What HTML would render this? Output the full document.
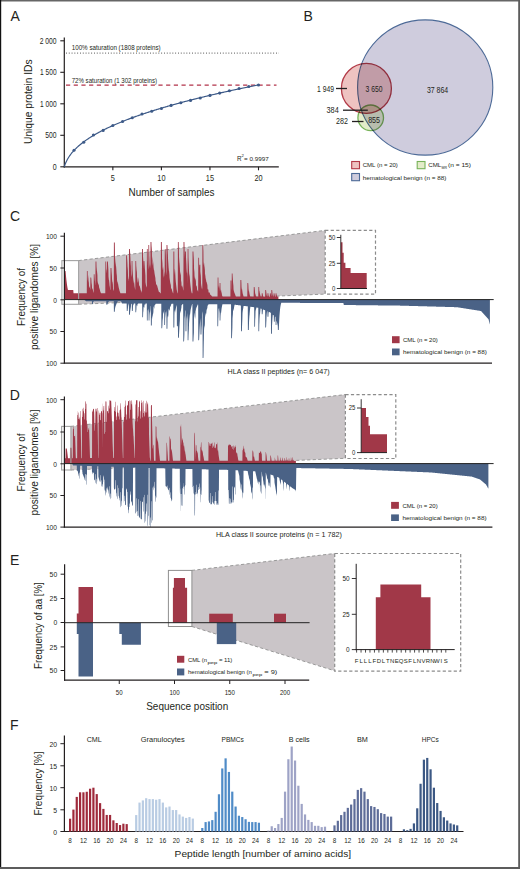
<!DOCTYPE html>
<html><head><meta charset="utf-8"><style>
html,body{margin:0;padding:0;background:#fff;width:520px;height:869px;overflow:hidden}
svg{display:block;font-family:"Liberation Sans", sans-serif}
</style></head><body>
<svg width="520" height="869" viewBox="0 0 520 869">
<rect x="0" y="0" width="520" height="869" fill="#fff"/>
<text x="10.40" y="20.90" font-size="14" text-anchor="start" fill="#231f20" >A</text>
<text x="303.40" y="20.90" font-size="14" text-anchor="start" fill="#231f20" >B</text>
<text x="10.00" y="220.90" font-size="14" text-anchor="start" fill="#231f20" >C</text>
<text x="9.80" y="399.90" font-size="14" text-anchor="start" fill="#231f20" >D</text>
<text x="10.00" y="564.50" font-size="14" text-anchor="start" fill="#231f20" >E</text>
<text x="9.90" y="730.00" font-size="14" text-anchor="start" fill="#231f20" >F</text>
<line x1="64.30" y1="37.50" x2="64.30" y2="167.40" stroke="#231f20" stroke-width="1.2" />
<line x1="63.70" y1="166.80" x2="278.80" y2="166.80" stroke="#231f20" stroke-width="1.2" />
<line x1="60.30" y1="40.80" x2="64.30" y2="40.80" stroke="#231f20" stroke-width="1.1" />
<text x="56.60" y="43.90" font-size="8.6" text-anchor="end" fill="#231f20" textLength="16.90" lengthAdjust="spacingAndGlyphs" >2 000</text>
<line x1="60.30" y1="72.30" x2="64.30" y2="72.30" stroke="#231f20" stroke-width="1.1" />
<text x="56.60" y="75.40" font-size="8.6" text-anchor="end" fill="#231f20" textLength="16.50" lengthAdjust="spacingAndGlyphs" >1 500</text>
<line x1="60.30" y1="103.80" x2="64.30" y2="103.80" stroke="#231f20" stroke-width="1.1" />
<text x="56.60" y="106.90" font-size="8.6" text-anchor="end" fill="#231f20" textLength="16.50" lengthAdjust="spacingAndGlyphs" >1 000</text>
<line x1="60.30" y1="135.30" x2="64.30" y2="135.30" stroke="#231f20" stroke-width="1.1" />
<text x="56.60" y="138.40" font-size="8.6" text-anchor="end" fill="#231f20" textLength="11.30" lengthAdjust="spacingAndGlyphs" >500</text>
<line x1="60.30" y1="166.80" x2="64.30" y2="166.80" stroke="#231f20" stroke-width="1.1" />
<text x="56.60" y="169.90" font-size="8.6" text-anchor="end" fill="#231f20" textLength="3.90" lengthAdjust="spacingAndGlyphs" >0</text>
<line x1="112.85" y1="166.80" x2="112.85" y2="170.30" stroke="#231f20" stroke-width="1.1" />
<text x="112.85" y="181.20" font-size="8.8" text-anchor="middle" fill="#231f20" textLength="4.10" lengthAdjust="spacingAndGlyphs" >5</text>
<line x1="161.40" y1="166.80" x2="161.40" y2="170.30" stroke="#231f20" stroke-width="1.1" />
<text x="161.40" y="181.20" font-size="8.8" text-anchor="middle" fill="#231f20" textLength="8.20" lengthAdjust="spacingAndGlyphs" >10</text>
<line x1="209.95" y1="166.80" x2="209.95" y2="170.30" stroke="#231f20" stroke-width="1.1" />
<text x="209.95" y="181.20" font-size="8.8" text-anchor="middle" fill="#231f20" textLength="8.20" lengthAdjust="spacingAndGlyphs" >15</text>
<line x1="258.50" y1="166.80" x2="258.50" y2="170.30" stroke="#231f20" stroke-width="1.1" />
<text x="258.50" y="181.20" font-size="8.8" text-anchor="middle" fill="#231f20" textLength="8.20" lengthAdjust="spacingAndGlyphs" >20</text>
<text x="171.50" y="195.50" font-size="10.6" text-anchor="middle" fill="#231f20" textLength="86.00" lengthAdjust="spacingAndGlyphs" >Number of samples</text>
<text x="32.20" y="101.70" font-size="11" text-anchor="middle" fill="#231f20" textLength="84.60" lengthAdjust="spacingAndGlyphs" transform="rotate(-90 32.20 101.70)" >Unique protein IDs</text>
<line x1="66.00" y1="53.10" x2="279.00" y2="53.10" stroke="#444" stroke-width="1.0" stroke-dasharray="0.9 1.9"/>
<line x1="66.00" y1="85.20" x2="276.50" y2="85.20" stroke="#b2334a" stroke-width="1.2" stroke-dasharray="4.2 3.5"/>
<text x="71.70" y="50.00" font-size="7.0" text-anchor="start" fill="#231f20" textLength="89.00" lengthAdjust="spacingAndGlyphs" >100% saturation (1808 proteins)</text>
<text x="71.70" y="82.60" font-size="7.0" text-anchor="start" fill="#231f20" textLength="85.30" lengthAdjust="spacingAndGlyphs" >72% saturation (1 302 proteins)</text>
<text x="237.00" y="160.60" font-size="6.3" text-anchor="start" fill="#231f20" >R</text>
<text x="241.40" y="157.30" font-size="4.2" text-anchor="start" fill="#231f20" >2</text>
<text x="244.00" y="160.60" font-size="6.0" text-anchor="start" fill="#231f20" textLength="24.80" lengthAdjust="spacingAndGlyphs" >= 0.9997</text>
<polyline points="64.30,166.80 64.91,164.91 65.51,163.32 66.12,161.91 66.73,160.65 67.33,159.50 67.94,158.44 68.55,157.45 69.16,156.51 69.76,155.63 70.37,154.79 70.98,153.99 71.58,153.22 72.19,152.48 72.80,151.78 73.40,151.09 74.01,150.43 74.62,149.79 75.22,149.17 75.83,148.56 76.44,147.98 77.04,147.40 77.65,146.84 78.26,146.30 78.86,145.77 79.47,145.25 80.08,144.74 80.69,144.24 81.29,143.75 81.90,143.27 82.51,142.79 83.11,142.33 83.72,141.88 84.33,141.43 84.93,140.99 85.54,140.56 86.15,140.13 86.75,139.71 87.36,139.30 87.97,138.89 88.58,138.49 89.18,138.09 89.79,137.70 90.40,137.31 91.00,136.93 91.61,136.56 92.22,136.19 92.82,135.82 93.43,135.46 94.04,135.10 94.64,134.74 95.25,134.39 95.86,134.05 96.46,133.70 97.07,133.37 97.68,133.03 98.28,132.70 98.89,132.37 99.50,132.04 100.11,131.72 100.71,131.40 101.32,131.09 101.93,130.77 102.53,130.46 103.14,130.15 103.75,129.85 104.35,129.55 104.96,129.25 105.57,128.95 106.17,128.65 106.78,128.36 107.39,128.07 108.00,127.78 108.60,127.50 109.21,127.21 109.82,126.93 110.42,126.65 111.03,126.38 111.64,126.10 112.24,125.83 112.85,125.56 113.46,125.29 114.06,125.02 114.67,124.76 115.28,124.49 115.88,124.23 116.49,123.97 117.10,123.72 117.70,123.46 118.31,123.20 118.92,122.95 119.53,122.70 120.13,122.45 120.74,122.20 121.35,121.95 121.95,121.71 122.56,121.47 123.17,121.22 123.77,120.98 124.38,120.74 124.99,120.50 125.59,120.27 126.20,120.03 126.81,119.80 127.42,119.56 128.02,119.33 128.63,119.10 129.24,118.87 129.84,118.65 130.45,118.42 131.06,118.19 131.66,117.97 132.27,117.75 132.88,117.53 133.48,117.30 134.09,117.08 134.70,116.87 135.30,116.65 135.91,116.43 136.52,116.22 137.12,116.00 137.73,115.79 138.34,115.58 138.95,115.37 139.55,115.16 140.16,114.95 140.77,114.74 141.37,114.53 141.98,114.32 142.59,114.12 143.19,113.91 143.80,113.71 144.41,113.51 145.01,113.31 145.62,113.10 146.23,112.90 146.84,112.71 147.44,112.51 148.05,112.31 148.66,112.11 149.26,111.92 149.87,111.72 150.48,111.53 151.08,111.33 151.69,111.14 152.30,110.95 152.90,110.76 153.51,110.57 154.12,110.38 154.72,110.19 155.33,110.00 155.94,109.81 156.55,109.63 157.15,109.44 157.76,109.25 158.37,109.07 158.97,108.89 159.58,108.70 160.19,108.52 160.79,108.34 161.40,108.16 162.01,107.98 162.61,107.80 163.22,107.62 163.83,107.44 164.43,107.26 165.04,107.08 165.65,106.91 166.25,106.73 166.86,106.55 167.47,106.38 168.08,106.20 168.68,106.03 169.29,105.86 169.90,105.68 170.50,105.51 171.11,105.34 171.72,105.17 172.32,105.00 172.93,104.83 173.54,104.66 174.14,104.49 174.75,104.32 175.36,104.16 175.97,103.99 176.57,103.82 177.18,103.66 177.79,103.49 178.39,103.33 179.00,103.16 179.61,103.00 180.21,102.83 180.82,102.67 181.43,102.51 182.03,102.35 182.64,102.18 183.25,102.02 183.85,101.86 184.46,101.70 185.07,101.54 185.68,101.38 186.28,101.22 186.89,101.07 187.50,100.91 188.10,100.75 188.71,100.59 189.32,100.44 189.92,100.28 190.53,100.13 191.14,99.97 191.74,99.82 192.35,99.66 192.96,99.51 193.56,99.36 194.17,99.20 194.78,99.05 195.38,98.90 195.99,98.75 196.60,98.59 197.21,98.44 197.81,98.29 198.42,98.14 199.03,97.99 199.63,97.84 200.24,97.69 200.85,97.55 201.45,97.40 202.06,97.25 202.67,97.10 203.27,96.96 203.88,96.81 204.49,96.66 205.10,96.52 205.70,96.37 206.31,96.23 206.92,96.08 207.52,95.94 208.13,95.79 208.74,95.65 209.34,95.50 209.95,95.36 210.56,95.22 211.16,95.08 211.77,94.93 212.38,94.79 212.98,94.65 213.59,94.51 214.20,94.37 214.81,94.23 215.41,94.09 216.02,93.95 216.63,93.81 217.23,93.67 217.84,93.53 218.45,93.39 219.05,93.26 219.66,93.12 220.27,92.98 220.87,92.84 221.48,92.71 222.09,92.57 222.69,92.43 223.30,92.30 223.91,92.16 224.51,92.03 225.12,91.89 225.73,91.76 226.34,91.62 226.94,91.49 227.55,91.35 228.16,91.22 228.76,91.09 229.37,90.95 229.98,90.82 230.58,90.69 231.19,90.56 231.80,90.43 232.40,90.29 233.01,90.16 233.62,90.03 234.23,89.90 234.83,89.77 235.44,89.64 236.05,89.51 236.65,89.38 237.26,89.25 237.87,89.12 238.47,88.99 239.08,88.86 239.69,88.74 240.29,88.61 240.90,88.48 241.51,88.35 242.11,88.23 242.72,88.10 243.33,87.97 243.94,87.85 244.54,87.72 245.15,87.59 245.76,87.47 246.36,87.34 246.97,87.22 247.58,87.09 248.18,86.97 248.79,86.84 249.40,86.72 250.00,86.59 250.61,86.47 251.22,86.35 251.82,86.22 252.43,86.10 253.04,85.98 253.65,85.85 254.25,85.73 254.86,85.61 255.47,85.49 256.07,85.36 256.68,85.24 257.29,85.12 257.89,85.00 258.50,84.88" fill="none" stroke="#3d5a88" stroke-width="1.2"/>
<circle cx="74.01" cy="150.30" r="1.55" fill="#3d5a88"/>
<circle cx="83.72" cy="142.30" r="1.55" fill="#3d5a88"/>
<circle cx="93.43" cy="135.00" r="1.55" fill="#3d5a88"/>
<circle cx="103.14" cy="130.40" r="1.55" fill="#3d5a88"/>
<circle cx="112.85" cy="125.50" r="1.55" fill="#3d5a88"/>
<circle cx="122.56" cy="121.50" r="1.55" fill="#3d5a88"/>
<circle cx="132.27" cy="117.80" r="1.55" fill="#3d5a88"/>
<circle cx="141.98" cy="114.00" r="1.55" fill="#3d5a88"/>
<circle cx="151.69" cy="111.20" r="1.55" fill="#3d5a88"/>
<circle cx="161.40" cy="108.50" r="1.55" fill="#3d5a88"/>
<circle cx="171.11" cy="105.40" r="1.55" fill="#3d5a88"/>
<circle cx="180.82" cy="102.70" r="1.55" fill="#3d5a88"/>
<circle cx="190.53" cy="100.40" r="1.55" fill="#3d5a88"/>
<circle cx="200.24" cy="98.00" r="1.55" fill="#3d5a88"/>
<circle cx="209.95" cy="95.40" r="1.55" fill="#3d5a88"/>
<circle cx="219.66" cy="93.10" r="1.55" fill="#3d5a88"/>
<circle cx="229.37" cy="90.80" r="1.55" fill="#3d5a88"/>
<circle cx="239.08" cy="88.50" r="1.55" fill="#3d5a88"/>
<circle cx="248.79" cy="86.50" r="1.55" fill="#3d5a88"/>
<circle cx="258.50" cy="85.00" r="1.55" fill="#3d5a88"/>
<g style="isolation:isolate">
<circle cx="425.2" cy="87.5" r="67.6" fill="#cfccdd" stroke="#4d6a97" stroke-width="1.1"/>
<circle cx="366.4" cy="88.4" r="25" fill="#eec3c1" stroke="#b23a47" stroke-width="1.3" style="mix-blend-mode:multiply"/>
<circle cx="370.7" cy="117.8" r="12.8" fill="#e3ecc9" stroke="#78b35a" stroke-width="1.3" style="mix-blend-mode:multiply"/>
</g>
<text x="374.00" y="92.20" font-size="8.6" text-anchor="middle" fill="#231f20" textLength="16.90" lengthAdjust="spacingAndGlyphs" >3 650</text>
<text x="437.60" y="92.60" font-size="8.6" text-anchor="middle" fill="#231f20" textLength="21.30" lengthAdjust="spacingAndGlyphs" >37 864</text>
<text x="374.10" y="122.50" font-size="8.6" text-anchor="middle" fill="#231f20" textLength="11.90" lengthAdjust="spacingAndGlyphs" >855</text>
<text x="334.00" y="92.10" font-size="8.6" text-anchor="end" fill="#231f20" textLength="17.00" lengthAdjust="spacingAndGlyphs" >1 949</text>
<text x="338.70" y="113.10" font-size="8.6" text-anchor="end" fill="#231f20" textLength="12.20" lengthAdjust="spacingAndGlyphs" >384</text>
<text x="347.90" y="124.40" font-size="8.6" text-anchor="end" fill="#231f20" textLength="11.90" lengthAdjust="spacingAndGlyphs" >282</text>
<line x1="336.00" y1="88.50" x2="347.00" y2="88.50" stroke="#231f20" stroke-width="1.3" />
<line x1="343.00" y1="110.20" x2="367.80" y2="110.20" stroke="#231f20" stroke-width="1.3" />
<line x1="352.00" y1="121.50" x2="363.50" y2="121.50" stroke="#231f20" stroke-width="1.3" />
<rect x="351.70" y="161.50" width="7.80" height="7.20" fill="#eec3c1" stroke="#b23a47" stroke-width="1.1" />
<rect x="351.70" y="173.50" width="7.80" height="7.20" fill="#cfccdd" stroke="#4d6a97" stroke-width="1.1" />
<rect x="417.20" y="161.50" width="7.80" height="7.20" fill="#e3ecc9" stroke="#78b35a" stroke-width="1.1" />
<text x="362.70" y="167.30" font-size="6.2" text-anchor="start" fill="#231f20" textLength="35.20" lengthAdjust="spacingAndGlyphs" >CML (n = 20)</text>
<text x="362.70" y="179.50" font-size="6.2" text-anchor="start" fill="#231f20" textLength="83.70" lengthAdjust="spacingAndGlyphs" >hematological benign (n = 88)</text>
<text x="428.30" y="167.30" font-size="6.2" text-anchor="start" fill="#231f20" textLength="13.00" lengthAdjust="spacingAndGlyphs" >CML</text>
<text x="441.50" y="169.30" font-size="3.6" text-anchor="start" fill="#231f20" textLength="5.50" lengthAdjust="spacingAndGlyphs" >MR</text>
<text x="448.00" y="167.30" font-size="6.2" text-anchor="start" fill="#231f20" textLength="23.00" lengthAdjust="spacingAndGlyphs" >(n = 15)</text>
<polygon points="78.6,260.6 325.2,230.4 325.2,294.1 78.6,304.3" fill="#cac5c8"/>
<line x1="78.60" y1="260.60" x2="325.20" y2="230.40" stroke="#999" stroke-width="1.0" stroke-dasharray="3.2 2.3"/>
<line x1="78.60" y1="304.30" x2="325.20" y2="294.10" stroke="#999" stroke-width="1.0" stroke-dasharray="3.2 2.3"/>
<path d="M64.40,299.60L64.40,293.26L64.53,293.11L64.65,292.96L64.78,271.07L64.90,271.07L65.03,271.07L65.15,271.07L65.28,271.07L65.40,271.07L65.53,271.07L65.65,271.72L65.78,273.29L65.90,274.77L66.03,276.17L66.15,277.48L66.28,278.73L66.40,279.90L66.53,281.01L66.65,282.05L66.78,283.04L66.90,283.97L67.03,284.85L67.15,285.68L67.28,286.46L67.40,287.20L67.53,287.90L67.65,288.56L67.78,289.18L67.90,289.76L68.03,290.09L68.15,290.09L68.28,290.09L68.40,290.09L68.53,290.09L68.65,290.09L68.78,290.09L68.90,290.09L69.03,290.09L69.15,290.09L69.28,290.09L69.40,290.09L69.53,290.09L69.65,290.09L69.78,290.09L69.90,290.09L70.03,290.09L70.15,290.09L70.28,290.09L70.40,290.09L70.53,290.09L70.65,290.09L70.78,290.09L70.90,290.09L71.03,290.09L71.15,290.09L71.28,290.09L71.40,290.09L71.53,290.09L71.65,290.09L71.78,290.09L71.90,290.09L72.03,290.09L72.15,290.09L72.28,290.09L72.40,290.09L72.53,290.09L72.65,290.09L72.78,290.09L72.90,290.09L73.03,290.09L73.15,290.09L73.28,290.09L73.40,291.68L73.53,293.26L73.65,293.26L73.78,293.26L73.90,293.26L74.03,293.26L74.15,293.26L74.28,293.26L74.40,293.26L74.53,293.26L74.65,293.26L74.78,293.26L74.90,293.26L75.03,293.26L75.15,293.26L75.28,293.26L75.40,293.26L75.53,293.26L75.65,293.26L75.78,293.26L75.90,293.26L76.03,293.26L76.15,293.26L76.28,293.26L76.40,293.26L76.53,293.26L76.65,293.26L76.78,293.26L76.90,293.26L77.03,293.26L77.15,293.26L77.28,293.26L77.40,293.26L77.53,293.26L77.65,293.26L77.78,293.26L77.90,293.26L78.03,293.26L78.15,293.26L78.28,293.26L78.40,293.26L78.53,293.26L78.65,293.26L78.78,293.26L78.90,293.26L79.03,293.26L79.15,293.26L79.28,293.26L79.40,293.26L79.53,293.26L79.65,293.26L79.78,293.26L79.90,293.26L80.03,293.26L80.15,293.26L80.28,293.26L80.40,293.26L80.53,293.26L80.65,293.26L80.78,293.26L80.90,293.26L81.03,293.26L81.15,293.26L81.28,293.26L81.40,293.26L81.53,293.26L81.65,293.26L81.78,293.26L81.90,293.26L82.03,293.26L82.15,293.26L82.28,293.26L82.40,293.26L82.53,293.26L82.65,293.26L82.78,293.26L82.90,293.26L83.03,293.26L83.15,293.26L83.28,293.26L83.40,293.26L83.53,293.26L83.65,293.26L83.78,293.26L83.90,293.26L84.03,293.26L84.15,293.26L84.28,293.26L84.40,293.26L84.53,293.26L84.65,293.26L84.78,293.26L84.90,293.26L85.03,293.26L85.15,293.26L85.28,293.26L85.40,293.26L85.53,293.26L85.65,293.26L85.78,293.26L85.90,293.26L86.03,293.26L86.15,293.26L86.28,293.26L86.40,293.26L86.53,293.26L86.65,293.26L86.78,293.26L86.90,271.07L87.03,271.07L87.15,271.07L87.28,271.07L87.40,271.07L87.53,271.07L87.65,271.07L87.78,279.85L87.90,280.67L88.03,274.85L88.15,276.02L88.28,277.14L88.40,278.20L88.53,280.24L88.65,281.13L88.78,281.98L88.90,282.79L89.03,286.75L89.15,287.24L89.28,287.71L89.40,288.16L89.53,285.60L89.65,286.26L89.78,286.90L89.90,287.50L90.03,288.92L90.15,289.38L90.28,289.81L90.40,277.41L90.53,277.41L90.65,277.41L90.78,277.41L90.90,277.41L91.03,277.41L91.15,277.41L91.28,278.58L91.40,279.83L91.53,282.40L91.65,283.38L91.78,284.30L91.90,285.16L92.03,287.97L92.15,288.52L92.28,289.05L92.40,289.54L92.53,288.11L92.65,288.79L92.78,289.44L92.90,290.04L93.03,290.92L93.15,291.39L93.28,291.84L93.40,292.25L93.53,292.74L93.65,293.05L93.78,274.24L93.90,274.24L94.03,274.24L94.15,274.24L94.28,274.24L94.40,274.24L94.53,274.24L94.65,276.94L94.78,278.89L94.90,280.67L95.03,281.32L95.15,282.93L95.28,284.39L95.40,285.72L95.53,261.56L95.65,261.56L95.78,261.56L95.90,261.56L96.03,261.56L96.15,261.56L96.28,261.56L96.40,261.56L96.53,266.43L96.65,267.98L96.78,269.45L96.90,270.86L97.03,271.20L97.15,272.53L97.28,273.80L97.40,275.01L97.53,280.81L97.65,281.61L97.78,282.37L97.90,283.10L98.03,283.09L98.15,283.80L98.28,284.47L98.40,285.11L98.53,283.44L98.65,284.20L98.78,284.92L98.90,285.60L99.03,287.01L99.15,287.57L99.28,288.09L99.40,288.60L99.53,288.52L99.65,289.04L99.78,289.53L99.90,290.00L100.03,290.61L100.15,291.01L100.28,291.39L100.40,291.76L100.53,292.05L100.65,292.40L100.78,292.72L100.90,293.03L101.03,293.26L101.15,293.26L101.28,293.26L101.40,293.26L101.53,293.26L101.65,293.26L101.78,293.26L101.90,293.26L102.03,293.26L102.15,293.26L102.28,293.26L102.40,293.26L102.53,293.26L102.65,293.26L102.78,293.26L102.90,293.26L103.03,293.26L103.15,293.26L103.28,293.26L103.40,293.26L103.53,293.26L103.65,293.26L103.78,293.26L103.90,293.26L104.03,293.26L104.15,293.26L104.28,293.26L104.40,293.26L104.53,293.26L104.65,293.26L104.78,293.26L104.90,293.26L105.03,293.26L105.15,293.26L105.28,293.26L105.40,261.56L105.53,261.56L105.65,261.56L105.78,261.56L105.90,261.56L106.03,261.56L106.15,261.56L106.28,268.20L106.40,269.64L106.53,269.43L106.65,270.83L106.78,272.16L106.90,273.43L107.03,261.56L107.15,261.56L107.28,261.56L107.40,261.56L107.53,261.56L107.65,261.56L107.78,261.56L107.90,261.56L108.03,263.95L108.15,266.08L108.28,268.09L108.40,269.97L108.53,276.55L108.65,277.85L108.78,279.06L108.90,280.21L109.03,279.69L109.15,280.84L109.28,281.91L109.40,282.92L109.53,284.89L109.65,285.68L109.78,286.43L109.90,287.14L110.03,289.15L110.15,289.62L110.28,290.06L110.40,290.47L110.53,267.90L110.65,267.90L110.78,267.90L110.90,267.90L111.03,267.90L111.15,267.90L111.28,267.90L111.40,267.90L111.53,270.80L111.65,272.51L111.78,274.12L111.90,275.63L112.03,279.00L112.15,280.17L112.28,281.27L112.40,282.31L112.53,281.71L112.65,282.77L112.78,283.77L112.90,284.70L113.03,288.69L113.15,289.18L113.28,289.65L113.40,290.08L113.53,290.41L113.65,290.81L113.78,291.18L113.90,242.54L114.03,242.54L114.15,242.54L114.28,242.54L114.40,242.54L114.53,242.54L114.65,242.54L114.78,242.54L114.90,249.59L115.03,261.97L115.15,263.66L115.28,265.27L115.40,266.81L115.53,256.87L115.65,258.90L115.78,260.84L115.90,262.68L116.03,265.45L116.15,267.06L116.28,268.60L116.40,270.06L116.53,272.67L116.65,273.92L116.78,275.12L116.90,276.25L117.03,280.00L117.15,280.86L117.28,281.67L117.40,282.45L117.53,281.30L117.65,282.14L117.78,282.94L117.90,283.70L118.03,283.45L118.15,284.22L118.28,284.95L118.40,285.64L118.53,286.62L118.65,287.22L118.78,287.79L118.90,288.34L119.03,288.83L119.15,289.33L119.28,289.80L119.40,290.25L119.53,290.67L119.65,291.08L119.78,291.47L119.90,291.85L120.03,292.17L120.15,292.52L120.28,292.85L120.40,293.17L120.53,293.26L120.65,293.26L120.78,293.26L120.90,293.26L121.03,293.26L121.15,293.26L121.28,293.26L121.40,293.26L121.53,293.26L121.65,293.26L121.78,293.26L121.90,293.26L122.03,293.26L122.15,293.26L122.28,293.26L122.40,293.26L122.53,293.26L122.65,293.26L122.78,293.26L122.90,293.26L123.03,293.26L123.15,293.26L123.28,293.26L123.40,293.26L123.53,293.26L123.65,293.26L123.78,293.26L123.90,293.26L124.03,293.26L124.15,293.26L124.28,293.26L124.40,293.26L124.53,293.26L124.65,293.26L124.78,293.26L124.90,293.26L125.03,293.26L125.15,293.26L125.28,293.26L125.40,293.26L125.53,293.26L125.65,293.26L125.78,293.26L125.90,293.26L126.03,293.26L126.15,255.22L126.28,255.22L126.40,255.22L126.53,255.22L126.65,255.22L126.78,255.22L126.90,255.22L127.03,256.92L127.15,258.85L127.28,260.68L127.40,262.43L127.53,266.14L127.65,267.62L127.78,269.04L127.90,270.39L128.03,276.10L128.15,277.08L128.28,278.02L128.40,278.91L128.53,278.74L128.65,279.62L128.78,280.46L128.90,281.26L129.03,248.88L129.15,248.88L129.28,248.88L129.40,248.88L129.53,248.88L129.65,248.88L129.78,248.88L129.90,248.88L130.03,251.27L130.15,253.45L130.28,255.54L130.40,257.53L130.53,261.31L130.65,263.02L130.78,264.66L130.90,266.22L131.03,274.22L131.15,275.28L131.28,276.30L131.40,277.27L131.53,273.58L131.65,260.93L131.78,260.93L131.90,260.93L132.03,260.93L132.15,260.93L132.28,260.93L132.40,260.93L132.53,269.00L132.65,270.74L132.78,272.38L132.90,273.92L133.03,276.89L133.15,278.13L133.28,279.30L133.40,280.40L133.53,280.70L133.65,281.74L133.78,282.71L133.90,283.62L134.03,281.39L134.15,282.48L134.28,283.50L134.40,284.47L134.53,286.00L134.65,286.78L134.78,287.52L134.90,288.21L135.03,288.95L135.15,289.55L135.28,290.11L135.40,260.93L135.53,260.93L135.65,260.93L135.78,260.93L135.90,260.93L136.03,260.93L136.15,260.93L136.28,265.93L136.40,267.12L136.53,269.26L136.65,270.33L136.78,271.35L136.90,272.34L137.03,276.71L137.15,277.47L137.28,278.20L137.40,278.91L137.53,281.38L137.65,281.95L137.78,282.50L137.90,283.03L138.03,277.20L138.15,278.01L138.28,278.80L138.40,279.55L138.53,280.49L138.65,281.18L138.78,281.85L138.90,282.49L139.03,284.89L139.15,285.38L139.28,285.85L139.40,286.31L139.53,285.22L139.65,285.75L139.78,286.25L139.90,286.73L140.03,287.29L140.15,287.73L140.28,288.16L140.40,288.57L140.53,289.52L140.65,289.85L140.78,290.17L140.90,290.48L141.03,290.38L141.15,290.71L141.28,291.03L141.40,291.34L141.53,292.07L141.65,292.28L141.78,292.48L141.90,292.68L142.03,248.88L142.15,248.88L142.28,248.88L142.40,248.88L142.53,248.88L142.65,248.88L142.78,248.88L142.90,248.88L143.03,256.55L143.15,258.46L143.28,260.28L143.40,262.03L143.53,269.05L143.65,260.93L143.78,260.93L143.90,260.93L144.03,260.93L144.15,260.93L144.28,260.93L144.40,260.93L144.53,262.48L144.65,264.69L144.78,266.77L144.90,268.72L145.03,270.06L145.15,271.82L145.28,273.48L145.40,275.04L145.53,282.16L145.65,283.07L145.78,283.93L145.90,284.74L146.03,285.80L146.15,286.49L146.28,287.13L146.40,287.74L146.53,285.51L146.65,286.35L146.78,287.13L146.90,248.88L147.03,248.88L147.15,248.88L147.28,248.88L147.40,248.88L147.53,248.88L147.65,248.88L147.78,260.28L147.90,261.99L148.03,267.05L148.15,268.43L148.28,269.75L148.40,245.08L148.53,245.08L148.65,245.08L148.78,245.08L148.90,245.08L149.03,245.08L149.15,245.08L149.28,255.86L149.40,257.78L149.53,263.59L149.65,265.14L149.78,266.61L149.90,268.02L150.03,264.03L150.15,265.60L150.28,267.10L150.40,268.53L150.53,241.91L150.65,241.91L150.78,241.91L150.90,241.91L151.03,241.91L151.15,241.91L151.28,241.91L151.40,241.91L151.53,245.43L151.65,247.07L151.78,248.66L151.90,250.20L152.03,262.82L152.15,263.88L152.28,264.91L152.40,265.90L152.53,255.93L152.65,257.26L152.78,258.55L152.90,259.79L153.03,260.98L153.15,262.15L153.28,263.29L153.40,264.39L153.53,267.10L153.65,268.07L153.78,269.02L153.90,269.94L154.03,269.47L154.15,270.38L154.28,271.27L154.40,272.13L154.53,273.13L154.65,273.94L154.78,274.71L154.90,275.47L155.03,276.03L155.15,276.75L155.28,277.44L155.40,278.12L155.53,280.56L155.65,281.12L155.78,281.65L155.90,282.18L156.03,283.82L156.15,284.26L156.28,284.68L156.40,285.10L156.53,284.14L156.65,284.59L156.78,285.03L156.90,285.46L157.03,285.28L157.15,285.71L157.28,286.13L157.40,286.54L157.53,287.20L157.65,287.57L157.78,287.92L157.90,288.27L158.03,289.13L158.15,289.42L158.28,289.70L158.40,289.97L158.53,291.10L158.65,291.28L158.78,291.46L158.90,291.63L159.03,291.90L159.15,292.05L159.28,292.19L159.40,292.33L159.53,291.88L159.65,292.11L159.78,292.33L159.90,292.55L160.03,292.74L160.15,292.95L160.28,293.15L160.40,293.26L160.53,293.26L160.65,293.26L160.78,293.26L160.90,241.91L161.03,241.91L161.15,241.91L161.28,241.91L161.40,241.91L161.53,241.91L161.65,241.91L161.78,241.91L161.90,248.40L162.03,258.57L162.15,260.10L162.28,261.57L162.40,262.99L162.53,267.10L162.65,268.28L162.78,269.42L162.90,270.51L163.03,265.97L163.15,267.24L163.28,268.46L163.40,269.63L163.53,275.49L163.65,276.35L163.78,277.17L163.90,277.96L164.03,271.14L164.15,272.24L164.28,273.31L164.40,274.33L164.53,275.91L164.65,276.82L164.78,248.88L164.90,248.88L165.03,248.88L165.15,248.88L165.28,248.88L165.40,248.88L165.53,248.88L165.65,250.36L165.78,253.20L165.90,255.88L166.03,271.27L166.15,272.77L166.28,274.18L166.40,275.51L166.53,245.08L166.65,245.08L166.78,245.08L166.90,245.08L167.03,245.08L167.15,245.08L167.28,245.08L167.40,245.08L167.53,247.72L167.65,250.13L167.78,252.43L167.90,254.62L168.03,258.77L168.15,260.66L168.28,262.45L168.40,264.16L168.53,266.38L168.65,267.90L168.78,269.35L168.90,270.73L169.03,270.58L169.15,271.93L169.28,273.21L169.40,274.43L169.53,277.52L169.65,278.51L169.78,279.46L169.90,280.36L170.03,281.31L170.15,282.12L170.28,282.90L170.40,283.63L170.53,283.48L170.65,284.22L170.78,284.92L170.90,285.59L171.03,287.70L171.15,288.18L171.28,288.64L171.40,289.07L171.53,288.33L171.65,288.85L171.78,289.35L171.90,289.82L172.03,290.29L172.15,290.72L172.28,291.12L172.40,291.51L172.53,291.94L172.65,292.28L172.78,292.60L172.90,292.91L173.03,293.21L173.15,293.26L173.28,293.26L173.40,251.42L173.53,251.42L173.65,251.42L173.78,251.42L173.90,251.42L174.03,251.42L174.15,251.42L174.28,251.42L174.40,269.15L174.53,268.76L174.65,270.97L174.78,273.00L174.90,274.88L175.03,269.32L175.15,271.62L175.28,273.76L175.40,275.73L175.53,278.43L175.65,280.02L175.78,281.48L175.90,282.84L176.03,283.72L176.15,284.92L176.28,286.03L176.40,287.05L176.53,288.36L176.65,289.17L176.78,289.93L176.90,290.62L177.03,291.13L177.15,291.76L177.28,292.35L177.40,292.88L177.53,293.26L177.65,293.26L177.78,293.26L177.90,241.91L178.03,241.91L178.15,241.91L178.28,241.91L178.40,241.91L178.53,241.91L178.65,241.91L178.78,246.81L178.90,249.24L179.03,257.11L179.15,259.03L179.28,260.86L179.40,262.61L179.53,263.18L179.65,264.83L179.78,266.40L179.90,267.89L180.03,272.02L180.15,273.23L180.28,274.38L180.40,275.48L180.53,270.85L180.65,272.19L180.78,273.46L180.90,274.68L181.03,280.16L181.15,280.99L181.28,281.79L181.40,282.54L181.53,285.30L181.65,285.85L181.78,286.37L181.90,286.87L182.03,284.97L182.15,285.60L182.28,286.20L182.40,286.78L182.53,286.43L182.65,287.03L182.78,287.60L182.90,288.15L183.03,289.46L183.15,289.87L183.28,290.27L183.40,290.64L183.53,241.91L183.65,241.91L183.78,241.91L183.90,241.91L184.03,241.91L184.15,241.91L184.28,241.91L184.40,241.91L184.53,246.76L184.65,250.79L184.78,254.51L184.90,257.95L185.03,251.42L185.15,251.42L185.28,251.42L185.40,251.42L185.53,251.42L185.65,251.42L185.78,251.42L185.90,251.42L186.03,257.37L186.15,259.78L186.28,262.05L186.40,264.19L186.53,268.49L186.65,270.23L186.78,271.87L186.90,273.41L187.03,271.42L187.15,273.04L187.28,274.58L187.40,276.02L187.53,284.36L187.65,248.88L187.78,248.88L187.90,248.88L188.03,248.88L188.15,248.88L188.28,248.88L188.40,248.88L188.53,257.62L188.65,260.74L188.78,263.62L188.90,266.27L189.03,271.08L189.15,273.13L189.28,275.02L189.40,276.77L189.53,273.46L189.65,275.45L189.78,277.28L189.90,278.98L190.03,280.89L190.15,282.30L190.28,283.60L190.40,284.80L190.53,285.79L190.65,286.83L190.78,287.79L190.90,288.68L191.03,290.01L191.15,290.66L191.28,291.27L191.40,291.83L191.53,292.17L191.65,292.74L191.78,293.26L191.90,293.26L192.03,293.26L192.15,293.26L192.28,293.26L192.40,293.26L192.53,251.42L192.65,251.42L192.78,251.42L192.90,251.42L193.03,251.42L193.15,251.42L193.28,251.42L193.40,251.42L193.53,253.85L193.65,255.98L193.78,258.01L193.90,259.94L194.03,268.30L194.15,269.70L194.28,271.02L194.40,272.29L194.53,275.73L194.65,276.75L194.78,277.73L194.90,278.66L195.03,277.15L195.15,278.14L195.28,279.09L195.40,279.99L195.53,278.55L195.65,279.52L195.78,280.45L195.90,281.33L196.03,285.03L196.15,285.63L196.28,286.20L196.40,286.74L196.53,285.03L196.65,285.70L196.78,286.35L196.90,286.96L197.03,289.27L197.15,289.66L197.28,290.03L197.40,290.38L197.53,290.15L197.65,290.54L197.78,290.92L197.90,291.28L198.03,291.40L198.15,291.77L198.28,257.76L198.40,257.76L198.53,257.76L198.65,257.76L198.78,257.76L198.90,257.76L199.03,257.76L199.15,265.15L199.28,267.69L199.40,264.73L199.53,264.73L199.65,264.73L199.78,264.73L199.90,264.73L200.03,264.73L200.15,264.73L200.28,264.73L200.40,275.39L200.53,271.28L200.65,273.40L200.78,275.36L200.90,277.17L201.03,283.21L201.15,284.28L201.28,285.28L201.40,286.20L201.53,286.62L201.65,287.46L201.78,288.23L201.90,288.95L202.03,287.96L202.15,288.85L202.28,289.67L202.40,245.08L202.53,245.08L202.65,245.08L202.78,245.08L202.90,245.08L203.03,245.08L203.15,245.08L203.28,248.39L203.40,250.38L203.53,261.38L203.65,262.81L203.78,264.17L203.90,265.49L204.03,262.36L204.15,263.78L204.28,265.14L204.40,266.44L204.53,266.57L204.65,267.84L204.78,269.05L204.90,270.21L205.03,277.79L205.15,278.55L205.28,279.28L205.40,279.98L205.53,273.57L205.65,274.58L205.78,275.55L205.90,276.49L206.03,279.62L206.15,280.55L206.28,281.45L206.40,282.17L206.53,281.39L206.65,282.09L206.78,282.77L206.90,283.42L207.03,283.42L207.15,284.05L207.28,284.65L207.40,285.23L207.53,288.51L207.65,288.91L207.78,289.29L207.90,289.66L208.03,289.04L208.15,289.43L208.28,289.81L208.40,290.17L208.53,292.02L208.65,292.27L208.78,292.51L208.90,292.74L209.03,291.89L209.15,292.17L209.28,292.44L209.40,292.70L209.53,292.49L209.65,292.76L209.78,293.02L209.90,293.27L210.03,294.70L210.15,294.83L210.28,294.97L210.40,295.09L210.53,294.28L210.65,294.49L210.78,294.69L210.90,294.88L211.03,295.05L211.15,295.23L211.28,295.40L211.40,295.56L211.53,295.89L211.65,296.01L211.78,296.12L211.90,296.22L212.03,296.30L212.15,296.42L212.28,296.43L212.40,296.43L212.53,296.43L212.65,296.43L212.78,296.43L212.90,296.43L213.03,296.43L213.15,296.43L213.28,296.43L213.40,296.43L213.53,296.43L213.65,296.43L213.78,296.43L213.90,296.43L214.03,296.43L214.15,296.43L214.28,296.43L214.40,296.43L214.53,296.43L214.65,296.43L214.78,296.43L214.90,296.43L215.03,296.43L215.15,296.43L215.28,296.43L215.40,296.43L215.53,296.43L215.65,296.43L215.78,296.43L215.90,296.43L216.03,296.43L216.15,296.43L216.28,296.43L216.40,296.43L216.53,296.43L216.65,296.43L216.78,296.43L216.90,296.43L217.03,296.43L217.15,296.43L217.28,296.43L217.40,296.43L217.53,296.43L217.65,277.41L217.78,277.41L217.90,277.41L218.03,277.41L218.15,277.41L218.28,277.41L218.40,277.41L218.53,284.61L218.65,285.92L218.78,287.10L218.90,288.17L219.03,285.11L219.15,286.48L219.28,287.71L219.40,288.83L219.53,291.58L219.65,283.12L219.78,283.12L219.90,283.12L220.03,283.12L220.15,283.12L220.28,283.12L220.40,283.12L220.53,288.84L220.65,289.73L220.78,290.54L220.90,291.27L221.03,289.71L221.15,290.60L221.28,291.42L221.40,292.15L221.53,292.30L221.65,292.99L221.78,293.61L221.90,294.18L222.03,295.37L222.15,295.65L222.28,295.91L222.40,296.14L222.53,296.30L222.65,296.43L222.78,296.43L222.90,296.43L223.03,296.43L223.15,296.43L223.28,296.43L223.40,296.43L223.53,296.43L223.65,296.43L223.78,296.43L223.90,296.43L224.03,296.43L224.15,296.43L224.28,296.43L224.40,296.43L224.53,296.43L224.65,296.43L224.78,296.43L224.90,296.43L225.03,296.43L225.15,296.43L225.28,296.43L225.40,296.43L225.53,296.43L225.65,296.43L225.78,296.43L225.90,296.43L226.03,296.43L226.15,296.43L226.28,296.43L226.40,296.43L226.53,296.43L226.65,296.43L226.78,296.43L226.90,296.43L227.03,296.43L227.15,296.43L227.28,296.43L227.40,296.43L227.53,296.43L227.65,296.43L227.78,296.43L227.90,296.43L228.03,296.43L228.15,296.43L228.28,296.43L228.40,296.43L228.53,296.43L228.65,296.43L228.78,296.43L228.90,296.43L229.03,296.43L229.15,296.43L229.28,296.43L229.40,296.43L229.53,296.43L229.65,296.43L229.78,296.43L229.90,296.43L230.03,296.43L230.15,296.43L230.28,296.43L230.40,296.43L230.53,280.58L230.65,280.58L230.78,280.58L230.90,280.58L231.03,280.58L231.15,280.58L231.28,280.58L231.40,280.58L231.53,288.88L231.65,289.92L231.78,273.61L231.90,273.61L232.03,273.61L232.15,273.61L232.28,273.61L232.40,273.61L232.53,273.61L232.65,275.92L232.78,277.71L232.90,279.36L233.03,281.93L233.15,283.25L233.28,284.47L233.40,285.59L233.53,289.19L233.65,289.90L233.78,290.55L233.90,291.15L234.03,291.32L234.15,291.88L234.28,292.40L234.40,292.87L234.53,292.69L234.65,293.18L234.78,293.63L234.90,294.04L235.03,294.20L235.15,294.59L235.28,294.96L235.40,295.29L235.53,295.82L235.65,296.03L235.78,296.23L235.90,296.41L236.03,296.43L236.15,296.43L236.28,296.43L236.40,296.43L236.53,296.43L236.65,296.43L236.78,296.43L236.90,296.43L237.03,296.43L237.15,296.43L237.28,296.43L237.40,296.43L237.53,296.43L237.65,296.43L237.78,296.43L237.90,296.43L238.03,296.43L238.15,296.43L238.28,296.43L238.40,296.43L238.53,296.43L238.65,296.43L238.78,296.43L238.90,296.43L239.03,296.43L239.15,296.43L239.28,296.43L239.40,296.43L239.53,296.43L239.65,296.43L239.78,296.43L239.90,296.43L240.03,296.43L240.15,296.43L240.28,296.43L240.40,279.95L240.53,279.95L240.65,279.95L240.78,279.95L240.90,279.95L241.03,279.95L241.15,279.95L241.28,279.95L241.40,282.39L241.53,286.75L241.65,287.88L241.78,288.91L241.90,289.84L242.03,288.68L242.15,289.71L242.28,290.64L242.40,291.48L242.53,292.60L242.65,293.23L242.78,293.80L242.90,294.32L243.03,294.61L243.15,295.08L243.28,295.51L243.40,295.89L243.53,296.24L243.65,296.43L243.78,296.43L243.90,296.43L244.03,296.43L244.15,296.43L244.28,296.43L244.40,296.43L244.53,296.43L244.65,296.43L244.78,296.43L244.90,296.43L245.03,296.43L245.15,296.43L245.28,296.43L245.40,296.43L245.53,296.43L245.65,296.43L245.78,296.43L245.90,296.43L246.03,296.43L246.15,296.43L246.28,296.43L246.40,296.43L246.53,296.43L246.65,296.43L246.78,296.43L246.90,296.43L247.03,296.43L247.15,296.43L247.28,296.43L247.40,283.12L247.53,283.12L247.65,283.12L247.78,283.12L247.90,283.12L248.03,283.12L248.15,283.12L248.28,284.07L248.40,285.54L248.53,288.82L248.65,289.78L248.78,290.64L248.90,291.43L249.03,291.10L249.15,291.90L249.28,292.62L249.40,293.28L249.53,293.98L249.65,294.49L249.78,294.96L249.90,295.38L250.03,296.01L250.15,296.23L250.28,296.43L250.40,296.43L250.53,296.43L250.65,296.43L250.78,296.43L250.90,296.43L251.03,296.43L251.15,296.43L251.28,296.43L251.40,296.43L251.53,296.43L251.65,296.43L251.78,296.43L251.90,296.43L252.03,296.43L252.15,296.43L252.28,296.43L252.40,296.43L252.53,296.43L252.65,296.43L252.78,296.43L252.90,296.43L253.03,296.43L253.15,296.43L253.28,296.43L253.40,296.43L253.53,296.43L253.65,296.43L253.78,286.92L253.90,286.92L254.03,286.92L254.15,286.92L254.28,286.92L254.40,286.92L254.53,286.92L254.65,287.83L254.78,289.14L254.90,290.30L255.03,292.45L255.15,293.16L255.28,293.80L255.40,294.36L255.53,294.35L255.65,294.94L255.78,295.46L255.90,295.92L256.02,296.35L256.15,296.43L256.27,296.43L256.40,296.43L256.52,296.43L256.65,296.43L256.77,296.43L256.90,296.43L257.02,296.43L257.15,296.43L257.27,296.43L257.40,296.43L257.52,296.43L257.65,296.43L257.77,296.43L257.90,296.43L258.02,296.43L258.15,296.43L258.27,296.43L258.40,286.92L258.52,286.92L258.65,286.92L258.77,286.92L258.90,286.92L259.02,286.92L259.15,286.92L259.27,290.33L259.40,291.27L259.52,290.98L259.65,291.91L259.77,292.73L259.90,293.46L260.02,293.85L260.15,294.49L260.27,295.06L260.40,295.57L260.52,296.11L260.65,296.42L260.77,296.43L260.90,296.43L261.02,296.43L261.15,296.43L261.27,296.43L261.40,296.43L261.52,296.43L261.65,296.43L261.77,293.26L261.90,293.26L262.02,293.26L262.15,293.26L262.27,293.26L262.40,293.26L262.52,293.26L262.65,293.71L262.77,294.51L262.90,295.20L263.02,295.79L263.15,296.31L263.27,296.43L263.40,296.43L263.52,296.43L263.65,296.43L263.77,296.43L263.90,296.43L264.02,296.43L264.15,296.43L264.27,296.43L264.40,296.43L264.52,296.43L264.65,296.43L264.77,296.43L264.90,296.43L265.02,296.43L265.15,296.43L265.27,290.09L265.40,290.09L265.52,290.09L265.65,290.09L265.77,290.09L265.90,290.09L266.02,290.09L266.15,290.84L266.27,292.03L266.40,293.06L266.52,293.87L266.65,294.66L266.77,295.34L266.90,295.93L267.02,296.43L267.15,296.43L267.27,296.43L267.40,296.43L267.52,293.26L267.65,293.26L267.77,293.26L267.90,293.26L268.02,293.26L268.15,293.26L268.27,293.26L268.40,293.26L268.52,295.03L268.65,295.49L268.77,295.89L268.90,296.23L269.02,296.43L269.15,296.43L269.27,296.43L269.40,296.43L269.52,296.43L269.65,296.43L269.77,296.43L269.90,293.26L270.02,293.26L270.15,293.26L270.27,293.26L270.40,293.26L270.52,293.26L270.65,293.26L270.77,293.90L270.90,294.67L271.02,295.41L271.15,295.94L271.27,296.41L271.40,290.09L271.52,290.09L271.65,290.09L271.77,290.09L271.90,290.09L272.02,290.09L272.15,290.09L272.27,291.19L272.40,292.33L272.52,293.89L272.65,294.58L272.77,295.18L272.90,295.69L273.02,296.16L273.15,296.43L273.27,296.43L273.40,296.43L273.52,296.43L273.65,293.26L273.77,293.26L273.90,293.26L274.02,293.26L274.15,293.26L274.27,293.26L274.40,293.26L274.52,293.97L274.65,294.67L274.77,295.28L274.90,295.80L275.02,296.23L275.15,296.43L275.27,296.43L275.40,296.43L275.52,296.43L275.65,293.26L275.77,293.26L275.90,293.26L276.02,293.26L276.15,293.26L276.27,293.26L276.40,293.26L276.52,294.13L276.65,294.78L276.77,295.35L276.90,295.84L277.02,296.21L277.15,296.43L277.27,296.43L277.40,296.43L277.52,296.43L277.65,296.43L277.77,296.43L277.90,296.43L278.02,296.43L278.15,296.43L278.27,296.43L278.40,296.43L278.40,299.60Z" fill="#a13848"/>
<path d="M64.40,299.60L64.40,299.60L64.53,299.60L64.65,299.60L64.78,299.60L64.90,299.60L65.03,299.60L65.15,299.60L65.28,299.60L65.40,299.60L65.53,299.60L65.65,299.60L65.78,299.60L65.90,299.60L66.03,299.60L66.15,299.60L66.28,299.60L66.40,299.60L66.53,299.60L66.65,299.60L66.78,299.60L66.90,299.60L67.03,299.60L67.15,299.60L67.28,299.60L67.40,299.60L67.53,299.60L67.65,299.60L67.78,299.60L67.90,299.60L68.03,299.60L68.15,299.60L68.28,299.60L68.40,299.60L68.53,299.60L68.65,299.60L68.78,299.60L68.90,299.60L69.03,299.60L69.15,299.60L69.28,299.60L69.40,299.60L69.53,299.60L69.65,299.60L69.78,299.60L69.90,299.60L70.03,299.60L70.15,299.60L70.28,299.60L70.40,299.60L70.53,299.60L70.65,299.60L70.78,299.60L70.90,299.60L71.03,299.60L71.15,299.60L71.28,299.60L71.40,299.60L71.53,299.60L71.65,299.60L71.78,299.60L71.90,299.60L72.03,299.60L72.15,299.60L72.28,299.60L72.40,299.60L72.53,299.60L72.65,299.60L72.78,299.60L72.90,299.60L73.03,299.60L73.15,299.60L73.28,299.60L73.40,299.60L73.53,299.60L73.65,299.60L73.78,299.60L73.90,299.60L74.03,299.60L74.15,299.60L74.28,299.60L74.40,299.60L74.53,299.60L74.65,299.60L74.78,299.60L74.90,299.60L75.03,299.60L75.15,299.60L75.28,299.60L75.40,299.60L75.53,299.60L75.65,299.60L75.78,299.60L75.90,299.60L76.03,299.60L76.15,299.60L76.28,299.60L76.40,299.60L76.53,299.60L76.65,299.60L76.78,299.60L76.90,299.60L77.03,299.60L77.15,299.60L77.28,299.60L77.40,299.60L77.53,299.60L77.65,299.60L77.78,299.60L77.90,299.60L78.03,299.60L78.15,299.60L78.28,299.60L78.40,299.60L78.53,299.60L78.65,299.60L78.78,299.60L78.90,299.60L79.03,299.60L79.15,299.60L79.28,299.60L79.40,299.60L79.53,299.60L79.65,299.60L79.78,299.60L79.90,299.60L80.03,299.60L80.15,299.60L80.28,299.60L80.40,299.60L80.53,299.60L80.65,299.60L80.78,299.60L80.90,299.60L81.03,299.60L81.15,299.60L81.28,299.60L81.40,299.60L81.53,299.60L81.65,299.60L81.78,299.60L81.90,299.60L82.03,299.60L82.15,299.60L82.28,299.60L82.40,299.60L82.53,299.60L82.65,299.60L82.78,299.60L82.90,299.60L83.03,299.60L83.15,299.60L83.28,299.60L83.40,299.60L83.53,299.60L83.65,299.60L83.78,299.60L83.90,299.60L84.03,299.62L84.15,299.72L84.28,299.82L84.40,299.92L84.53,300.02L84.65,300.12L84.78,300.21L84.90,300.31L85.03,300.41L85.15,300.51L85.28,300.61L85.40,300.71L85.53,300.81L85.65,300.91L85.78,301.01L85.90,301.11L86.03,301.19L86.15,301.19L86.28,301.19L86.40,301.19L86.53,301.19L86.65,301.19L86.78,301.19L86.90,301.19L87.03,301.19L87.15,301.19L87.28,301.19L87.40,301.19L87.53,301.19L87.65,301.19L87.78,301.19L87.90,301.19L88.03,301.19L88.15,301.19L88.28,301.19L88.40,301.19L88.53,301.19L88.65,301.19L88.78,301.19L88.90,301.19L89.03,301.19L89.15,301.19L89.28,301.19L89.40,301.19L89.53,301.19L89.65,301.19L89.78,301.19L89.90,301.19L90.03,301.19L90.15,301.19L90.28,301.19L90.40,301.19L90.53,301.19L90.65,301.19L90.78,301.19L90.90,301.19L91.03,301.19L91.15,301.19L91.28,301.19L91.40,301.19L91.53,301.19L91.65,301.19L91.78,301.19L91.90,301.19L92.03,304.04L92.15,304.04L92.28,304.04L92.40,304.04L92.53,304.04L92.65,304.04L92.78,304.04L92.90,304.04L93.03,301.95L93.15,301.82L93.28,301.69L93.40,301.58L93.53,302.10L93.65,301.83L93.78,301.59L93.90,301.38L94.03,301.19L94.15,301.19L94.28,301.19L94.40,301.19L94.53,301.19L94.65,301.19L94.78,301.19L94.90,301.19L95.03,301.19L95.15,301.19L95.28,301.19L95.40,301.19L95.53,301.19L95.65,301.19L95.78,301.19L95.90,301.19L96.03,301.19L96.15,301.19L96.28,301.19L96.40,301.19L96.53,301.19L96.65,301.19L96.78,301.19L96.90,301.19L97.03,301.19L97.15,301.19L97.28,301.19L97.40,301.19L97.53,301.19L97.65,301.19L97.78,301.19L97.90,301.19L98.03,301.19L98.15,301.19L98.28,301.19L98.40,301.19L98.53,301.19L98.65,301.19L98.78,301.19L98.90,301.19L99.03,301.19L99.15,301.19L99.28,301.19L99.40,301.19L99.53,301.19L99.65,301.19L99.78,301.19L99.90,301.19L100.03,301.19L100.15,301.19L100.28,301.19L100.40,301.19L100.53,301.19L100.65,301.19L100.78,301.19L100.90,301.19L101.03,301.19L101.15,301.19L101.28,301.19L101.40,301.19L101.53,301.19L101.65,301.19L101.78,301.19L101.90,301.19L102.03,301.19L102.15,301.19L102.28,301.19L102.40,301.19L102.53,301.19L102.65,301.19L102.78,301.19L102.90,301.19L103.03,301.19L103.15,301.19L103.28,301.19L103.40,301.19L103.53,301.19L103.65,301.19L103.78,301.19L103.90,301.19L104.03,301.19L104.15,301.19L104.28,301.19L104.40,301.19L104.53,301.19L104.65,301.19L104.78,301.19L104.90,301.19L105.03,301.19L105.15,301.19L105.28,301.19L105.40,301.19L105.53,301.19L105.65,301.19L105.78,301.19L105.90,301.19L106.03,301.19L106.15,301.19L106.28,301.19L106.40,304.67L106.53,304.67L106.65,304.67L106.78,304.67L106.90,304.67L107.03,304.67L107.15,304.67L107.28,304.67L107.40,304.37L107.53,303.97L107.65,303.65L107.78,303.36L107.90,303.09L108.03,302.12L108.15,301.99L108.28,301.87L108.40,301.75L108.53,302.00L108.65,301.83L108.78,301.67L108.90,301.52L109.03,301.38L109.15,301.25L109.28,301.19L109.40,301.19L109.53,301.19L109.65,301.19L109.78,301.19L109.90,301.19L110.03,301.19L110.15,301.19L110.28,301.19L110.40,301.19L110.53,301.19L110.65,301.19L110.78,301.19L110.90,301.19L111.03,301.19L111.15,301.19L111.28,301.19L111.40,301.19L111.53,301.19L111.65,301.19L111.78,301.19L111.90,301.19L112.03,301.19L112.15,301.19L112.28,301.19L112.40,301.19L112.53,301.19L112.65,301.19L112.78,301.19L112.90,301.19L113.03,301.19L113.15,301.19L113.28,301.19L113.40,301.19L113.53,301.19L113.65,301.19L113.78,301.19L113.90,311.65L114.03,311.65L114.15,311.65L114.28,311.65L114.40,311.65L114.53,311.65L114.65,311.65L114.78,311.65L114.90,309.59L115.03,308.56L115.15,307.93L115.28,307.34L115.40,306.79L115.53,306.62L115.65,306.12L115.78,305.66L115.90,305.23L116.03,305.20L116.15,304.80L116.28,304.42L116.40,304.07L116.53,303.75L116.65,303.45L116.78,303.17L116.90,302.91L117.03,302.67L117.15,302.45L117.28,302.25L117.40,302.06L117.53,301.64L117.65,301.53L117.78,301.44L117.90,301.35L118.03,301.29L118.15,301.19L118.28,301.19L118.40,301.19L118.53,301.19L118.65,301.19L118.78,301.19L118.90,301.19L119.03,301.19L119.15,301.19L119.28,301.19L119.40,301.19L119.53,301.19L119.65,301.19L119.78,301.19L119.90,301.19L120.03,301.19L120.15,301.19L120.28,301.19L120.40,301.19L120.53,301.19L120.65,301.19L120.78,301.19L120.90,301.19L121.03,301.24L121.15,301.52L121.28,301.80L121.40,302.07L121.53,302.35L121.65,302.63L121.78,302.90L121.90,303.18L122.03,303.40L122.15,303.41L122.28,303.41L122.40,303.41L122.53,303.41L122.65,303.41L122.78,303.41L122.90,303.41L123.03,303.41L123.15,303.41L123.28,303.42L123.40,303.42L123.53,303.42L123.65,303.42L123.78,303.42L123.90,303.42L124.03,303.42L124.15,303.42L124.28,303.42L124.40,303.42L124.53,303.43L124.65,303.43L124.78,303.43L124.90,303.43L125.03,303.43L125.15,303.43L125.28,303.43L125.40,303.43L125.53,303.43L125.65,303.44L125.78,303.44L125.90,303.44L126.03,303.44L126.15,303.44L126.28,303.44L126.40,303.44L126.53,303.44L126.65,303.44L126.78,311.01L126.90,311.01L127.03,311.01L127.15,311.01L127.28,311.01L127.40,311.01L127.53,311.01L127.65,310.50L127.78,309.33L127.90,308.28L128.03,306.67L128.15,305.99L128.28,305.37L128.40,304.82L128.53,304.52L128.65,303.99L128.78,303.52L128.90,303.46L129.03,314.82L129.15,314.82L129.28,314.82L129.40,314.82L129.53,314.82L129.65,314.82L129.78,314.82L129.90,314.82L130.03,312.96L130.15,311.77L130.28,310.69L130.40,309.70L130.53,309.04L130.65,308.19L130.78,307.41L130.90,306.71L131.03,304.55L131.15,304.31L131.28,304.09L131.40,303.90L131.53,303.94L131.65,303.61L131.78,303.49L131.90,311.01L132.03,311.01L132.15,311.01L132.28,311.01L132.40,311.01L132.53,311.01L132.65,311.01L132.78,310.20L132.90,309.06L133.03,305.82L133.15,305.36L133.28,304.95L133.40,304.58L133.53,304.68L133.65,304.22L133.78,303.81L133.90,303.51L134.03,303.51L134.15,303.51L134.28,303.51L134.40,303.51L134.53,303.51L134.65,303.51L134.78,303.51L134.90,303.52L135.03,303.52L135.15,303.52L135.28,303.52L135.40,312.28L135.53,312.28L135.65,312.28L135.78,312.28L135.90,312.28L136.03,312.28L136.15,312.28L136.28,310.32L136.40,309.59L136.53,305.79L136.65,305.52L136.78,305.28L136.90,305.05L137.03,306.58L137.15,306.12L137.28,305.70L137.40,305.31L137.53,304.29L137.65,304.11L137.78,303.94L137.90,303.79L138.03,303.78L138.15,303.54L138.28,303.54L138.40,303.55L138.53,303.55L138.65,303.55L138.78,303.55L138.90,303.55L139.03,303.55L139.15,303.55L139.28,303.55L139.40,303.55L139.53,303.56L139.65,303.56L139.78,303.56L139.90,303.56L140.03,303.56L140.15,303.56L140.28,303.56L140.40,303.56L140.53,303.56L140.65,303.57L140.78,303.57L140.90,303.57L141.03,303.57L141.15,303.57L141.28,303.57L141.40,303.57L141.53,303.57L141.65,303.57L141.78,303.57L141.90,303.58L142.03,303.58L142.15,303.58L142.28,317.35L142.40,317.35L142.53,317.35L142.65,317.35L142.78,317.35L142.90,317.35L143.03,317.35L143.15,312.55L143.28,311.70L143.40,310.91L143.53,307.57L143.65,307.16L143.78,306.78L143.90,306.43L144.03,308.39L144.15,307.81L144.28,307.27L144.40,306.78L144.53,304.80L144.65,304.61L144.78,304.44L144.90,304.28L145.03,305.03L145.15,304.65L145.28,304.30L145.40,303.98L145.53,303.68L145.65,303.61L145.78,303.61L145.90,303.61L146.03,303.61L146.15,303.61L146.28,303.61L146.40,303.61L146.53,303.62L146.65,303.62L146.78,303.62L146.90,320.52L147.03,320.52L147.15,320.52L147.28,320.52L147.40,320.52L147.53,320.52L147.65,320.52L147.78,310.56L147.90,309.78L148.03,311.52L148.15,310.58L148.28,309.72L148.40,308.93L148.53,308.46L148.65,320.52L148.78,320.52L148.90,320.52L149.03,320.52L149.15,320.52L149.28,320.52L149.40,320.52L149.53,315.33L149.65,314.01L149.78,312.82L149.90,311.73L150.03,313.01L150.15,311.83L150.28,310.74L150.40,309.76L150.53,306.54L150.65,306.09L150.78,305.68L150.90,325.59L151.03,325.59L151.15,325.59L151.28,325.59L151.40,325.59L151.53,325.59L151.65,325.59L151.78,325.59L151.90,317.24L152.03,319.17L152.15,318.13L152.28,317.15L152.40,316.23L152.53,316.81L152.65,315.88L152.78,315.01L152.90,314.18L153.03,314.25L153.15,313.45L153.28,312.69L153.40,311.97L153.53,307.19L153.65,306.89L153.78,306.61L153.90,306.35L154.03,309.03L154.15,308.51L154.28,308.02L154.40,307.56L154.53,305.57L154.65,305.35L154.78,305.13L154.90,304.93L155.03,304.98L155.15,304.75L155.28,304.54L155.40,304.34L155.53,304.28L155.65,304.05L155.78,303.84L155.90,303.70L156.03,303.70L156.15,303.70L156.28,303.70L156.40,303.70L156.53,303.70L156.65,303.70L156.78,303.70L156.90,303.71L157.03,303.71L157.15,303.71L157.28,303.71L157.40,303.71L157.53,303.71L157.65,303.71L157.78,303.71L157.90,303.71L158.03,303.72L158.15,303.72L158.28,303.72L158.40,303.72L158.53,303.72L158.65,303.72L158.78,303.72L158.90,303.72L159.03,303.72L159.15,303.73L159.28,303.73L159.40,303.73L159.53,303.73L159.65,303.73L159.78,303.73L159.90,303.73L160.03,303.73L160.15,303.73L160.28,303.73L160.40,303.74L160.53,303.74L160.65,303.74L160.78,303.74L160.90,303.74L161.03,303.74L161.15,303.74L161.28,303.74L161.40,328.13L161.53,328.13L161.65,328.13L161.78,328.13L161.90,328.13L162.03,328.13L162.15,328.13L162.28,326.77L162.40,325.28L162.53,320.95L162.65,319.81L162.78,318.73L162.90,317.71L163.03,313.37L163.15,312.70L163.28,312.06L163.40,311.46L163.53,314.20L163.65,313.42L163.78,312.67L163.90,311.97L164.03,310.20L164.15,309.67L164.28,324.96L164.40,324.96L164.53,324.96L164.65,324.96L164.78,324.96L164.90,324.96L165.03,324.96L165.15,318.34L165.28,317.06L165.40,315.87L165.53,314.19L165.65,313.23L165.78,312.33L165.90,311.50L166.03,312.95L166.15,312.01L166.28,311.14L166.40,310.33L166.53,328.76L166.65,328.76L166.78,328.76L166.90,328.76L167.03,328.76L167.15,328.76L167.28,328.76L167.40,328.76L167.53,318.24L167.65,317.30L167.78,316.41L167.90,315.57L168.03,317.31L168.15,316.39L168.28,315.52L168.40,314.69L168.53,309.83L168.65,309.39L168.78,308.98L168.90,308.59L169.03,311.25L169.15,310.66L169.28,310.11L169.40,309.58L169.53,310.55L169.65,309.95L169.78,309.38L169.90,308.85L170.03,307.31L170.15,306.94L170.28,306.59L170.40,306.26L170.53,306.64L170.65,306.25L170.78,305.89L170.90,305.54L171.03,304.68L171.15,304.49L171.28,304.31L171.40,304.14L171.53,304.07L171.65,303.83L171.78,303.83L171.90,303.84L172.03,303.84L172.15,303.84L172.28,303.84L172.40,303.84L172.53,303.84L172.65,303.84L172.78,303.84L172.90,303.84L173.03,303.85L173.15,303.85L173.28,303.85L173.40,327.50L173.53,327.50L173.65,327.50L173.78,327.50L173.90,327.50L174.03,327.50L174.15,327.50L174.28,327.50L174.40,315.81L174.53,312.12L174.65,311.39L174.78,310.71L174.90,310.09L175.03,312.95L175.15,312.08L175.28,311.27L175.40,310.53L175.53,310.07L175.65,309.40L175.78,308.78L175.90,308.21L176.03,307.47L176.15,307.01L176.28,306.58L176.40,306.18L176.53,305.69L176.65,305.37L176.78,305.07L176.90,326.23L177.03,326.23L177.15,326.23L177.28,326.23L177.40,326.23L177.53,326.23L177.65,326.23L177.78,326.23L177.90,323.99L178.03,337.64L178.15,337.64L178.28,337.64L178.40,337.64L178.53,337.64L178.65,337.64L178.78,337.64L178.90,337.64L179.03,334.84L179.15,332.27L179.28,329.89L179.40,327.68L179.53,325.13L179.65,323.27L179.78,321.55L179.90,319.96L180.03,312.76L180.15,311.93L180.28,311.16L180.40,310.44L180.53,313.80L180.65,312.76L180.78,311.80L180.90,310.91L181.03,309.76L181.15,309.03L181.28,308.36L181.40,307.74L181.53,305.58L181.65,305.31L181.78,305.05L181.90,304.82L182.03,305.19L182.15,304.81L182.28,304.46L182.40,304.14L182.53,303.93L182.65,303.93L182.78,303.93L182.90,303.93L183.03,303.93L183.15,303.93L183.28,341.44L183.40,341.44L183.53,341.44L183.65,341.44L183.78,341.44L183.90,341.44L184.03,341.44L184.15,339.89L184.28,336.95L184.40,334.23L184.53,318.94L184.65,317.67L184.78,316.50L184.90,315.42L185.03,311.57L185.15,310.89L185.28,310.26L185.40,309.68L185.53,331.30L185.65,331.30L185.78,331.30L185.90,331.30L186.03,331.30L186.15,331.30L186.28,331.30L186.40,331.30L186.53,320.64L186.65,318.86L186.78,317.25L186.90,315.78L187.03,319.28L187.15,317.50L187.28,315.88L187.40,314.42L187.53,313.11L187.65,340.18L187.78,340.18L187.90,340.18L188.03,340.18L188.15,340.18L188.28,340.18L188.40,340.18L188.53,335.84L188.65,333.23L188.78,330.81L188.90,328.57L189.03,323.82L189.15,322.12L189.28,320.54L189.40,319.08L189.53,317.67L189.65,316.42L189.78,315.27L189.90,314.19L190.03,314.81L190.15,313.72L190.28,312.72L190.40,311.79L190.53,310.54L190.65,309.78L190.78,309.08L190.90,308.43L191.03,308.19L191.15,307.58L191.28,307.01L191.40,306.48L191.53,306.03L191.65,305.57L191.78,305.14L191.90,304.75L192.03,304.23L192.15,304.03L192.28,304.01L192.40,304.01L192.53,341.44L192.65,341.44L192.78,341.44L192.90,341.44L193.03,341.44L193.15,341.44L193.28,341.44L193.40,341.44L193.53,338.76L193.65,336.60L193.78,334.56L193.90,332.63L194.03,318.47L194.15,317.54L194.28,316.67L194.40,315.84L194.53,314.40L194.65,313.71L194.78,313.05L194.90,312.43L195.03,319.45L195.15,318.35L195.28,317.32L195.40,316.34L195.53,311.35L195.65,310.79L195.78,310.26L195.90,309.76L196.03,307.37L196.15,307.09L196.28,306.82L196.40,306.57L196.53,309.12L196.65,308.62L196.78,308.15L196.90,307.70L197.03,306.13L197.15,305.88L197.28,305.63L197.40,305.40L197.53,304.85L197.65,304.70L197.78,304.57L197.90,304.44L198.03,304.71L198.15,304.43L198.28,340.18L198.40,340.18L198.53,340.18L198.65,340.18L198.78,340.18L198.90,340.18L199.03,340.18L199.15,338.93L199.28,336.06L199.40,333.40L199.53,330.22L199.65,327.99L199.78,325.93L199.90,324.02L200.03,322.76L200.15,321.07L200.28,319.51L200.40,318.05L200.53,334.47L200.65,334.47L200.78,334.47L200.90,334.47L201.03,334.47L201.15,334.47L201.28,334.47L201.40,334.47L201.53,330.30L201.65,328.08L201.78,326.02L201.90,324.11L202.03,313.80L202.15,312.93L202.28,312.12L202.40,311.37L202.53,316.21L202.65,357.93L202.78,357.93L202.90,357.93L203.03,357.93L203.15,357.93L203.28,357.93L203.40,357.93L203.53,355.66L203.65,348.25L203.78,341.81L203.90,338.82L204.03,330.10L204.15,328.47L204.28,326.93L204.40,325.47L204.53,327.90L204.65,326.36L204.78,324.89L204.90,323.51L205.03,314.62L205.15,313.90L205.28,313.22L205.40,312.59L205.53,317.39L205.65,316.43L205.78,315.52L205.90,314.66L206.03,314.58L206.15,313.76L206.28,312.98L206.40,312.24L206.53,310.53L206.65,309.97L206.78,309.43L206.90,308.92L207.03,308.96L207.15,308.45L207.28,307.97L207.40,307.52L207.53,306.03L207.65,305.77L207.78,305.53L207.90,305.30L208.03,305.10L208.15,304.89L208.28,304.69L208.40,304.51L208.53,304.44L208.65,304.18L208.78,304.15L208.90,304.16L209.03,304.16L209.15,304.16L209.28,304.16L209.40,304.16L209.53,304.16L209.65,304.16L209.78,304.16L209.90,304.16L210.03,304.17L210.15,304.17L210.28,304.17L210.40,304.17L210.53,304.17L210.65,304.17L210.78,304.17L210.90,304.17L211.03,304.17L211.15,304.17L211.28,304.18L211.40,304.18L211.53,304.18L211.65,304.18L211.78,304.18L211.90,304.18L212.03,304.18L212.15,304.18L212.28,304.18L212.40,304.19L212.53,304.19L212.65,304.19L212.78,304.19L212.90,304.19L213.03,304.19L213.15,304.19L213.28,304.19L213.40,304.19L213.53,304.20L213.65,304.20L213.78,304.20L213.90,304.20L214.03,304.20L214.15,304.20L214.28,304.20L214.40,304.20L214.53,304.20L214.65,304.21L214.78,304.21L214.90,304.21L215.03,304.21L215.15,304.21L215.28,304.21L215.40,304.21L215.53,304.21L215.65,304.21L215.78,304.21L215.90,304.22L216.03,304.22L216.15,304.22L216.28,304.22L216.40,304.22L216.53,304.22L216.65,304.22L216.78,304.22L216.90,304.22L217.03,304.23L217.15,304.23L217.28,304.23L217.40,326.23L217.53,326.23L217.65,326.23L217.78,326.23L217.90,326.23L218.03,326.23L218.15,326.23L218.28,318.53L218.40,316.94L218.53,309.57L218.65,308.95L218.78,308.39L218.90,307.88L219.03,312.94L219.15,311.77L219.28,310.71L219.40,309.75L219.53,307.28L219.65,320.52L219.78,320.52L219.90,320.52L220.03,320.52L220.15,320.52L220.28,320.52L220.40,320.52L220.53,316.10L220.65,314.72L220.78,313.46L220.90,312.31L221.03,313.57L221.15,312.31L221.28,311.17L221.40,310.13L221.53,309.05L221.65,308.21L221.78,307.45L221.90,306.76L222.03,306.18L222.15,305.59L222.28,305.05L222.40,304.56L222.53,304.27L222.65,304.27L222.78,304.28L222.90,304.28L223.03,304.28L223.15,304.28L223.28,304.28L223.40,304.28L223.53,304.28L223.65,304.28L223.78,304.28L223.90,304.28L224.03,304.29L224.15,304.29L224.28,304.29L224.40,304.29L224.53,304.29L224.65,304.29L224.78,304.29L224.90,304.29L225.03,304.29L225.15,304.30L225.28,304.30L225.40,304.30L225.53,304.30L225.65,304.30L225.78,304.30L225.90,304.30L226.03,304.30L226.15,304.30L226.28,304.31L226.40,304.31L226.53,304.31L226.65,304.31L226.78,304.31L226.90,304.31L227.03,304.31L227.15,304.31L227.28,304.31L227.40,304.32L227.53,304.32L227.65,304.32L227.78,304.32L227.90,304.32L228.03,304.32L228.15,304.32L228.28,304.32L228.40,304.32L228.53,304.32L228.65,304.33L228.78,304.33L228.90,304.33L229.03,304.33L229.15,304.33L229.28,304.33L229.40,304.33L229.53,304.33L229.65,304.33L229.78,304.34L229.90,304.34L230.03,304.34L230.15,304.34L230.28,304.34L230.40,304.34L230.53,304.34L230.65,304.34L230.78,304.34L230.90,304.35L231.03,304.35L231.15,338.27L231.28,338.27L231.40,338.27L231.53,338.27L231.65,338.27L231.78,338.27L231.90,338.27L232.03,336.62L232.15,333.29L232.28,330.26L232.40,327.50L232.53,318.62L232.65,317.05L232.78,315.62L232.90,314.32L233.03,311.24L233.15,310.41L233.28,309.65L233.40,308.96L233.53,311.28L233.65,310.26L233.78,309.33L233.90,308.48L234.03,307.57L234.15,306.90L234.28,306.29L234.40,305.74L234.53,304.88L234.65,304.73L234.78,304.71L234.90,304.73L235.03,304.75L235.15,304.76L235.28,304.78L235.40,304.79L235.53,304.81L235.65,304.83L235.78,304.84L235.90,304.86L236.03,304.87L236.15,304.89L236.28,304.91L236.40,304.92L236.53,304.94L236.65,304.96L236.78,304.97L236.90,304.99L237.03,305.00L237.15,305.02L237.28,305.04L237.40,305.05L237.53,305.07L237.65,305.08L237.78,305.10L237.90,305.12L238.03,305.13L238.15,305.15L238.28,305.17L238.40,305.18L238.53,305.20L238.65,305.21L238.78,305.23L238.90,305.25L239.03,305.26L239.15,305.28L239.28,305.29L239.40,305.31L239.53,305.33L239.65,305.34L239.78,305.36L239.90,305.38L240.03,305.39L240.15,305.41L240.28,305.42L240.40,305.44L240.53,305.46L240.65,305.47L240.78,305.49L240.90,305.50L241.03,331.30L241.15,331.30L241.28,331.30L241.40,331.30L241.53,331.30L241.65,331.30L241.78,331.30L241.90,331.30L242.03,326.51L242.15,323.66L242.28,321.12L242.40,318.85L242.53,313.29L242.65,312.06L242.78,310.97L242.90,309.99L243.03,309.62L243.15,308.72L243.28,307.92L243.40,307.21L243.53,306.34L243.65,305.96L243.78,305.88L243.90,305.89L244.03,305.91L244.15,305.92L244.28,305.94L244.40,305.96L244.53,305.97L244.65,305.99L244.78,306.00L244.90,306.02L245.03,306.04L245.15,306.05L245.28,306.07L245.40,306.09L245.53,306.10L245.65,306.12L245.78,306.13L245.90,306.15L246.03,306.17L246.15,306.18L246.28,306.20L246.40,306.21L246.53,306.23L246.65,306.25L246.78,306.26L246.90,306.28L247.03,306.30L247.15,306.31L247.28,306.33L247.40,306.34L247.53,306.36L247.65,306.38L247.78,306.39L247.90,330.03L248.03,330.03L248.15,330.03L248.28,330.03L248.40,330.03L248.53,330.03L248.65,330.03L248.78,330.03L248.90,326.88L249.03,322.05L249.15,319.74L249.28,317.68L249.40,315.84L249.53,315.13L249.65,313.48L249.78,312.01L249.90,310.70L250.03,309.56L250.15,308.50L250.28,307.55L250.40,306.73L250.53,306.75L250.65,306.76L250.78,306.78L250.90,306.80L251.03,306.81L251.15,306.83L251.28,306.84L251.40,306.86L251.53,306.88L251.65,306.89L251.78,306.91L251.90,306.93L252.03,306.94L252.15,306.96L252.28,306.97L252.40,306.99L252.53,307.01L252.65,307.02L252.78,307.04L252.90,307.05L253.03,307.07L253.15,307.09L253.28,307.10L253.40,307.12L253.53,307.13L253.65,307.15L253.78,307.17L253.90,307.18L254.03,307.20L254.15,307.22L254.28,326.86L254.40,326.86L254.53,326.86L254.65,326.86L254.78,326.86L254.90,326.86L255.03,326.86L255.15,320.24L255.28,318.27L255.40,316.52L255.53,311.41L255.65,310.67L255.78,310.02L255.90,309.44L256.02,309.35L256.15,308.75L256.27,308.21L256.40,307.73L256.52,307.52L256.65,307.54L256.77,307.55L256.90,307.57L257.02,307.59L257.15,307.60L257.27,307.62L257.40,307.64L257.52,307.65L257.65,307.67L257.77,307.68L257.90,307.70L258.02,307.72L258.15,307.73L258.27,307.75L258.40,331.30L258.52,331.30L258.65,331.30L258.77,331.30L258.90,331.30L259.02,331.30L259.15,331.30L259.27,324.64L259.40,322.15L259.52,318.74L259.65,316.97L259.77,315.39L259.90,313.98L260.02,314.14L260.15,312.64L260.27,311.31L260.40,310.12L260.52,308.76L260.65,308.51L260.77,308.56L260.90,308.61L261.02,308.66L261.15,308.71L261.27,308.76L261.40,308.81L261.52,308.86L261.65,308.91L261.77,314.18L261.90,314.18L262.02,314.18L262.15,314.18L262.27,314.18L262.40,314.18L262.52,314.18L262.65,313.29L262.77,311.88L262.90,310.63L263.02,309.49L263.15,309.52L263.27,309.57L263.40,309.62L263.52,309.67L263.65,309.72L263.77,309.77L263.90,309.82L264.02,309.87L264.15,309.92L264.27,309.97L264.40,310.02L264.52,310.07L264.65,310.12L264.77,310.17L264.90,310.22L265.02,310.27L265.15,310.32L265.27,327.50L265.40,327.50L265.52,327.50L265.65,327.50L265.77,327.50L265.90,327.50L266.02,327.50L266.15,325.88L266.27,323.09L266.40,320.59L266.52,316.71L266.65,315.18L266.77,313.81L266.90,312.59L267.02,311.48L267.15,311.13L267.27,311.18L267.40,311.23L267.52,316.72L267.65,316.72L267.77,316.72L267.90,316.72L268.02,316.72L268.15,316.72L268.27,316.72L268.40,316.72L268.52,313.76L268.65,312.71L268.77,311.79L268.90,311.84L269.02,311.89L269.15,311.94L269.27,311.99L269.40,312.04L269.52,312.09L269.65,312.14L269.77,312.19L269.90,312.24L270.02,312.30L270.15,312.41L270.27,312.51L270.40,312.62L270.52,312.72L270.65,312.83L270.77,312.94L270.90,313.04L271.02,333.84L271.15,333.84L271.27,333.84L271.40,333.84L271.52,333.84L271.65,333.84L271.77,333.84L271.90,333.84L272.02,325.95L272.15,323.55L272.27,321.41L272.40,319.50L272.52,317.57L272.65,316.17L272.77,314.92L272.90,314.73L273.02,314.84L273.15,314.94L273.27,315.05L273.40,315.15L273.52,315.26L273.65,315.37L273.77,315.47L273.90,321.79L274.02,321.79L274.15,321.79L274.27,321.79L274.40,321.79L274.52,321.79L274.65,321.79L274.77,320.12L274.90,318.01L275.02,316.53L275.15,316.63L275.27,316.74L275.40,316.84L275.52,316.95L275.65,324.96L275.77,324.96L275.90,324.96L276.02,324.96L276.15,324.96L276.27,324.96L276.40,324.96L276.52,321.99L276.65,321.07L276.77,321.09L276.90,321.69L277.02,322.29L277.15,322.89L277.27,323.50L277.40,324.10L277.52,324.70L277.65,325.30L277.77,325.90L277.90,330.03L278.02,330.03L278.15,330.03L278.27,330.03L278.40,330.03L278.52,330.03L278.65,330.03L278.77,330.03L278.90,327.39L279.02,324.40L279.15,321.74L279.27,319.36L279.40,317.24L279.52,315.34L279.65,313.65L279.77,312.14L279.90,310.80L280.02,309.59L280.15,308.52L280.27,307.56L280.40,306.71L280.52,305.94L280.65,305.26L280.77,304.65L280.90,304.11L281.02,303.63L281.15,303.19L281.27,302.81L281.40,302.78L281.52,302.78L281.65,302.78L281.77,302.79L281.90,302.79L282.02,302.79L282.15,302.79L282.27,302.79L282.40,302.79L282.52,302.79L282.65,302.79L282.77,302.79L282.90,302.79L283.02,302.79L283.15,302.79L283.27,302.79L283.40,302.79L283.52,302.79L283.65,302.79L283.77,302.79L283.90,302.80L284.02,302.80L284.15,302.80L284.27,302.80L284.40,302.80L284.52,302.80L284.65,302.80L284.77,302.80L284.90,302.80L285.02,302.80L285.15,302.80L285.27,302.80L285.40,302.80L285.52,302.80L285.65,302.80L285.77,302.80L285.90,302.81L286.02,302.81L286.15,302.81L286.27,302.81L286.40,302.81L286.52,302.81L286.65,302.81L286.77,302.81L286.90,302.81L287.02,302.81L287.15,302.81L287.27,302.81L287.40,302.81L287.52,302.81L287.65,302.81L287.77,302.81L287.90,302.82L288.02,302.82L288.15,302.82L288.27,302.82L288.40,302.82L288.52,302.82L288.65,302.82L288.77,302.82L288.90,302.82L289.02,302.82L289.15,302.82L289.27,302.82L289.40,302.82L289.52,302.82L289.65,302.82L289.77,302.82L289.90,302.82L290.02,302.83L290.15,302.83L290.27,302.83L290.40,302.83L290.52,302.83L290.65,302.83L290.77,302.83L290.90,302.83L291.02,302.83L291.15,302.83L291.27,302.83L291.40,302.83L291.52,302.83L291.65,302.83L291.77,302.83L291.90,302.83L292.02,302.84L292.15,302.84L292.27,302.84L292.40,302.84L292.52,302.84L292.65,302.84L292.77,302.84L292.90,302.84L293.02,302.84L293.15,302.84L293.27,302.84L293.40,302.84L293.52,302.84L293.65,302.84L293.77,302.84L293.90,302.84L294.02,302.85L294.15,302.85L294.27,302.85L294.40,302.85L294.52,302.85L294.65,302.85L294.77,302.85L294.90,302.85L295.02,302.85L295.15,302.85L295.27,302.85L295.40,302.85L295.52,302.85L295.65,302.85L295.77,302.85L295.90,302.85L296.02,302.85L296.15,302.86L296.27,302.86L296.40,302.86L296.52,302.86L296.65,302.86L296.77,302.86L296.90,302.86L297.02,302.86L297.15,302.86L297.27,302.86L297.40,302.86L297.52,302.86L297.65,302.86L297.77,302.86L297.90,302.86L298.02,302.86L298.15,302.87L298.27,302.87L298.40,302.87L298.52,302.87L298.65,302.87L298.77,302.87L298.90,302.87L299.02,302.87L299.15,302.87L299.27,302.87L299.40,302.87L299.52,302.87L299.65,302.87L299.77,302.87L299.90,302.87L300.02,302.87L300.15,302.88L300.27,302.88L300.40,302.88L300.52,302.88L300.65,302.88L300.77,302.88L300.90,302.88L301.02,302.88L301.15,302.88L301.27,302.88L301.40,302.88L301.52,302.88L301.65,302.88L301.77,302.88L301.90,302.88L302.02,302.88L302.15,302.88L302.27,302.89L302.40,302.89L302.52,302.89L302.65,302.89L302.77,302.89L302.90,302.89L303.02,302.89L303.15,302.89L303.27,302.89L303.40,302.89L303.52,302.89L303.65,302.89L303.77,302.89L303.90,302.89L304.02,302.89L304.15,302.89L304.27,302.90L304.40,302.90L304.52,302.90L304.65,302.90L304.77,302.90L304.90,302.90L305.02,302.90L305.15,302.90L305.27,302.90L305.40,302.90L305.52,302.90L305.65,302.90L305.77,302.90L305.90,302.90L306.02,302.90L306.15,302.90L306.27,302.91L306.40,302.91L306.52,302.91L306.65,302.91L306.77,302.91L306.90,302.91L307.02,302.91L307.15,302.91L307.27,302.91L307.40,302.91L307.52,302.91L307.65,302.91L307.77,302.91L307.90,302.91L308.02,302.91L308.15,302.91L308.27,302.91L308.40,302.92L308.52,302.92L308.65,302.92L308.77,302.92L308.90,302.92L309.02,302.92L309.15,302.92L309.27,302.92L309.40,302.92L309.52,302.92L309.65,302.92L309.77,302.92L309.90,302.92L310.02,302.92L310.15,302.92L310.27,302.92L310.40,302.93L310.52,302.93L310.65,302.93L310.77,302.93L310.90,302.93L311.02,302.93L311.15,302.93L311.27,302.93L311.40,302.93L311.52,302.93L311.65,302.93L311.77,302.93L311.90,302.93L312.02,302.93L312.15,302.93L312.27,302.93L312.40,302.94L312.52,302.94L312.65,302.94L312.77,302.94L312.90,302.94L313.02,302.94L313.15,302.94L313.27,302.94L313.40,302.94L313.52,302.94L313.65,302.94L313.77,302.94L313.90,302.94L314.02,302.94L314.15,302.94L314.27,302.94L314.40,302.94L314.52,302.95L314.65,302.95L314.77,302.95L314.90,302.95L315.02,302.95L315.15,302.95L315.27,302.95L315.40,302.95L315.52,302.95L315.65,302.95L315.77,302.95L315.90,302.95L316.02,302.95L316.15,302.95L316.27,302.95L316.40,302.95L316.52,302.96L316.65,302.96L316.77,302.96L316.90,302.96L317.02,302.96L317.15,302.96L317.27,302.96L317.40,302.96L317.52,302.96L317.65,302.96L317.77,302.96L317.90,302.96L318.02,302.96L318.15,302.96L318.27,302.96L318.40,302.96L318.52,302.97L318.65,302.97L318.77,302.97L318.90,302.97L319.02,302.97L319.15,302.97L319.27,302.97L319.40,302.97L319.52,302.97L319.65,302.97L319.77,302.97L319.90,302.97L320.02,302.97L320.15,302.97L320.27,302.97L320.40,302.97L320.52,302.97L320.65,302.98L320.77,302.98L320.90,302.98L321.02,302.98L321.15,302.98L321.27,302.98L321.40,302.98L321.52,302.98L321.65,302.98L321.77,302.98L321.90,302.98L322.02,302.98L322.15,302.98L322.27,302.98L322.40,302.98L322.52,302.98L322.65,302.99L322.77,302.99L322.90,302.99L323.02,302.99L323.15,302.99L323.27,302.99L323.40,302.99L323.52,302.99L323.65,302.99L323.77,302.99L323.90,302.99L324.02,302.99L324.15,302.99L324.27,302.99L324.40,302.99L324.52,302.99L324.65,303.00L324.77,303.00L324.90,303.00L325.02,303.00L325.15,303.00L325.27,303.00L325.40,303.00L325.52,303.00L325.65,303.00L325.77,303.00L325.90,303.00L326.02,303.00L326.15,303.00L326.27,303.00L326.40,303.00L326.52,303.00L326.65,303.00L326.77,303.01L326.90,303.01L327.02,303.01L327.15,303.01L327.27,303.01L327.40,303.01L327.52,303.01L327.65,303.01L327.77,303.01L327.90,303.01L328.02,303.01L328.15,303.01L328.27,303.01L328.40,303.01L328.52,303.01L328.65,303.01L328.77,303.02L328.90,303.02L329.02,303.02L329.15,303.02L329.27,303.02L329.40,303.02L329.52,303.02L329.65,303.02L329.77,303.02L329.90,303.02L330.02,303.02L330.15,303.02L330.27,303.02L330.40,303.02L330.52,303.02L330.65,303.02L330.77,303.03L330.90,303.03L331.02,303.03L331.15,303.03L331.27,303.03L331.40,303.03L331.52,303.03L331.65,303.03L331.77,303.03L331.90,303.03L332.02,303.03L332.15,303.03L332.27,303.03L332.40,303.03L332.52,303.03L332.65,303.03L332.77,303.03L332.90,303.04L333.02,303.04L333.15,303.04L333.27,303.04L333.40,303.04L333.52,303.04L333.65,303.04L333.77,303.04L333.90,303.04L334.02,303.04L334.15,303.04L334.27,303.04L334.40,303.04L334.52,303.04L334.65,303.04L334.77,303.04L334.90,303.05L335.02,303.05L335.15,303.05L335.27,303.05L335.40,303.05L335.52,303.05L335.65,303.05L335.77,303.05L335.90,303.05L336.02,303.05L336.15,303.05L336.27,303.05L336.40,303.05L336.52,303.05L336.65,303.05L336.77,303.05L336.90,303.06L337.02,303.06L337.15,303.06L337.27,303.06L337.40,303.06L337.52,303.06L337.65,303.06L337.77,303.06L337.90,303.06L338.02,303.06L338.15,303.06L338.27,303.06L338.40,303.06L338.52,303.06L338.65,303.06L338.77,303.06L338.90,303.06L339.02,303.07L339.15,303.07L339.27,303.07L339.40,303.07L339.52,303.07L339.65,303.07L339.77,303.07L339.90,303.07L340.02,303.07L340.15,303.07L340.27,303.07L340.40,303.07L340.52,303.07L340.65,303.07L340.77,303.07L340.90,303.07L341.02,303.08L341.15,303.08L341.27,303.08L341.40,303.08L341.52,303.08L341.65,303.08L341.77,303.08L341.90,303.08L342.02,303.08L342.15,303.08L342.27,303.08L342.40,303.08L342.52,303.08L342.65,303.08L342.77,303.08L342.90,303.08L343.02,303.09L343.15,303.09L343.27,303.09L343.40,303.09L343.52,303.68L343.65,304.28L343.77,304.87L343.90,304.99L344.02,304.99L344.15,304.99L344.27,304.99L344.40,305.00L344.52,305.00L344.65,305.00L344.77,305.00L344.90,305.00L345.02,305.00L345.15,305.00L345.27,305.01L345.40,305.01L345.52,305.01L345.65,305.01L345.77,305.01L345.90,305.01L346.02,305.01L346.15,305.02L346.27,305.02L346.40,305.02L346.52,305.02L346.65,305.02L346.77,305.02L346.90,305.02L347.02,305.03L347.15,305.03L347.27,305.03L347.40,305.03L347.52,305.03L347.65,305.03L347.77,305.03L347.90,305.04L348.02,305.04L348.15,305.04L348.27,305.04L348.40,305.04L348.52,305.04L348.65,305.04L348.77,305.05L348.90,305.05L349.02,305.05L349.15,305.05L349.27,305.05L349.40,305.05L349.52,305.05L349.65,305.05L349.77,305.06L349.90,305.06L350.02,305.06L350.15,305.06L350.27,305.06L350.40,305.06L350.52,305.06L350.65,305.07L350.77,305.07L350.90,305.07L351.02,305.07L351.15,305.07L351.27,305.07L351.40,305.07L351.52,305.08L351.65,305.08L351.77,305.08L351.90,305.08L352.02,305.08L352.15,305.08L352.27,305.08L352.40,305.09L352.52,305.09L352.65,305.09L352.77,305.09L352.90,305.09L353.02,305.09L353.15,305.09L353.27,305.10L353.40,305.10L353.52,305.10L353.65,305.10L353.77,305.10L353.90,305.10L354.02,305.10L354.15,305.11L354.27,305.11L354.40,305.11L354.52,305.11L354.65,305.11L354.77,305.11L354.90,305.11L355.02,305.12L355.15,305.12L355.27,305.12L355.40,305.12L355.52,305.12L355.65,305.12L355.77,305.12L355.90,305.13L356.02,305.13L356.15,305.13L356.27,305.13L356.40,305.13L356.52,305.13L356.65,305.13L356.77,305.14L356.90,305.14L357.02,305.14L357.15,305.14L357.27,305.14L357.40,305.14L357.52,305.14L357.65,305.15L357.77,305.15L357.90,305.15L358.02,305.15L358.15,305.15L358.27,305.15L358.40,305.15L358.52,305.16L358.65,305.16L358.77,305.16L358.90,305.16L359.02,305.16L359.15,305.16L359.27,305.16L359.40,305.16L359.52,305.17L359.65,305.17L359.77,305.17L359.90,305.17L360.02,305.17L360.15,305.17L360.27,305.17L360.40,305.18L360.52,305.18L360.65,305.18L360.77,305.18L360.90,305.18L361.02,305.18L361.15,305.18L361.27,305.19L361.40,305.19L361.52,305.19L361.65,305.19L361.77,305.19L361.90,305.19L362.02,305.19L362.15,305.20L362.27,305.20L362.40,305.20L362.52,305.20L362.65,305.20L362.77,305.20L362.90,305.20L363.02,305.21L363.15,305.21L363.27,305.21L363.40,305.21L363.52,305.21L363.65,305.21L363.77,305.21L363.90,305.22L364.02,305.22L364.15,305.22L364.27,305.22L364.40,305.22L364.52,305.22L364.65,305.22L364.77,305.23L364.90,305.23L365.02,305.23L365.15,305.23L365.27,305.23L365.40,305.23L365.52,305.23L365.65,305.24L365.77,305.24L365.90,305.24L366.02,305.24L366.15,305.24L366.27,305.24L366.40,305.24L366.52,305.25L366.65,305.25L366.77,305.25L366.90,305.25L367.02,305.25L367.15,305.25L367.27,305.25L367.40,305.26L367.52,305.26L367.65,305.26L367.77,305.26L367.90,305.26L368.02,305.26L368.15,305.26L368.27,305.27L368.40,305.27L368.52,305.27L368.65,305.27L368.77,305.27L368.90,305.27L369.02,305.27L369.15,305.27L369.27,305.28L369.40,305.28L369.52,305.28L369.65,305.28L369.77,305.28L369.90,305.28L370.02,305.28L370.15,305.29L370.27,305.29L370.40,305.29L370.52,305.29L370.65,305.29L370.77,305.29L370.90,305.29L371.02,305.30L371.15,305.30L371.27,305.30L371.40,305.30L371.52,305.30L371.65,305.30L371.77,305.30L371.90,305.31L372.02,305.31L372.15,305.31L372.27,305.31L372.40,305.31L372.52,305.31L372.65,305.31L372.77,305.32L372.90,305.32L373.02,305.32L373.15,305.32L373.27,305.32L373.40,305.32L373.52,305.32L373.65,305.33L373.77,305.33L373.90,305.33L374.02,305.33L374.15,305.33L374.27,305.33L374.40,305.33L374.52,305.34L374.65,305.34L374.77,305.34L374.90,305.34L375.02,305.34L375.15,305.34L375.27,305.34L375.40,305.35L375.52,305.35L375.65,305.35L375.77,305.35L375.90,305.35L376.02,305.35L376.15,305.35L376.27,305.36L376.40,305.36L376.52,305.36L376.65,305.36L376.77,305.36L376.90,305.36L377.02,305.36L377.15,305.37L377.27,305.37L377.40,305.37L377.52,305.37L377.65,305.37L377.77,305.37L377.90,305.37L378.02,305.38L378.15,305.38L378.27,305.38L378.40,305.38L378.52,305.38L378.65,305.38L378.77,305.38L378.90,305.38L379.02,305.39L379.15,305.39L379.27,305.39L379.40,305.39L379.52,305.39L379.65,305.39L379.77,305.39L379.90,305.40L380.02,305.40L380.15,305.40L380.27,305.40L380.40,305.40L380.52,305.40L380.65,305.40L380.77,305.41L380.90,305.41L381.02,305.41L381.15,305.41L381.27,305.41L381.40,305.41L381.52,305.41L381.65,305.42L381.77,305.42L381.90,305.42L382.02,305.42L382.15,305.42L382.27,305.42L382.40,305.42L382.52,305.43L382.65,305.43L382.77,305.43L382.90,305.43L383.02,305.43L383.15,305.43L383.27,305.43L383.40,305.44L383.52,305.44L383.65,305.44L383.77,305.44L383.90,305.44L384.02,305.44L384.15,305.44L384.27,305.45L384.40,305.45L384.52,305.45L384.65,305.45L384.77,305.45L384.90,305.45L385.02,305.45L385.15,305.46L385.27,305.46L385.40,305.46L385.52,305.46L385.65,305.46L385.77,305.46L385.90,305.46L386.02,305.47L386.15,305.47L386.27,305.47L386.40,305.47L386.52,305.47L386.65,305.47L386.77,305.47L386.90,305.48L387.02,305.48L387.15,305.48L387.27,305.48L387.40,305.48L387.52,305.48L387.65,305.48L387.77,305.49L387.90,305.49L388.02,305.49L388.15,305.49L388.27,305.49L388.40,305.49L388.52,305.49L388.65,305.49L388.77,305.50L388.90,305.50L389.02,305.50L389.15,305.50L389.27,305.50L389.40,305.50L389.52,305.50L389.65,305.51L389.77,305.51L389.90,305.51L390.02,305.51L390.15,305.51L390.27,305.51L390.40,305.51L390.52,305.52L390.65,305.52L390.77,305.52L390.90,305.52L391.02,305.52L391.15,305.52L391.27,305.52L391.40,305.53L391.52,305.53L391.65,305.53L391.77,305.53L391.90,305.53L392.02,305.53L392.15,305.53L392.27,305.54L392.40,305.54L392.52,305.54L392.65,305.54L392.77,305.54L392.90,305.54L393.02,305.54L393.15,305.55L393.27,305.55L393.40,305.55L393.52,305.55L393.65,305.55L393.77,305.55L393.90,305.55L394.02,305.56L394.15,305.56L394.27,305.56L394.40,305.56L394.52,305.56L394.65,305.56L394.77,305.56L394.90,305.57L395.02,305.57L395.15,305.57L395.27,305.57L395.40,305.57L395.52,305.57L395.65,305.57L395.77,305.58L395.90,305.58L396.02,305.58L396.15,305.58L396.27,305.58L396.40,305.58L396.52,305.58L396.65,305.59L396.77,305.59L396.90,305.59L397.02,305.59L397.15,305.59L397.27,305.59L397.40,305.59L397.52,305.60L397.65,305.60L397.77,305.60L397.90,305.60L398.02,305.60L398.15,305.60L398.27,305.60L398.40,305.60L398.52,305.61L398.65,305.61L398.77,305.61L398.90,305.61L399.02,305.61L399.15,305.61L399.27,305.61L399.40,305.62L399.52,305.62L399.65,305.62L399.77,305.62L399.90,305.62L400.02,305.62L400.15,305.63L400.27,305.63L400.40,305.63L400.52,305.64L400.65,305.64L400.77,305.64L400.90,305.65L401.02,305.65L401.15,305.65L401.27,305.66L401.40,305.66L401.52,305.67L401.65,305.67L401.77,305.67L401.90,305.68L402.02,305.68L402.15,305.68L402.27,305.69L402.40,305.69L402.52,305.69L402.65,305.70L402.77,305.70L402.90,305.70L403.02,305.71L403.15,305.71L403.27,305.71L403.40,305.72L403.52,305.72L403.65,305.72L403.77,305.73L403.90,305.73L404.02,305.73L404.15,305.74L404.27,305.74L404.40,305.75L404.52,305.75L404.65,305.75L404.77,305.76L404.90,305.76L405.02,305.76L405.15,305.77L405.27,305.77L405.40,305.77L405.52,305.78L405.65,305.78L405.77,305.78L405.90,305.79L406.02,305.79L406.15,305.79L406.27,305.80L406.40,305.80L406.52,305.80L406.65,305.81L406.77,305.81L406.90,305.81L407.02,305.82L407.15,305.82L407.27,305.83L407.40,305.83L407.52,305.83L407.65,305.84L407.77,305.84L407.90,305.84L408.02,305.85L408.15,305.85L408.27,305.85L408.40,305.86L408.52,305.86L408.65,305.86L408.77,305.87L408.90,305.87L409.02,305.87L409.15,305.88L409.27,305.88L409.40,305.88L409.52,305.89L409.65,305.89L409.77,305.89L409.90,305.90L410.02,305.90L410.15,305.91L410.27,305.91L410.40,305.91L410.52,305.92L410.65,305.92L410.77,305.92L410.90,305.93L411.02,305.93L411.15,305.93L411.27,305.94L411.40,305.94L411.52,305.94L411.65,305.95L411.77,305.95L411.90,305.95L412.02,305.96L412.15,305.96L412.27,305.96L412.40,305.97L412.52,305.97L412.65,305.97L412.77,305.98L412.90,305.98L413.02,305.99L413.15,305.99L413.27,305.99L413.40,306.00L413.52,306.00L413.65,306.00L413.77,306.01L413.90,306.01L414.02,306.01L414.15,306.02L414.27,306.02L414.40,306.02L414.52,306.03L414.65,306.03L414.77,306.03L414.90,306.04L415.02,306.04L415.15,306.04L415.27,306.05L415.40,306.05L415.52,306.05L415.65,306.06L415.77,306.06L415.90,306.07L416.02,306.07L416.15,306.07L416.27,306.08L416.40,306.08L416.52,306.08L416.65,306.09L416.77,306.09L416.90,306.09L417.02,306.10L417.15,306.10L417.27,306.10L417.40,306.11L417.52,306.11L417.65,306.11L417.77,306.12L417.90,306.12L418.02,306.12L418.15,306.13L418.27,306.13L418.40,306.13L418.52,306.14L418.65,306.14L418.77,306.15L418.90,306.15L419.02,306.15L419.15,306.16L419.27,306.16L419.40,306.16L419.52,306.17L419.65,306.17L419.77,306.17L419.90,306.18L420.02,306.18L420.15,306.18L420.27,306.19L420.40,306.19L420.52,306.19L420.65,306.20L420.77,306.20L420.90,306.20L421.02,306.21L421.15,306.21L421.27,306.21L421.40,306.22L421.52,306.22L421.65,306.23L421.77,306.23L421.90,306.23L422.02,306.24L422.15,306.24L422.27,306.24L422.40,306.25L422.52,306.25L422.65,306.25L422.77,306.26L422.90,306.26L423.02,306.26L423.15,306.27L423.27,306.27L423.40,306.27L423.52,306.28L423.65,306.28L423.77,306.28L423.90,306.29L424.02,306.29L424.15,306.29L424.27,306.30L424.40,306.30L424.52,306.30L424.65,306.31L424.77,306.31L424.90,306.32L425.02,306.32L425.15,306.32L425.27,306.33L425.40,306.33L425.52,306.33L425.65,306.34L425.77,306.34L425.90,306.34L426.02,306.35L426.15,306.35L426.27,306.35L426.40,306.36L426.52,306.36L426.65,306.36L426.77,306.37L426.90,306.37L427.02,306.37L427.15,306.38L427.27,306.38L427.40,306.38L427.52,306.39L427.65,306.39L427.77,306.40L427.90,306.40L428.02,306.40L428.15,306.41L428.27,306.41L428.40,306.41L428.52,306.42L428.65,306.42L428.77,306.42L428.90,306.43L429.02,306.43L429.15,306.43L429.27,306.44L429.40,306.44L429.52,306.44L429.65,306.45L429.77,306.45L429.90,306.45L430.02,306.46L430.15,306.46L430.27,306.46L430.40,306.47L430.52,306.47L430.65,306.48L430.77,306.48L430.90,306.48L431.02,306.49L431.15,306.49L431.27,306.49L431.40,306.50L431.52,306.50L431.65,306.50L431.77,306.51L431.90,306.51L432.02,306.51L432.15,306.52L432.27,306.52L432.40,306.52L432.52,306.53L432.65,306.53L432.77,306.53L432.90,306.54L433.02,306.54L433.15,306.54L433.27,306.55L433.40,306.55L433.52,306.56L433.65,306.56L433.77,306.56L433.90,306.57L434.02,306.57L434.15,306.57L434.27,306.58L434.40,306.58L434.52,306.58L434.65,306.59L434.77,306.59L434.90,306.59L435.02,306.60L435.15,306.60L435.27,306.60L435.40,306.61L435.52,306.61L435.65,306.61L435.77,306.62L435.90,306.62L436.02,306.62L436.15,306.63L436.27,306.63L436.40,306.64L436.52,306.64L436.65,306.64L436.77,306.65L436.90,306.65L437.02,306.65L437.15,306.66L437.27,306.66L437.40,306.66L437.52,306.67L437.65,306.67L437.77,306.67L437.90,306.68L438.02,306.68L438.15,306.68L438.27,306.69L438.40,306.69L438.52,306.69L438.65,306.70L438.77,306.70L438.90,306.70L439.02,306.71L439.15,306.71L439.27,306.72L439.40,306.72L439.52,306.72L439.65,306.73L439.77,306.73L439.90,306.73L440.02,306.74L440.15,306.74L440.27,306.74L440.40,306.75L440.52,306.75L440.65,306.75L440.77,306.76L440.90,306.76L441.02,306.76L441.15,306.77L441.27,306.77L441.40,306.77L441.52,306.78L441.65,306.78L441.77,306.78L441.90,306.79L442.02,306.79L442.15,306.80L442.27,306.80L442.40,306.80L442.52,306.81L442.65,306.81L442.77,306.81L442.90,306.82L443.02,306.82L443.15,306.82L443.27,306.83L443.40,306.83L443.52,306.83L443.65,306.84L443.77,306.84L443.90,306.84L444.02,306.85L444.15,306.85L444.27,306.85L444.40,306.86L444.52,306.86L444.65,306.86L444.77,306.87L444.90,306.87L445.02,306.88L445.15,306.88L445.27,306.88L445.40,306.89L445.52,306.89L445.65,306.89L445.77,306.90L445.90,306.90L446.02,306.90L446.15,306.91L446.27,306.91L446.40,306.91L446.52,306.92L446.65,306.92L446.77,306.92L446.90,306.93L447.02,306.93L447.15,306.93L447.27,306.94L447.40,306.94L447.52,306.94L447.65,306.95L447.77,306.95L447.90,306.95L448.02,306.96L448.15,306.96L448.27,306.97L448.40,306.97L448.52,306.97L448.65,306.98L448.77,306.98L448.90,306.98L449.02,306.99L449.15,306.99L449.27,306.99L449.40,307.00L449.52,307.00L449.65,307.00L449.77,307.01L449.90,307.01L450.02,307.01L450.15,307.02L450.27,307.02L450.40,307.02L450.52,307.03L450.65,307.03L450.77,307.03L450.90,307.04L451.02,307.04L451.15,307.05L451.27,307.05L451.40,307.05L451.52,307.06L451.65,307.06L451.77,307.06L451.90,307.07L452.02,307.07L452.15,307.07L452.27,307.08L452.40,307.08L452.52,307.08L452.65,307.09L452.77,307.09L452.90,307.09L453.02,307.10L453.15,307.10L453.27,307.10L453.40,307.11L453.52,307.11L453.65,307.11L453.77,307.12L453.90,307.12L454.02,307.13L454.15,307.13L454.27,307.13L454.40,307.14L454.52,307.14L454.65,307.14L454.77,307.15L454.90,307.15L455.02,307.15L455.15,307.16L455.27,307.16L455.40,307.16L455.52,307.17L455.65,307.17L455.77,307.17L455.90,307.18L456.02,307.18L456.15,307.18L456.27,307.19L456.40,307.19L456.52,307.19L456.65,307.20L456.77,307.20L456.90,307.21L457.02,307.21L457.15,307.23L457.27,307.25L457.40,307.27L457.52,307.29L457.65,307.31L457.77,307.33L457.90,307.35L458.02,307.37L458.15,307.39L458.27,307.41L458.40,307.43L458.52,307.45L458.65,307.47L458.77,307.49L458.90,307.51L459.02,307.53L459.15,307.55L459.27,307.57L459.40,307.59L459.52,307.61L459.65,307.63L459.77,307.65L459.90,307.67L460.02,307.69L460.15,307.71L460.27,307.73L460.40,307.75L460.52,307.77L460.65,307.79L460.77,307.81L460.90,307.83L461.02,307.85L461.15,307.87L461.27,307.89L461.40,307.91L461.52,307.93L461.65,307.95L461.77,307.96L461.90,307.98L462.02,308.00L462.15,308.02L462.27,308.04L462.40,308.06L462.52,308.08L462.65,308.10L462.77,308.12L462.90,308.14L463.02,308.16L463.15,308.18L463.27,308.20L463.40,308.22L463.52,308.24L463.65,308.26L463.77,308.28L463.90,308.30L464.02,308.32L464.15,308.34L464.27,308.36L464.40,308.38L464.52,308.40L464.65,308.42L464.77,308.44L464.90,308.46L465.02,308.48L465.15,308.50L465.27,308.52L465.40,308.54L465.52,308.56L465.65,308.58L465.77,308.60L465.90,308.62L466.02,308.64L466.15,308.66L466.27,308.68L466.40,308.70L466.52,308.72L466.65,308.74L466.77,308.76L466.90,308.78L467.02,308.80L467.15,308.82L467.27,308.84L467.40,308.86L467.52,308.88L467.65,308.90L467.77,308.92L467.90,308.94L468.02,308.96L468.15,308.98L468.27,309.00L468.40,309.01L468.52,309.03L468.65,309.05L468.77,309.07L468.90,309.09L469.02,309.11L469.15,309.13L469.27,309.15L469.40,309.17L469.52,309.19L469.65,309.21L469.77,309.23L469.90,309.25L470.02,309.27L470.15,309.29L470.27,309.31L470.40,309.33L470.52,309.35L470.65,309.37L470.77,309.39L470.90,309.41L471.02,309.43L471.15,309.45L471.27,309.47L471.40,309.49L471.52,309.51L471.65,309.53L471.77,309.55L471.90,309.57L472.02,309.59L472.15,309.61L472.27,309.63L472.40,309.65L472.52,309.67L472.65,309.69L472.77,309.71L472.90,309.73L473.02,309.75L473.15,309.77L473.27,309.79L473.40,309.81L473.52,309.83L473.65,309.85L473.77,309.87L473.90,309.89L474.02,309.91L474.15,309.93L474.27,309.95L474.40,309.97L474.52,309.99L474.65,310.01L474.77,310.03L474.90,310.05L475.02,310.06L475.15,310.08L475.27,310.10L475.40,310.12L475.52,310.14L475.65,310.16L475.77,310.18L475.90,310.20L476.02,310.22L476.15,310.24L476.27,310.26L476.40,310.28L476.52,310.30L476.65,310.32L476.77,310.34L476.90,310.36L477.02,310.38L477.15,310.40L477.27,310.42L477.40,310.44L477.52,310.46L477.65,310.48L477.77,310.50L477.90,310.52L478.02,310.54L478.15,310.56L478.27,310.58L478.40,310.60L478.52,310.62L478.65,310.64L478.77,310.66L478.90,310.68L479.02,310.70L479.15,310.72L479.27,310.74L479.40,310.76L479.52,310.78L479.65,310.80L479.77,310.82L479.90,310.84L480.02,310.86L480.15,310.88L480.27,310.90L480.40,310.92L480.52,310.94L480.65,310.96L480.77,310.98L480.90,311.00L481.02,311.04L481.15,311.18L481.27,311.31L481.40,311.45L481.52,311.59L481.65,311.73L481.77,311.86L481.90,312.00L482.02,312.14L482.15,312.28L482.27,312.41L482.40,312.55L482.52,312.69L482.65,312.83L482.77,312.96L482.90,313.10L483.02,313.24L483.15,313.37L483.27,313.51L483.40,313.65L483.52,313.79L483.65,313.92L483.77,314.06L483.90,314.20L484.02,314.34L484.15,314.47L484.27,314.61L484.40,314.75L484.52,314.89L484.65,315.02L484.77,315.16L484.90,315.30L485.02,315.44L485.15,315.57L485.27,315.71L485.40,315.85L485.52,315.98L485.65,316.12L485.77,316.26L485.90,316.40L486.02,316.53L486.15,316.67L486.27,316.81L486.40,316.95L486.52,317.08L486.65,317.22L486.77,317.36L486.90,317.50L487.02,317.63L487.15,317.77L487.27,317.91L487.40,318.05L487.52,318.18L487.65,318.32L487.77,318.46L487.90,318.59L488.02,318.73L488.15,318.87L488.27,319.01L488.40,319.14L488.52,319.35L488.65,319.82L488.77,320.30L488.90,320.78L489.02,321.25L489.15,321.73L489.27,322.20L489.40,322.68L489.52,323.15L489.65,323.63L489.77,324.10L489.90,324.58L489.90,299.60Z" fill="#4a6286"/>
<rect x="61.90" y="260.60" width="16.70" height="43.70" fill="none" stroke="#a3a3a3" stroke-width="1.1" />
<line x1="64.40" y1="232.70" x2="64.40" y2="363.50" stroke="#231f20" stroke-width="1.2" />
<line x1="63.80" y1="363.20" x2="492.00" y2="363.20" stroke="#231f20" stroke-width="1.2" />
<line x1="64.40" y1="299.60" x2="493.70" y2="299.60" stroke="#222" stroke-width="1.0" />
<line x1="60.40" y1="236.20" x2="64.40" y2="236.20" stroke="#231f20" stroke-width="1.0" />
<text x="57.00" y="239.00" font-size="7.6" text-anchor="end" fill="#231f20" textLength="11.10" lengthAdjust="spacingAndGlyphs" >100</text>
<line x1="60.40" y1="268.00" x2="64.40" y2="268.00" stroke="#231f20" stroke-width="1.0" />
<text x="57.00" y="270.80" font-size="7.6" text-anchor="end" fill="#231f20" textLength="7.40" lengthAdjust="spacingAndGlyphs" >50</text>
<line x1="60.40" y1="299.80" x2="64.40" y2="299.80" stroke="#231f20" stroke-width="1.0" />
<text x="57.00" y="302.60" font-size="7.6" text-anchor="end" fill="#231f20" textLength="3.70" lengthAdjust="spacingAndGlyphs" >0</text>
<line x1="60.40" y1="331.50" x2="64.40" y2="331.50" stroke="#231f20" stroke-width="1.0" />
<text x="57.00" y="334.30" font-size="7.6" text-anchor="end" fill="#231f20" textLength="7.40" lengthAdjust="spacingAndGlyphs" >50</text>
<line x1="60.40" y1="363.20" x2="64.40" y2="363.20" stroke="#231f20" stroke-width="1.0" />
<text x="57.00" y="366.00" font-size="7.6" text-anchor="end" fill="#231f20" textLength="11.10" lengthAdjust="spacingAndGlyphs" >100</text>
<text x="25.00" y="297.00" font-size="10.2" text-anchor="middle" fill="#231f20" textLength="58.00" lengthAdjust="spacingAndGlyphs" transform="rotate(-90 25.00 297.00)" >Frequency of</text>
<text x="37.70" y="297.00" font-size="10.2" text-anchor="middle" fill="#231f20" textLength="106.00" lengthAdjust="spacingAndGlyphs" transform="rotate(-90 37.70 297.00)" >positive ligandomes [%]</text>
<text x="227.60" y="374.10" font-size="7.6" text-anchor="start" fill="#231f20" textLength="102.00" lengthAdjust="spacingAndGlyphs" >HLA class II peptides (n= 6 047)</text>
<rect x="392.00" y="336.20" width="7.60" height="7.00" fill="#a13848" />
<rect x="392.00" y="348.50" width="7.60" height="6.80" fill="#4a6286" />
<text x="403.00" y="342.10" font-size="6.2" text-anchor="start" fill="#231f20" textLength="34.70" lengthAdjust="spacingAndGlyphs" >CML (n = 20)</text>
<text x="403.00" y="354.30" font-size="6.2" text-anchor="start" fill="#231f20" textLength="83.80" lengthAdjust="spacingAndGlyphs" >hematological benign (n = 88)</text>
<rect x="325.2" y="230.3" width="50.3" height="63.9" fill="#fff" stroke="#8c8c8c" stroke-width="1.2" stroke-dasharray="3.2 2.3"/>
<path d="M340.8,288.5 L340.8,242.3 L342.5,242.3 L342.5,252.7 L343.7,252.7 L343.7,262.8 L345.4,262.8 L345.4,267.9 L350.6,267.9 L350.6,272.9 L366.7,272.9 L366.7,288.5 Z" fill="#a13848"/>
<line x1="340.80" y1="234.80" x2="340.80" y2="289.00" stroke="#231f20" stroke-width="0.9" />
<line x1="340.30" y1="288.50" x2="367.00" y2="288.50" stroke="#231f20" stroke-width="1.0" />
<line x1="336.80" y1="237.50" x2="340.80" y2="237.50" stroke="#231f20" stroke-width="0.9" />
<text x="335.40" y="239.70" font-size="6.4" text-anchor="end" fill="#231f20" textLength="6.60" lengthAdjust="spacingAndGlyphs" >50</text>
<line x1="336.80" y1="263.30" x2="340.80" y2="263.30" stroke="#231f20" stroke-width="0.9" />
<text x="335.40" y="265.50" font-size="6.4" text-anchor="end" fill="#231f20" textLength="6.60" lengthAdjust="spacingAndGlyphs" >25</text>
<line x1="336.80" y1="288.50" x2="340.80" y2="288.50" stroke="#231f20" stroke-width="0.9" />
<text x="335.40" y="290.70" font-size="6.4" text-anchor="end" fill="#231f20" textLength="3.30" lengthAdjust="spacingAndGlyphs" >0</text>
<polygon points="70.9,426.4 345.3,394.6 345.3,458.3 70.9,470" fill="#cac5c8"/>
<line x1="70.90" y1="426.40" x2="345.30" y2="394.60" stroke="#999" stroke-width="1.0" stroke-dasharray="3.2 2.3"/>
<line x1="70.90" y1="470.00" x2="345.30" y2="458.30" stroke="#999" stroke-width="1.0" stroke-dasharray="3.2 2.3"/>
<path d="M64.40,463.60L64.40,458.21L64.53,458.21L64.65,458.21L64.78,458.21L64.90,458.21L65.03,458.21L65.15,458.21L65.28,458.21L65.40,458.21L65.53,458.21L65.65,448.38L65.78,448.38L65.90,448.38L66.03,448.38L66.15,448.38L66.28,448.38L66.40,448.38L66.53,448.38L66.65,448.38L66.78,448.38L66.90,449.20L67.03,450.22L67.15,451.25L67.28,452.27L67.40,453.29L67.53,454.31L67.65,455.34L67.78,456.36L67.90,457.38L68.03,458.20L68.15,458.20L68.28,458.20L68.40,458.20L68.53,458.20L68.65,458.20L68.78,458.19L68.90,458.19L69.03,458.19L69.15,458.19L69.28,458.19L69.40,458.19L69.53,458.19L69.65,458.19L69.78,458.19L69.90,458.19L70.03,447.75L70.15,447.75L70.28,447.75L70.40,447.75L70.53,447.75L70.65,447.75L70.78,447.75L70.90,447.75L71.03,447.75L71.15,447.75L71.28,447.75L71.40,447.75L71.53,447.75L71.65,448.79L71.78,451.40L71.90,454.01L72.03,456.81L72.15,458.18L72.28,458.18L72.40,458.18L72.53,458.18L72.65,458.18L72.78,458.18L72.90,432.10L73.03,426.66L73.15,426.66L73.28,426.66L73.40,426.66L73.53,428.96L73.65,428.96L73.78,428.96L73.90,428.96L74.03,435.96L74.15,435.96L74.28,435.96L74.40,435.96L74.53,436.04L74.65,436.04L74.78,436.04L74.90,438.25L75.03,433.06L75.15,437.11L75.28,441.16L75.40,445.21L75.53,449.36L75.65,453.36L75.78,457.37L75.90,458.17L76.03,458.17L76.15,458.17L76.28,458.17L76.40,458.17L76.53,458.17L76.65,458.17L76.78,458.17L76.90,458.16L77.03,458.16L77.15,458.16L77.28,410.99L77.40,410.99L77.53,414.92L77.65,414.92L77.78,414.92L77.90,414.92L78.03,418.93L78.15,418.93L78.28,418.93L78.40,418.93L78.53,412.44L78.65,412.44L78.78,412.44L78.90,412.44L79.03,419.61L79.15,419.61L79.28,419.61L79.40,419.61L79.53,417.57L79.65,417.57L79.78,417.57L79.90,417.57L80.03,410.99L80.15,410.99L80.28,410.99L80.40,410.99L80.53,418.16L80.65,424.61L80.78,431.06L80.90,437.51L81.03,442.37L81.15,449.54L81.28,456.71L81.40,458.15L81.53,458.15L81.65,458.15L81.78,458.15L81.90,458.15L82.03,408.81L82.15,408.81L82.28,408.81L82.40,408.81L82.53,416.97L82.65,416.97L82.78,416.97L82.90,416.97L83.03,411.13L83.15,411.13L83.28,411.13L83.40,411.13L83.53,407.68L83.65,407.68L83.78,407.68L83.90,407.68L84.03,413.22L84.15,413.22L84.28,413.22L84.40,413.22L84.53,419.59L84.65,419.59L84.78,419.59L84.90,419.59L85.03,409.09L85.15,409.09L85.28,409.09L85.40,402.38L85.53,401.34L85.65,401.34L85.78,401.34L85.90,401.34L86.03,403.69L86.15,403.69L86.28,403.69L86.40,403.69L86.53,420.52L86.65,420.52L86.78,420.52L86.90,420.52L87.03,432.08L87.15,432.08L87.28,432.08L87.40,432.08L87.53,423.66L87.65,423.66L87.78,423.66L87.90,423.66L88.03,429.77L88.15,429.77L88.28,429.77L88.40,429.77L88.53,428.09L88.65,428.09L88.78,428.09L88.90,430.59L89.03,425.89L89.15,430.02L89.28,434.15L89.40,438.29L89.53,441.52L89.65,445.89L89.78,450.26L89.90,454.62L90.03,458.12L90.15,458.12L90.28,458.12L90.40,458.11L90.53,458.11L90.65,458.11L90.78,458.11L90.90,458.11L91.03,458.11L91.15,458.11L91.28,458.11L91.40,458.11L91.53,458.11L91.65,458.11L91.78,458.11L91.90,458.11L92.03,458.11L92.15,410.54L92.28,410.54L92.40,410.54L92.53,411.65L92.65,411.65L92.78,411.65L92.90,411.65L93.03,408.65L93.15,408.65L93.28,408.65L93.40,408.65L93.53,408.91L93.65,408.91L93.78,408.91L93.90,408.91L94.03,411.44L94.15,411.44L94.28,415.82L94.40,422.48L94.53,430.74L94.65,430.74L94.78,430.74L94.90,430.74L95.03,424.56L95.15,424.56L95.28,424.56L95.40,414.17L95.53,408.81L95.65,408.81L95.78,408.81L95.90,408.81L96.03,408.75L96.15,408.75L96.28,408.75L96.40,408.75L96.53,411.38L96.65,411.38L96.78,411.38L96.90,411.38L97.03,408.03L97.15,408.03L97.28,408.03L97.40,408.03L97.53,415.83L97.65,423.65L97.78,431.48L97.90,439.30L98.03,448.13L98.15,455.24L98.28,458.09L98.40,458.09L98.53,458.08L98.65,410.49L98.78,410.49L98.90,410.49L99.03,414.81L99.15,414.81L99.28,414.81L99.40,414.81L99.53,412.85L99.65,412.85L99.78,412.85L99.90,412.85L100.03,419.91L100.15,419.91L100.28,419.91L100.40,419.91L100.53,420.99L100.65,413.11L100.78,413.11L100.90,413.11L101.03,411.26L101.15,411.26L101.28,411.26L101.40,411.26L101.53,411.20L101.65,411.20L101.78,411.20L101.90,411.20L102.03,403.43L102.15,403.43L102.28,413.68L102.40,430.75L102.53,449.16L102.65,413.14L102.78,413.14L102.90,413.14L103.03,405.90L103.15,405.90L103.28,405.90L103.40,405.90L103.53,410.55L103.65,410.55L103.78,410.55L103.90,410.55L104.03,405.69L104.15,405.69L104.28,418.79L104.40,433.01L104.53,433.97L104.65,433.97L104.78,433.97L104.90,433.97L105.03,431.94L105.15,431.94L105.28,431.94L105.40,400.29L105.53,401.56L105.65,401.56L105.78,401.56L105.90,401.56L106.03,422.05L106.15,422.05L106.28,422.05L106.40,422.05L106.53,401.43L106.65,401.43L106.78,401.43L106.90,401.43L107.03,411.26L107.15,411.26L107.28,411.26L107.40,411.26L107.53,411.04L107.65,411.04L107.78,411.04L107.90,411.04L108.03,413.33L108.15,413.33L108.28,413.33L108.40,413.33L108.53,406.58L108.65,405.42L108.78,405.42L108.90,405.42L109.03,408.44L109.15,408.44L109.28,408.44L109.40,408.44L109.53,400.30L109.65,400.30L109.78,400.30L109.90,400.30L110.03,400.32L110.15,400.32L110.28,400.32L110.40,400.32L110.53,401.12L110.65,401.12L110.78,401.12L110.90,401.12L111.03,400.73L111.15,400.73L111.28,402.88L111.40,406.46L111.53,409.79L111.65,413.39L111.78,416.99L111.90,420.59L112.03,424.28L112.15,427.87L112.28,431.46L112.40,435.05L112.53,440.90L112.65,444.08L112.78,447.25L112.90,450.42L113.03,453.04L113.15,456.61L113.28,458.03L113.40,458.03L113.53,458.03L113.65,458.03L113.78,458.03L113.90,458.03L114.03,410.95L114.15,410.95L114.28,410.95L114.40,410.95L114.53,406.97L114.65,406.97L114.78,406.97L114.90,406.97L115.03,411.77L115.15,411.77L115.28,411.77L115.40,411.77L115.53,401.81L115.65,401.81L115.78,401.81L115.90,401.81L116.03,420.06L116.15,420.06L116.28,420.06L116.40,420.06L116.53,416.49L116.65,416.49L116.78,416.49L116.90,416.49L117.03,412.40L117.15,412.40L117.28,412.40L117.40,412.40L117.53,405.53L117.65,405.53L117.78,405.53L117.90,405.53L118.03,416.60L118.15,416.60L118.28,416.60L118.40,416.60L118.53,413.03L118.65,413.03L118.78,413.03L118.90,413.03L119.03,410.28L119.15,410.28L119.28,410.28L119.40,410.28L119.53,419.52L119.65,419.52L119.78,419.52L119.90,419.52L120.03,409.48L120.15,409.48L120.28,409.48L120.40,409.48L120.53,403.30L120.65,403.30L120.78,403.30L120.90,403.30L121.03,407.93L121.15,411.27L121.28,414.61L121.40,417.95L121.53,416.82L121.65,420.56L121.78,424.30L121.90,428.05L122.03,431.77L122.15,435.52L122.28,439.27L122.40,443.01L122.53,448.99L122.65,451.99L122.78,454.99L122.90,457.99L123.03,457.99L123.15,457.99L123.28,457.99L123.40,414.44L123.53,422.04L123.65,422.04L123.78,422.04L123.90,422.04L124.03,416.94L124.15,416.94L124.28,416.94L124.40,416.94L124.53,407.03L124.65,407.03L124.78,407.03L124.90,407.03L125.03,400.39L125.15,400.39L125.28,400.39L125.40,400.39L125.53,405.72L125.65,405.72L125.78,405.72L125.90,405.72L126.03,420.10L126.15,420.10L126.28,420.10L126.40,420.10L126.53,414.54L126.65,414.54L126.78,414.54L126.90,414.54L127.03,405.64L127.15,405.64L127.28,405.64L127.40,405.64L127.53,404.99L127.65,404.99L127.78,404.99L127.90,404.99L128.03,401.30L128.15,401.30L128.28,401.30L128.40,401.30L128.53,400.93L128.65,400.93L128.78,400.93L128.90,400.93L129.03,400.33L129.15,400.33L129.28,400.33L129.40,400.33L129.53,418.60L129.65,418.60L129.78,418.60L129.90,418.60L130.03,409.67L130.15,409.67L130.28,409.67L130.40,409.67L130.53,400.67L130.65,400.67L130.78,400.67L130.90,400.67L131.03,404.16L131.15,404.16L131.28,404.16L131.40,404.16L131.53,400.26L131.65,400.26L131.78,400.26L131.90,400.26L132.03,401.76L132.15,404.49L132.28,407.21L132.40,409.94L132.53,421.71L132.65,423.89L132.78,426.07L132.90,428.26L133.03,428.90L133.15,431.21L133.28,433.51L133.40,435.82L133.53,436.27L133.65,438.79L133.78,441.31L133.90,443.83L134.03,445.57L134.15,448.26L134.28,450.95L134.40,453.64L134.53,456.57L134.65,457.95L134.78,457.95L134.90,457.95L135.03,421.33L135.15,421.33L135.28,421.33L135.40,421.33L135.53,404.58L135.65,404.58L135.78,404.58L135.90,404.58L136.03,400.31L136.15,400.31L136.28,400.31L136.40,400.31L136.53,400.28L136.65,400.28L136.78,400.28L136.90,400.28L137.03,400.36L137.15,400.36L137.28,400.36L137.40,400.36L137.53,421.47L137.65,421.47L137.78,421.47L137.90,421.47L138.03,406.95L138.15,406.95L138.28,406.95L138.40,406.95L138.53,416.40L138.65,416.40L138.78,416.40L138.90,416.40L139.03,400.87L139.15,400.87L139.28,400.87L139.40,400.87L139.53,401.77L139.65,401.77L139.78,401.77L139.90,401.77L140.03,411.26L140.15,411.26L140.28,411.26L140.40,411.26L140.53,418.72L140.65,418.72L140.78,418.72L140.90,418.72L141.03,402.88L141.15,402.88L141.28,402.88L141.40,402.88L141.53,400.30L141.65,400.30L141.78,400.30L141.90,400.30L142.03,417.44L142.15,417.44L142.28,417.44L142.40,417.44L142.53,402.15L142.65,402.15L142.78,402.15L142.90,402.15L143.03,412.88L143.15,412.88L143.28,412.88L143.40,412.88L143.53,400.78L143.65,400.78L143.78,400.78L143.90,400.78L144.03,411.35L144.15,411.35L144.28,411.35L144.40,411.35L144.53,416.54L144.65,416.54L144.78,416.54L144.90,416.54L145.03,412.41L145.15,412.41L145.28,412.41L145.40,412.41L145.53,403.18L145.65,403.18L145.78,403.18L145.90,403.18L146.03,412.39L146.15,412.39L146.28,412.39L146.40,412.39L146.53,400.65L146.65,400.65L146.78,400.65L146.90,400.65L147.03,402.47L147.15,402.47L147.28,402.47L147.40,402.47L147.53,404.26L147.65,404.26L147.78,404.26L147.90,404.26L148.03,417.96L148.15,417.96L148.28,417.96L148.40,417.96L148.53,401.84L148.65,407.34L148.78,412.84L148.90,418.33L149.03,434.16L149.15,437.99L149.28,441.82L149.40,445.64L149.53,448.81L149.65,452.94L149.78,457.07L149.90,457.89L150.03,458.13L150.15,459.29L150.28,460.45L150.40,460.68L150.53,460.68L150.65,460.68L150.78,460.68L150.90,407.07L151.03,404.96L151.15,404.96L151.28,404.96L151.40,404.96L151.53,405.32L151.65,405.32L151.78,405.32L151.90,405.32L152.03,420.57L152.15,425.71L152.28,430.86L152.40,436.00L152.53,443.79L152.65,448.24L152.78,448.59L152.90,448.59L153.03,445.17L153.15,445.17L153.28,445.17L153.40,445.17L153.53,444.08L153.65,448.45L153.78,452.82L153.90,457.19L154.03,460.68L154.15,460.68L154.28,460.68L154.40,460.68L154.53,460.68L154.65,460.68L154.78,460.68L154.90,460.68L155.03,460.68L155.15,460.68L155.28,460.68L155.40,460.68L155.53,460.68L155.65,426.31L155.78,426.31L155.90,426.31L156.03,426.84L156.15,426.84L156.28,426.84L156.40,426.84L156.53,435.92L156.65,436.81L156.78,437.70L156.90,438.59L157.03,439.81L157.15,440.68L157.28,441.56L157.40,442.44L157.53,437.26L157.65,438.44L157.78,439.63L157.90,440.81L158.03,441.83L158.15,443.02L158.28,444.22L158.40,445.41L158.53,447.23L158.65,448.37L158.78,449.51L158.90,450.65L159.03,452.19L159.15,453.28L159.28,454.37L159.40,455.46L159.53,456.02L159.65,457.25L159.78,458.47L159.90,459.70L160.03,460.68L160.15,460.68L160.28,460.68L160.40,460.68L160.53,460.68L160.65,460.68L160.78,460.68L160.90,460.68L161.03,460.68L161.15,460.68L161.28,460.68L161.40,460.68L161.53,460.68L161.65,460.68L161.78,460.68L161.90,460.68L162.03,460.68L162.15,460.68L162.28,460.68L162.40,460.68L162.53,460.68L162.65,460.68L162.78,460.68L162.90,460.68L163.03,460.68L163.15,460.68L163.28,460.68L163.40,460.68L163.53,460.68L163.65,460.68L163.78,460.68L163.90,460.68L164.03,460.68L164.15,460.68L164.28,460.68L164.40,460.68L164.53,460.68L164.65,460.68L164.78,460.68L164.90,460.68L165.03,460.68L165.15,460.68L165.28,460.68L165.40,460.68L165.53,460.68L165.65,460.68L165.78,460.68L165.90,460.68L166.03,460.68L166.15,460.68L166.28,460.68L166.40,460.68L166.53,442.74L166.65,442.74L166.78,442.74L166.90,442.74L167.03,444.45L167.15,446.53L167.28,448.61L167.40,450.69L167.53,451.92L167.65,454.22L167.78,456.53L167.90,458.84L168.03,460.68L168.15,460.68L168.28,460.68L168.40,460.68L168.53,460.68L168.65,460.68L168.78,460.68L168.90,460.68L169.03,460.68L169.15,460.68L169.28,460.68L169.40,460.68L169.53,436.39L169.65,436.39L169.78,436.39L169.90,436.39L170.03,438.57L170.15,438.57L170.28,438.57L170.40,439.39L170.53,438.40L170.65,439.53L170.78,440.65L170.90,441.78L171.03,448.44L171.15,449.22L171.28,449.99L171.40,450.77L171.53,448.44L171.65,449.48L171.78,450.52L171.90,451.55L172.03,451.91L172.15,453.03L172.28,454.16L172.40,455.28L172.53,456.41L172.65,457.54L172.78,458.66L172.90,459.78L173.03,460.68L173.15,460.68L173.28,460.68L173.40,460.68L173.53,460.68L173.65,460.68L173.78,460.68L173.90,460.68L174.03,460.68L174.15,460.68L174.28,460.68L174.40,460.68L174.53,460.68L174.65,460.68L174.78,460.68L174.90,460.68L175.03,460.68L175.15,460.68L175.28,460.68L175.40,460.68L175.53,460.68L175.65,460.68L175.78,460.68L175.90,460.68L176.03,460.68L176.15,460.68L176.28,460.68L176.40,460.68L176.53,460.68L176.65,460.68L176.78,460.68L176.90,460.68L177.03,460.68L177.15,460.68L177.28,460.68L177.40,460.68L177.53,460.68L177.65,460.68L177.78,460.68L177.90,460.68L178.03,460.68L178.15,460.68L178.28,460.68L178.40,460.68L178.53,460.68L178.65,460.68L178.78,460.68L178.90,460.68L179.03,460.68L179.15,460.68L179.28,460.68L179.40,460.68L179.53,460.68L179.65,460.68L179.78,460.68L179.90,460.68L180.03,460.68L180.15,460.68L180.28,460.68L180.40,423.91L180.53,426.49L180.65,426.49L180.78,426.49L180.90,426.49L181.03,423.65L181.15,426.79L181.28,429.93L181.40,433.07L181.53,436.21L181.65,439.35L181.78,442.49L181.90,445.63L182.03,440.15L182.15,440.15L182.28,440.15L182.40,440.15L182.53,438.48L182.65,438.48L182.78,438.48L182.90,438.48L183.03,442.39L183.15,442.39L183.28,442.39L183.40,442.39L183.53,444.62L183.65,445.31L183.78,446.01L183.90,446.71L184.03,445.29L184.15,446.10L184.28,446.91L184.40,447.72L184.53,449.36L184.65,450.12L184.78,450.87L184.90,451.63L185.03,451.03L185.15,451.90L185.28,452.78L185.40,453.66L185.53,454.14L185.65,455.08L185.78,456.01L185.90,456.95L186.03,458.09L186.15,458.96L186.28,459.82L186.40,460.68L186.53,460.68L186.65,460.68L186.78,460.68L186.90,460.68L187.03,460.68L187.15,460.68L187.28,460.68L187.40,460.68L187.53,460.68L187.65,460.68L187.78,460.68L187.90,460.68L188.03,460.68L188.15,460.68L188.28,460.68L188.40,460.68L188.53,460.68L188.65,460.68L188.78,460.68L188.90,460.68L189.03,460.68L189.15,460.68L189.28,460.68L189.40,460.68L189.53,460.68L189.65,460.68L189.78,460.68L189.90,460.68L190.03,460.68L190.15,460.68L190.28,460.68L190.40,460.68L190.53,460.68L190.65,460.68L190.78,460.68L190.90,460.68L191.03,460.68L191.15,460.68L191.28,460.68L191.40,460.68L191.53,460.68L191.65,460.68L191.78,460.68L191.90,460.68L192.03,460.68L192.15,460.68L192.28,460.68L192.40,460.68L192.53,460.68L192.65,460.68L192.78,460.68L192.90,460.68L193.03,460.68L193.15,460.68L193.28,460.68L193.40,460.68L193.53,460.68L193.65,460.68L193.78,460.68L193.90,460.68L194.03,460.68L194.15,460.68L194.28,432.53L194.40,432.53L194.53,433.22L194.65,433.22L194.78,433.22L194.90,435.96L195.03,443.22L195.15,446.03L195.28,448.85L195.40,451.67L195.53,452.95L195.65,456.47L195.78,459.98L195.90,444.60L196.03,445.14L196.15,445.14L196.28,445.14L196.40,445.14L196.53,450.87L196.65,450.87L196.78,450.87L196.90,450.87L197.03,450.82L197.15,451.66L197.28,452.49L197.40,453.33L197.53,451.19L197.65,452.41L197.78,453.62L197.90,454.84L198.03,456.69L198.15,457.74L198.28,458.79L198.40,459.84L198.53,460.68L198.65,460.68L198.78,460.68L198.90,460.68L199.03,460.68L199.15,460.68L199.28,460.68L199.40,460.68L199.53,460.68L199.65,460.68L199.78,460.68L199.90,460.68L200.03,460.68L200.15,460.68L200.28,460.68L200.40,442.27L200.53,447.16L200.65,447.16L200.78,447.16L200.90,447.16L201.03,442.06L201.15,442.06L201.28,442.52L201.40,443.30L201.53,449.06L201.65,449.60L201.78,450.15L201.90,450.69L202.03,449.64L202.15,450.27L202.28,450.91L202.40,451.54L202.53,451.10L202.65,451.82L202.78,452.53L202.90,453.25L203.03,454.70L203.15,455.34L203.28,455.97L203.40,456.61L203.53,456.85L203.65,457.56L203.78,458.27L203.90,458.98L204.03,459.86L204.15,460.45L204.28,460.68L204.40,460.68L204.53,460.68L204.65,460.68L204.78,460.68L204.90,460.68L205.03,460.68L205.15,460.68L205.28,460.68L205.40,460.68L205.53,460.68L205.65,460.68L205.78,460.68L205.90,460.68L206.03,460.68L206.15,460.68L206.28,460.68L206.40,460.68L206.53,460.68L206.65,460.68L206.78,460.68L206.90,460.68L207.03,460.68L207.15,460.68L207.28,460.68L207.40,460.68L207.53,460.68L207.65,460.68L207.78,460.68L207.90,460.68L208.03,460.68L208.15,460.68L208.28,460.68L208.40,460.68L208.53,442.07L208.65,442.07L208.78,442.07L208.90,442.07L209.03,445.85L209.15,445.85L209.28,445.85L209.40,445.85L209.53,443.32L209.65,443.32L209.78,443.32L209.90,443.32L210.03,446.08L210.15,446.08L210.28,446.08L210.40,446.08L210.53,443.74L210.65,443.74L210.78,443.74L210.90,443.74L211.03,443.91L211.15,443.91L211.28,443.91L211.40,443.91L211.53,443.34L211.65,443.34L211.78,443.34L211.90,443.34L212.03,442.67L212.15,442.67L212.28,442.67L212.40,442.67L212.53,448.09L212.65,448.09L212.78,448.09L212.90,448.09L213.03,445.38L213.15,445.38L213.28,445.38L213.40,445.38L213.53,446.68L213.65,446.68L213.78,446.68L213.90,446.68L214.03,448.03L214.15,448.03L214.28,448.03L214.40,448.03L214.53,442.51L214.65,442.51L214.78,442.51L214.90,442.51L215.03,448.35L215.15,448.35L215.28,448.35L215.40,448.35L215.53,447.59L215.65,447.59L215.78,447.59L215.90,447.59L216.03,443.95L216.15,443.95L216.28,443.95L216.40,443.95L216.53,444.45L216.65,444.45L216.78,444.45L216.90,444.45L217.03,442.14L217.15,442.55L217.28,443.55L217.40,444.56L217.53,449.02L217.65,449.80L217.78,450.57L217.90,451.35L218.03,449.67L218.15,450.67L218.28,451.68L218.40,452.68L218.53,454.40L218.65,455.30L218.78,456.20L218.90,457.09L219.03,457.66L219.15,458.67L219.28,459.68L219.40,460.68L219.53,460.68L219.65,460.68L219.78,460.68L219.90,460.68L220.03,460.68L220.15,460.68L220.28,460.68L220.40,460.68L220.53,460.68L220.65,460.68L220.78,460.68L220.90,460.68L221.03,460.68L221.15,460.68L221.28,460.68L221.40,460.68L221.53,460.68L221.65,460.68L221.78,460.68L221.90,460.68L222.03,460.68L222.15,460.68L222.28,460.68L222.40,460.68L222.53,460.68L222.65,460.68L222.78,460.68L222.90,460.68L223.03,460.68L223.15,460.68L223.28,460.68L223.40,460.68L223.53,460.68L223.65,460.68L223.78,460.68L223.90,460.68L224.03,460.68L224.15,460.68L224.28,460.68L224.40,460.68L224.53,460.68L224.65,460.68L224.78,460.68L224.90,460.68L225.03,460.68L225.15,460.68L225.28,460.68L225.40,460.68L225.53,460.68L225.65,460.68L225.78,460.68L225.90,460.68L226.03,460.68L226.15,460.68L226.28,460.68L226.40,460.68L226.53,460.68L226.65,460.68L226.78,460.68L226.90,460.68L227.03,460.68L227.15,460.68L227.28,460.68L227.40,460.68L227.53,460.68L227.65,460.68L227.78,460.68L227.90,460.68L228.03,445.78L228.15,445.78L228.28,445.78L228.40,445.78L228.53,444.65L228.65,444.65L228.78,444.65L228.90,444.65L229.03,444.70L229.15,444.70L229.28,444.70L229.40,444.70L229.53,444.58L229.65,444.58L229.78,444.58L229.90,444.58L230.03,444.86L230.15,444.86L230.28,444.86L230.40,444.86L230.53,444.88L230.65,444.88L230.78,444.88L230.90,444.88L231.03,446.30L231.15,446.30L231.28,446.30L231.40,446.30L231.53,446.67L231.65,446.67L231.78,446.67L231.90,446.67L232.03,448.95L232.15,448.95L232.28,448.95L232.40,448.95L232.53,446.11L232.65,446.11L232.78,446.11L232.90,446.11L233.03,449.70L233.15,449.70L233.28,449.70L233.40,449.70L233.53,445.59L233.65,445.59L233.78,445.59L233.90,445.59L234.03,448.15L234.15,448.15L234.28,448.15L234.40,448.15L234.53,446.55L234.65,446.55L234.78,446.55L234.90,446.55L235.03,447.09L235.15,447.09L235.28,447.09L235.40,447.09L235.53,445.05L235.65,445.32L235.78,445.99L235.90,446.67L236.03,451.77L236.15,452.22L236.28,452.67L236.40,453.12L236.53,452.32L236.65,452.84L236.78,453.37L236.90,453.90L237.03,452.56L237.15,453.25L237.28,453.94L237.40,454.63L237.53,455.89L237.65,456.51L237.78,457.12L237.90,457.74L238.03,459.09L238.15,459.51L238.28,459.93L238.40,460.35L238.53,460.68L238.65,460.68L238.78,460.68L238.90,460.68L239.03,460.68L239.15,460.68L239.28,460.68L239.40,460.68L239.53,460.68L239.65,460.68L239.78,460.68L239.90,460.68L240.03,460.68L240.15,460.68L240.28,460.68L240.40,460.68L240.53,460.68L240.65,460.68L240.78,460.68L240.90,460.68L241.03,460.68L241.15,460.68L241.28,460.68L241.40,460.68L241.53,460.68L241.65,460.68L241.78,460.68L241.90,460.68L242.03,460.68L242.15,460.68L242.28,460.68L242.40,460.68L242.53,450.26L242.65,450.26L242.78,450.26L242.90,450.26L243.03,445.43L243.15,445.84L243.28,446.25L243.40,446.66L243.53,448.27L243.65,448.64L243.78,449.01L243.90,449.38L244.03,448.10L244.15,448.53L244.28,448.96L244.40,449.39L244.53,451.14L244.65,451.51L244.78,451.89L244.90,452.27L245.03,452.16L245.15,452.56L245.28,452.96L245.40,453.36L245.53,456.11L245.65,456.38L245.78,456.64L245.90,456.90L246.03,457.00L246.15,457.27L246.28,457.55L246.40,457.82L246.53,456.69L246.65,457.11L246.78,457.54L246.90,457.96L247.03,458.37L247.15,458.80L247.28,459.23L247.40,459.66L247.53,460.09L247.65,460.51L247.78,460.68L247.90,460.68L248.03,460.68L248.15,460.68L248.28,460.68L248.40,460.68L248.53,460.68L248.65,460.68L248.78,460.68L248.90,460.68L249.03,460.68L249.15,460.68L249.28,460.68L249.40,460.68L249.53,460.68L249.65,460.68L249.78,460.68L249.90,460.68L250.03,460.68L250.15,460.68L250.28,460.68L250.40,460.68L250.53,460.68L250.65,460.68L250.78,460.68L250.90,460.68L251.03,460.68L251.15,460.68L251.28,460.68L251.40,460.68L251.53,460.68L251.65,460.68L251.78,460.68L251.90,460.68L252.03,460.68L252.15,460.68L252.28,460.68L252.40,451.69L252.53,450.00L252.65,450.23L252.78,450.81L252.90,451.39L253.03,450.81L253.15,451.47L253.28,452.13L253.40,452.79L253.53,455.82L253.65,456.26L253.78,456.71L253.90,457.15L254.03,456.34L254.15,456.96L254.28,457.58L254.40,458.20L254.53,458.99L254.65,459.55L254.78,460.12L254.90,460.68L255.03,460.68L255.15,460.68L255.28,460.68L255.40,460.68L255.53,460.68L255.65,460.68L255.78,460.68L255.90,460.68L256.02,460.68L256.15,460.68L256.27,460.68L256.40,460.68L256.52,460.68L256.65,460.68L256.77,460.68L256.90,460.68L257.02,460.68L257.15,460.68L257.27,460.68L257.40,460.68L257.52,460.68L257.65,460.68L257.77,460.68L257.90,460.68L258.02,460.68L258.15,460.68L258.27,460.68L258.40,460.68L258.52,460.68L258.65,460.68L258.77,460.68L258.90,452.61L259.02,452.69L259.15,452.69L259.27,452.69L259.40,452.69L259.52,453.08L259.65,453.08L259.77,453.08L259.90,453.08L260.02,451.56L260.15,451.56L260.27,451.56L260.40,451.56L260.52,451.56L260.65,451.56L260.77,451.56L260.90,451.56L261.02,453.39L261.15,453.39L261.27,453.39L261.40,453.39L261.52,451.81L261.65,451.81L261.77,454.03L261.90,457.72L262.02,460.68L262.15,460.68L262.27,460.68L262.40,460.68L262.52,460.68L262.65,460.68L262.77,460.68L262.90,460.68L263.02,460.68L263.15,460.68L263.27,460.68L263.40,460.68L263.52,460.68L263.65,460.68L263.77,460.68L263.90,460.68L264.02,460.68L264.15,460.68L264.27,460.68L264.40,460.68L264.52,460.68L264.65,460.68L264.77,460.68L264.90,460.68L265.02,460.68L265.15,460.68L265.27,460.68L265.40,460.68L265.52,460.68L265.65,451.96L265.77,451.96L265.90,451.96L266.02,453.17L266.15,453.17L266.27,453.88L266.40,455.05L266.52,455.46L266.65,456.83L266.77,458.21L266.90,459.58L267.02,460.68L267.15,460.68L267.27,460.68L267.40,460.68L267.52,460.68L267.65,460.68L267.77,460.68L267.90,460.68L268.02,460.68L268.15,460.68L268.27,460.68L268.40,460.68L268.52,460.68L268.65,460.68L268.77,460.68L268.90,460.68L269.02,460.68L269.15,460.68L269.27,460.68L269.40,460.68L269.52,460.68L269.65,460.68L269.77,460.68L269.90,460.68L270.02,460.68L270.15,460.68L270.27,460.68L270.40,454.92L270.52,455.41L270.65,455.41L270.77,455.41L270.90,456.07L271.02,456.48L271.15,457.39L271.27,458.31L271.40,459.22L271.52,460.18L271.65,460.68L271.77,460.68L271.90,460.68L272.02,460.68L272.15,460.68L272.27,460.68L272.40,460.68L272.52,460.68L272.65,460.68L272.77,460.68L272.90,460.68L273.02,460.68L273.15,460.68L273.27,460.68L273.40,460.68L273.52,460.68L273.65,460.68L273.77,460.68L273.90,460.68L274.02,460.68L274.15,460.68L274.27,460.68L274.40,460.68L274.52,460.68L274.65,460.68L274.77,457.54L274.90,457.54L275.02,458.42L275.15,459.02L275.27,459.61L275.40,460.21L275.52,460.68L275.65,460.68L275.77,460.68L275.90,460.68L276.02,460.68L276.15,460.68L276.27,460.68L276.40,460.68L276.52,460.68L276.65,460.68L276.77,460.68L276.90,460.68L277.02,460.68L277.15,460.68L277.27,460.68L277.40,460.68L277.52,460.68L277.65,455.44L277.77,455.44L277.90,455.44L278.02,455.23L278.15,456.67L278.27,458.10L278.40,459.54L278.52,460.68L278.65,460.68L278.77,460.68L278.90,460.68L279.02,460.68L279.15,460.68L279.27,460.68L279.40,460.68L279.52,460.68L279.65,460.68L279.77,460.68L279.90,460.68L280.02,457.42L280.15,457.42L280.27,457.42L280.40,458.07L280.52,458.96L280.65,459.74L280.77,460.53L280.90,460.68L281.02,460.68L281.15,460.68L281.27,460.68L281.40,460.68L281.52,460.68L281.65,460.68L281.77,460.68L281.90,460.68L282.02,460.68L282.15,460.68L282.27,460.68L282.40,457.29L282.52,457.87L282.65,457.87L282.77,458.29L282.90,458.99L283.02,459.93L283.15,460.47L283.27,460.68L283.40,460.68L283.52,460.68L283.65,460.68L283.77,460.68L283.90,460.68L284.02,460.68L284.15,460.68L284.27,460.68L284.40,460.68L284.52,458.01L284.65,458.01L284.77,458.01L284.90,458.55L285.02,458.90L285.15,459.71L285.27,460.52L285.40,460.68L285.52,460.68L285.65,460.68L285.77,460.68L285.90,460.68L286.02,460.68L286.15,460.68L286.27,460.68L286.40,460.68L286.52,460.68L286.65,457.30L286.77,457.30L286.90,457.30L287.02,458.61L287.15,459.30L287.27,459.99L287.40,460.68L287.52,460.68L287.65,460.68L287.77,460.68L287.90,460.68L288.02,460.68L288.15,460.68L288.27,460.68L288.40,460.68L288.52,460.68L288.65,460.68L288.77,458.53L288.90,458.53L289.02,457.60L289.15,458.41L289.27,459.22L289.40,460.03L289.52,460.68L289.65,460.68L289.77,460.68L289.90,460.68L290.02,460.68L290.15,460.68L290.27,460.68L290.40,460.68L290.52,460.68L290.65,460.68L290.77,460.68L290.90,457.61L291.02,457.47L291.15,457.79L291.27,458.59L291.40,459.40L291.52,460.37L291.65,460.68L291.77,460.68L291.90,460.68L292.02,460.68L292.15,460.68L292.27,460.68L292.40,460.68L292.52,457.29L292.65,457.29L292.77,457.29L292.90,457.97L293.02,459.17L293.15,459.86L293.27,460.55L293.40,460.68L293.52,460.68L293.65,460.68L293.77,460.68L293.90,460.68L294.02,460.68L294.15,460.68L294.27,460.68L294.40,460.68L294.52,460.68L294.65,460.68L294.77,460.68L294.90,460.68L295.02,460.68L295.15,460.68L295.27,460.68L295.40,460.68L295.52,460.68L295.65,460.68L295.77,460.68L295.90,460.68L295.90,463.60Z" fill="#a13848"/>
<path d="M64.40,463.60L64.40,463.60L64.53,463.60L64.65,463.60L64.78,463.60L64.90,463.60L65.03,463.60L65.15,463.60L65.28,463.60L65.40,463.60L65.53,463.60L65.65,463.60L65.78,463.60L65.90,463.60L66.03,463.60L66.15,463.60L66.28,463.60L66.40,463.60L66.53,463.60L66.65,463.60L66.78,463.60L66.90,463.60L67.03,463.60L67.15,463.60L67.28,463.60L67.40,463.60L67.53,463.60L67.65,463.60L67.78,463.60L67.90,463.60L68.03,463.60L68.15,463.60L68.28,463.60L68.40,463.60L68.53,463.60L68.65,463.60L68.78,463.60L68.90,463.60L69.03,463.60L69.15,463.60L69.28,463.60L69.40,463.60L69.53,463.60L69.65,463.60L69.78,463.60L69.90,463.60L70.03,463.60L70.15,463.60L70.28,463.60L70.40,463.60L70.53,463.60L70.65,463.60L70.78,463.60L70.90,463.60L71.03,463.60L71.15,463.60L71.28,463.60L71.40,463.60L71.53,463.60L71.65,463.60L71.78,463.60L71.90,463.60L72.03,463.65L72.15,463.89L72.28,464.12L72.40,464.36L72.53,464.60L72.65,464.84L72.78,465.07L72.90,465.31L73.03,465.50L73.15,465.51L73.28,465.51L73.40,465.52L73.53,465.52L73.65,465.52L73.78,465.53L73.90,465.53L74.03,465.54L74.15,465.54L74.28,465.54L74.40,465.55L74.53,465.55L74.65,465.56L74.78,465.56L74.90,465.56L75.03,465.57L75.15,465.57L75.28,465.58L75.40,465.58L75.53,465.59L75.65,465.59L75.78,465.59L75.90,465.60L76.03,465.60L76.15,465.61L76.28,465.61L76.40,465.61L76.53,465.62L76.65,465.62L76.78,465.63L76.90,470.17L77.03,470.64L77.15,471.03L77.28,471.42L77.40,471.82L77.53,470.26L77.65,470.54L77.78,470.82L77.90,471.10L78.03,472.95L78.15,473.30L78.28,473.66L78.40,474.01L78.53,475.27L78.65,475.67L78.78,476.06L78.90,476.45L79.03,472.18L79.15,472.41L79.28,472.64L79.40,472.87L79.53,478.05L79.65,478.43L79.78,478.81L79.90,479.19L80.03,465.73L80.15,465.74L80.28,465.74L80.40,465.75L80.53,465.75L80.65,465.75L80.78,465.76L80.90,465.76L81.03,465.77L81.15,465.77L81.28,465.77L81.40,465.78L81.53,465.78L81.65,465.79L81.78,465.79L81.90,465.80L82.03,465.80L82.15,465.80L82.28,471.82L82.40,472.09L82.53,473.65L82.65,473.97L82.78,474.29L82.90,474.60L83.03,474.87L83.15,475.18L83.28,475.50L83.40,475.81L83.53,476.23L83.65,476.55L83.78,476.87L83.90,477.19L84.03,477.22L84.15,477.53L84.28,477.84L84.40,478.15L84.53,479.10L84.65,479.43L84.78,479.75L84.90,480.08L85.03,480.35L85.15,480.68L85.28,481.00L85.40,481.33L85.53,473.73L85.65,473.89L85.78,474.05L85.90,474.22L86.03,474.45L86.15,474.61L86.28,474.78L86.40,474.94L86.53,484.17L86.65,484.50L86.78,484.82L86.90,485.14L87.03,465.96L87.15,465.97L87.28,465.97L87.40,465.98L87.53,465.98L87.65,465.98L87.78,465.99L87.90,465.99L88.03,466.00L88.15,466.00L88.28,466.01L88.40,466.01L88.53,466.01L88.65,466.02L88.78,466.02L88.90,466.03L89.03,466.03L89.15,466.03L89.28,466.04L89.40,466.04L89.53,466.05L89.65,466.05L89.78,466.05L89.90,466.06L90.03,466.06L90.15,466.07L90.28,466.07L90.40,466.08L90.53,466.08L90.65,466.08L90.78,466.09L90.90,466.09L91.03,466.10L91.15,466.10L91.28,466.10L91.40,466.11L91.53,466.11L91.65,466.12L91.78,466.12L91.90,469.51L92.03,473.49L92.15,473.84L92.28,474.20L92.40,474.55L92.53,472.02L92.65,472.26L92.78,472.49L92.90,472.73L93.03,472.31L93.15,472.53L93.28,472.74L93.40,472.96L93.53,472.56L93.65,472.75L93.78,472.95L93.90,473.15L94.03,479.64L94.15,480.01L94.28,480.37L94.40,480.74L94.53,479.30L94.65,479.63L94.78,479.95L94.90,480.27L95.03,473.91L95.15,474.09L95.28,474.26L95.40,474.44L95.53,482.49L95.65,482.82L95.78,483.16L95.90,483.49L96.03,478.50L96.15,478.74L96.28,478.97L96.40,479.20L96.53,483.58L96.65,483.89L96.78,484.19L96.90,484.50L97.03,481.21L97.15,481.45L97.28,466.30L97.40,466.31L97.53,466.31L97.65,466.31L97.78,466.32L97.90,466.32L98.03,466.33L98.15,466.33L98.28,466.33L98.40,476.69L98.53,477.17L98.65,477.68L98.78,478.20L98.90,478.71L99.03,479.19L99.15,479.71L99.28,480.22L99.40,480.74L99.53,480.83L99.65,481.33L99.78,481.83L99.90,482.33L100.03,474.70L100.15,474.96L100.28,475.21L100.40,475.47L100.53,481.30L100.65,481.71L100.78,482.11L100.90,482.52L101.03,479.81L101.15,480.14L101.28,480.47L101.40,480.80L101.53,485.55L101.65,485.97L101.78,486.40L101.90,486.83L102.03,486.10L102.15,486.50L102.28,486.91L102.40,487.31L102.53,483.88L102.65,484.21L102.78,484.54L102.90,484.87L103.03,481.98L103.15,482.26L103.28,475.20L103.40,475.53L103.53,476.11L103.65,476.45L103.78,476.79L103.90,477.13L104.03,479.16L104.15,479.55L104.28,479.94L104.40,480.33L104.53,489.09L104.65,489.71L104.78,490.33L104.90,490.95L105.03,489.89L105.15,490.46L105.28,491.04L105.40,491.62L105.53,494.15L105.65,494.77L105.78,495.40L105.90,496.02L106.03,491.72L106.15,492.24L106.28,492.76L106.40,493.28L106.53,487.80L106.65,488.21L106.78,488.61L106.90,489.02L107.03,486.35L107.15,486.94L107.28,487.53L107.40,488.12L107.53,488.31L107.65,488.88L107.78,489.46L107.90,490.04L108.03,489.30L108.15,489.85L108.28,490.40L108.40,490.94L108.53,492.58L108.65,493.15L108.78,493.72L108.90,494.29L109.03,485.69L109.15,486.07L109.28,486.46L109.40,486.85L109.53,496.03L109.65,496.58L109.78,497.13L109.90,497.68L110.03,492.94L110.15,493.40L110.28,493.86L110.40,494.32L110.53,498.05L110.65,498.56L110.78,499.07L110.90,499.59L111.03,498.04L111.15,498.52L111.28,466.76L111.40,466.77L111.53,466.77L111.65,466.77L111.78,466.78L111.90,466.78L112.03,466.79L112.15,466.79L112.28,466.80L112.40,466.80L112.53,466.80L112.65,466.81L112.78,466.81L112.90,466.82L113.03,466.82L113.15,466.82L113.28,466.83L113.40,466.83L113.53,466.84L113.65,466.84L113.78,466.84L113.90,487.50L114.03,489.17L114.15,489.50L114.28,489.83L114.40,490.16L114.53,488.70L114.65,489.01L114.78,489.31L114.90,489.62L115.03,488.36L115.15,488.65L115.28,488.93L115.40,489.22L115.53,479.88L115.65,480.05L115.78,480.21L115.90,480.38L116.03,492.51L116.15,492.82L116.28,493.13L116.40,493.44L116.53,495.94L116.65,496.28L116.78,496.61L116.90,496.94L117.03,484.95L117.15,485.15L117.28,485.35L117.40,485.55L117.53,498.39L117.65,498.72L117.78,499.05L117.90,499.38L118.03,495.79L118.15,496.08L118.28,496.37L118.40,496.66L118.53,487.65L118.65,487.85L118.78,488.06L118.90,488.26L119.03,497.41L119.15,497.70L119.28,497.98L119.40,498.27L119.53,499.88L119.65,500.18L119.78,500.48L119.90,500.77L120.03,491.79L120.15,492.01L120.28,492.23L120.40,492.44L120.53,506.58L120.65,506.91L120.78,507.25L120.90,507.58L121.03,500.56L121.15,500.83L121.28,501.10L121.40,501.38L121.53,505.33L121.65,505.63L121.78,505.93L121.90,506.23L122.03,487.71L122.15,488.02L122.28,488.33L122.40,488.64L122.53,497.40L122.65,467.14L122.78,467.14L122.90,467.15L123.03,467.15L123.15,467.15L123.28,467.16L123.40,467.16L123.53,467.17L123.65,467.17L123.78,467.17L123.90,504.23L124.03,500.92L124.15,501.11L124.28,501.30L124.40,501.49L124.53,495.50L124.65,495.66L124.78,495.81L124.90,495.97L125.03,504.51L125.15,504.72L125.28,504.92L125.40,505.12L125.53,504.89L125.65,505.09L125.78,505.29L125.90,505.49L126.03,489.31L126.15,489.43L126.28,489.54L126.40,489.66L126.53,488.38L126.65,488.49L126.78,488.60L126.90,488.71L127.03,506.43L127.15,506.62L127.28,506.82L127.40,507.02L127.53,491.72L127.65,491.84L127.78,491.96L127.90,492.08L128.03,509.40L128.15,509.61L128.28,509.81L128.40,510.01L128.53,512.78L128.65,512.99L128.78,513.21L128.90,513.42L129.03,506.72L129.15,506.90L129.28,507.09L129.40,507.27L129.53,503.31L129.65,503.47L129.78,503.64L129.90,503.80L130.03,494.41L130.15,494.54L130.28,494.66L130.40,494.78L130.53,491.29L130.65,491.40L130.78,491.51L130.90,491.61L131.03,501.01L131.15,501.15L131.28,501.30L131.40,501.45L131.53,502.05L131.65,502.20L131.78,502.35L131.90,502.50L132.03,504.69L132.15,504.85L132.28,505.00L132.40,505.16L132.53,505.66L132.65,505.82L132.78,505.98L132.90,506.14L133.03,467.48L133.15,467.48L133.28,467.49L133.40,467.49L133.53,467.50L133.65,467.50L133.78,467.50L133.90,467.51L134.03,467.51L134.15,467.52L134.28,467.52L134.40,467.52L134.53,467.53L134.65,467.53L134.78,467.54L134.90,467.54L135.03,467.54L135.15,467.55L135.28,467.55L135.40,512.94L135.53,513.27L135.65,513.38L135.78,513.50L135.90,513.62L136.03,511.56L136.15,511.67L136.28,511.78L136.40,511.89L136.53,498.19L136.65,498.27L136.78,498.35L136.90,498.42L137.03,515.87L137.15,515.99L137.28,516.11L137.40,516.23L137.53,511.01L137.65,511.12L137.78,511.22L137.90,511.33L138.03,499.00L138.15,499.07L138.28,499.15L138.40,499.23L138.53,515.48L138.65,515.60L138.78,515.71L138.90,515.83L139.03,517.76L139.15,517.88L139.28,518.00L139.40,518.12L139.53,516.71L139.65,516.83L139.78,516.95L139.90,517.06L140.03,518.62L140.15,518.74L140.28,518.86L140.40,518.98L140.53,500.79L140.65,500.87L140.78,500.95L140.90,501.03L141.03,518.95L141.15,519.07L141.28,519.18L141.40,519.30L141.53,519.15L141.65,519.27L141.78,519.39L141.90,519.50L142.03,501.40L142.15,501.48L142.28,501.56L142.40,501.63L142.53,501.92L142.65,502.00L142.78,502.07L142.90,502.15L143.03,511.39L143.15,511.49L143.28,511.59L143.40,511.68L143.53,497.16L143.65,497.22L143.78,497.29L143.90,497.35L144.03,522.53L144.15,522.65L144.28,522.77L144.40,522.89L144.53,494.81L144.65,494.87L144.78,494.93L144.90,494.99L145.03,513.60L145.15,513.70L145.28,513.80L145.40,513.90L145.53,521.24L145.65,521.35L145.78,521.47L145.90,521.58L146.03,503.31L146.15,503.38L146.28,503.46L146.40,503.53L146.53,511.37L146.65,511.46L146.78,511.55L146.90,511.64L147.03,494.69L147.15,494.75L147.28,494.81L147.40,494.86L147.53,525.61L147.65,525.72L147.78,525.84L147.90,525.96L148.03,515.60L148.15,515.70L148.28,515.79L148.40,515.89L148.53,519.68L148.65,467.99L148.78,468.00L148.90,468.00L149.03,468.01L149.15,468.01L149.28,468.01L149.40,468.02L149.53,468.02L149.65,525.10L149.78,525.10L149.90,525.10L150.03,526.97L150.15,526.97L150.28,526.97L150.40,526.97L150.53,517.40L150.65,517.40L150.78,517.40L150.90,517.40L151.03,522.69L151.15,522.69L151.28,522.69L151.40,522.69L151.53,501.19L151.65,501.20L151.78,501.20L151.90,501.20L152.03,520.16L152.15,520.16L152.28,520.16L152.40,520.16L152.53,521.32L152.65,487.15L152.78,487.64L152.90,488.14L153.03,485.82L153.15,486.25L153.28,486.68L153.40,487.11L153.53,489.21L153.65,489.68L153.78,490.14L153.90,490.61L154.03,481.45L154.15,481.72L154.28,482.00L154.40,482.27L154.53,487.39L154.65,487.75L154.78,488.11L154.90,488.47L155.03,495.34L155.15,495.81L155.28,496.29L155.40,496.76L155.53,500.97L155.65,501.51L155.78,502.04L155.90,502.58L156.03,496.81L156.15,497.25L156.28,497.69L156.40,498.13L156.53,468.19L156.65,468.20L156.78,468.20L156.90,468.20L157.03,468.21L157.15,468.21L157.28,468.21L157.40,468.21L157.53,468.22L157.65,468.22L157.78,468.22L157.90,468.23L158.03,468.23L158.15,468.23L158.28,468.23L158.40,468.24L158.53,468.24L158.65,468.24L158.78,468.25L158.90,468.25L159.03,468.25L159.15,468.26L159.28,468.26L159.40,468.26L159.53,468.26L159.65,468.27L159.78,468.27L159.90,468.27L160.03,468.28L160.15,468.28L160.28,468.28L160.40,468.29L160.53,468.29L160.65,468.29L160.78,468.29L160.90,468.30L161.03,468.30L161.15,468.30L161.28,468.31L161.40,468.31L161.53,468.31L161.65,468.31L161.78,468.32L161.90,468.32L162.03,468.32L162.15,468.33L162.28,468.33L162.40,468.33L162.53,468.34L162.65,468.34L162.78,468.34L162.90,468.34L163.03,468.35L163.15,468.35L163.28,468.35L163.40,468.36L163.53,468.36L163.65,468.36L163.78,468.37L163.90,468.37L164.03,468.37L164.15,468.37L164.28,468.38L164.40,468.38L164.53,468.38L164.65,468.39L164.78,468.39L164.90,468.39L165.03,468.40L165.15,468.40L165.28,468.40L165.40,477.80L165.53,485.76L165.65,485.96L165.78,486.16L165.90,486.36L166.03,486.73L166.15,486.93L166.28,487.13L166.40,487.33L166.53,486.13L166.65,486.32L166.78,486.50L166.90,486.69L167.03,485.36L167.15,485.53L167.28,485.70L167.40,485.88L167.53,488.08L167.65,488.27L167.78,488.46L167.90,488.66L168.03,489.31L168.15,489.51L168.28,489.70L168.40,489.90L168.53,489.81L168.65,490.00L168.78,490.19L168.90,490.39L169.03,494.23L169.15,494.46L169.28,494.68L169.40,494.91L169.53,487.60L169.65,487.77L169.78,487.93L169.90,488.09L170.03,492.13L170.15,492.33L170.28,492.52L170.40,492.71L170.53,497.44L170.65,497.67L170.78,497.89L170.90,498.12L171.03,498.96L171.15,499.20L171.28,499.43L171.40,499.66L171.53,500.88L171.65,501.12L171.78,501.36L171.90,501.60L172.03,499.72L172.15,499.94L172.28,468.57L172.40,468.57L172.53,468.57L172.65,468.58L172.78,468.58L172.90,468.58L173.03,468.59L173.15,468.59L173.28,468.59L173.40,468.59L173.53,468.60L173.65,468.60L173.78,468.60L173.90,468.61L174.03,468.61L174.15,468.61L174.28,468.62L174.40,468.62L174.53,468.62L174.65,468.62L174.78,468.63L174.90,468.63L175.03,468.63L175.15,468.64L175.28,468.64L175.40,468.64L175.53,468.64L175.65,468.65L175.78,468.65L175.90,468.65L176.03,468.66L176.15,468.66L176.28,468.66L176.40,468.67L176.53,468.67L176.65,468.67L176.78,468.67L176.90,468.68L177.03,468.68L177.15,468.68L177.28,468.69L177.40,468.69L177.53,468.69L177.65,468.70L177.78,468.70L177.90,468.70L178.03,468.70L178.15,468.71L178.28,468.71L178.40,468.71L178.53,468.72L178.65,468.72L178.78,468.72L178.90,468.73L179.03,468.73L179.15,468.73L179.28,468.73L179.40,468.74L179.53,468.74L179.65,468.74L179.78,468.75L179.90,494.26L180.03,488.80L180.15,488.80L180.28,510.88L180.40,510.88L180.53,493.96L180.65,493.96L180.78,493.97L180.90,480.76L181.03,493.90L181.15,493.90L181.28,493.91L181.40,493.91L181.53,505.40L181.65,505.40L181.78,505.40L181.90,505.40L182.03,505.78L182.15,505.78L182.28,505.78L182.40,505.78L182.53,488.34L182.65,488.34L182.78,488.34L182.90,488.34L183.03,489.11L183.15,489.11L183.28,482.90L183.40,482.90L183.53,486.69L183.65,486.69L183.78,486.69L183.90,486.69L184.03,486.45L184.15,486.45L184.28,486.45L184.40,486.46L184.53,494.38L184.65,494.38L184.78,494.38L184.90,494.38L185.03,485.31L185.15,485.31L185.28,485.32L185.40,485.32L185.53,468.88L185.65,468.89L185.78,468.89L185.90,468.89L186.03,468.89L186.15,468.90L186.28,468.90L186.40,468.90L186.53,468.91L186.65,468.91L186.78,468.91L186.90,468.92L187.03,468.92L187.15,468.92L187.28,468.92L187.40,468.93L187.53,468.93L187.65,468.93L187.78,468.94L187.90,468.94L188.03,468.94L188.15,468.95L188.28,468.95L188.40,468.95L188.53,468.95L188.65,468.96L188.78,468.96L188.90,468.96L189.03,468.97L189.15,468.97L189.28,468.97L189.40,468.97L189.53,468.98L189.65,468.98L189.78,468.98L189.90,468.99L190.03,468.99L190.15,468.99L190.28,469.00L190.40,469.00L190.53,469.00L190.65,469.00L190.78,469.01L190.90,469.01L191.03,469.01L191.15,469.02L191.28,469.02L191.40,469.02L191.53,469.03L191.65,469.03L191.78,469.03L191.90,469.03L192.03,469.04L192.15,469.04L192.28,469.04L192.40,469.05L192.53,486.89L192.65,486.89L192.78,486.90L192.90,486.90L193.03,493.39L193.15,493.39L193.28,493.39L193.40,493.39L193.53,485.68L193.65,485.69L193.78,485.69L193.90,485.69L194.03,494.56L194.15,494.56L194.28,494.56L194.40,494.56L194.53,515.40L194.65,515.40L194.78,515.40L194.90,515.40L195.03,511.81L195.15,491.97L195.28,491.97L195.40,491.97L195.53,494.44L195.65,494.44L195.78,494.44L195.90,494.44L196.03,494.09L196.15,494.09L196.28,494.09L196.40,494.09L196.53,484.73L196.65,484.73L196.78,484.73L196.90,484.73L197.03,492.72L197.15,492.72L197.28,492.72L197.40,492.72L197.53,494.00L197.65,494.00L197.78,494.00L197.90,497.70L198.03,486.94L198.15,486.94L198.28,486.94L198.40,486.94L198.53,490.03L198.65,490.03L198.78,490.03L198.90,490.03L199.03,489.04L199.15,489.04L199.28,489.04L199.40,489.04L199.53,483.61L199.65,483.61L199.78,483.61L199.90,483.61L200.03,487.53L200.15,487.53L200.28,493.92L200.40,493.92L200.53,502.22L200.65,502.22L200.78,502.22L200.90,493.68L201.03,494.66L201.15,494.66L201.28,494.66L201.40,494.66L201.53,490.45L201.65,490.45L201.78,469.27L201.90,469.27L202.03,469.27L202.15,469.28L202.28,469.28L202.40,469.28L202.53,469.29L202.65,469.29L202.78,469.29L202.90,469.30L203.03,469.30L203.15,469.30L203.28,469.30L203.40,469.31L203.53,469.31L203.65,469.31L203.78,469.32L203.90,469.32L204.03,469.32L204.15,469.33L204.28,469.33L204.40,469.33L204.53,469.33L204.65,469.34L204.78,469.34L204.90,469.34L205.03,469.35L205.15,469.35L205.28,469.35L205.40,469.36L205.53,469.36L205.65,469.36L205.78,469.36L205.90,469.37L206.03,469.37L206.15,469.37L206.28,469.38L206.40,469.38L206.53,469.38L206.65,469.38L206.78,469.39L206.90,469.39L207.03,469.39L207.15,469.40L207.28,469.40L207.40,469.40L207.53,469.41L207.65,469.41L207.78,469.41L207.90,469.41L208.03,469.42L208.15,469.42L208.28,469.42L208.40,469.43L208.53,469.43L208.65,500.46L208.78,500.46L208.90,500.46L209.03,502.99L209.15,502.99L209.28,502.99L209.40,502.99L209.53,502.43L209.65,502.43L209.78,502.43L209.90,502.43L210.03,493.07L210.15,493.07L210.28,493.07L210.40,493.07L210.53,504.20L210.65,504.20L210.78,504.20L210.90,504.20L211.03,504.44L211.15,504.44L211.28,504.44L211.40,504.44L211.53,503.93L211.65,503.93L211.78,503.93L211.90,503.93L212.03,496.12L212.15,496.12L212.28,496.12L212.40,496.13L212.53,502.13L212.65,502.13L212.78,502.13L212.90,502.13L213.03,503.98L213.15,503.98L213.28,503.98L213.40,503.98L213.53,502.69L213.65,502.69L213.78,502.69L213.90,502.69L214.03,504.68L214.15,504.68L214.28,504.68L214.40,504.68L214.53,501.12L214.65,501.12L214.78,501.12L214.90,501.12L215.03,492.06L215.15,492.06L215.28,492.06L215.40,492.06L215.53,500.96L215.65,500.96L215.78,500.96L215.90,500.96L216.03,500.94L216.15,500.94L216.28,500.94L216.40,500.94L216.53,504.80L216.65,504.80L216.78,504.80L216.90,504.80L217.03,503.30L217.15,503.30L217.28,503.30L217.40,503.30L217.53,504.70L217.65,504.70L217.78,504.70L217.90,504.70L218.03,504.77L218.15,504.77L218.28,504.77L218.40,504.77L218.53,490.40L218.65,490.40L218.78,490.40L218.90,490.40L219.03,469.68L219.15,469.68L219.28,469.69L219.40,469.69L219.53,469.69L219.65,469.69L219.78,469.70L219.90,469.70L220.03,469.70L220.15,469.71L220.28,469.71L220.40,469.71L220.53,469.71L220.65,469.72L220.78,469.72L220.90,469.72L221.03,469.73L221.15,469.73L221.28,469.73L221.40,469.74L221.53,469.74L221.65,469.74L221.78,469.74L221.90,469.75L222.03,469.75L222.15,469.75L222.28,469.76L222.40,469.76L222.53,469.76L222.65,469.77L222.78,469.77L222.90,469.77L223.03,469.77L223.15,469.78L223.28,469.78L223.40,469.78L223.53,469.79L223.65,469.79L223.78,469.79L223.90,469.79L224.03,469.80L224.15,469.80L224.28,469.80L224.40,469.81L224.53,469.81L224.65,469.81L224.78,469.82L224.90,469.82L225.03,469.82L225.15,469.82L225.28,469.83L225.40,469.83L225.53,469.83L225.65,469.84L225.78,469.84L225.90,469.84L226.03,469.85L226.15,469.85L226.28,469.85L226.40,469.85L226.53,469.86L226.65,469.86L226.78,469.86L226.90,469.87L227.03,469.87L227.15,469.87L227.28,469.88L227.40,469.88L227.53,469.88L227.65,469.88L227.78,469.89L227.90,469.89L228.03,469.89L228.15,469.90L228.28,503.52L228.40,503.53L228.53,489.90L228.65,489.91L228.78,489.92L228.90,489.93L229.03,498.12L229.15,498.13L229.28,498.14L229.40,498.15L229.53,503.65L229.65,503.66L229.78,503.67L229.90,503.68L230.03,503.61L230.15,503.63L230.28,503.64L230.40,503.65L230.53,498.62L230.65,498.63L230.78,498.64L230.90,498.65L231.03,503.59L231.15,503.60L231.28,503.61L231.40,503.62L231.53,502.21L231.65,502.22L231.78,502.23L231.90,502.24L232.03,502.47L232.15,502.48L232.28,502.50L232.40,502.51L232.53,486.39L232.65,486.40L232.78,486.41L232.90,486.42L233.03,499.86L233.15,499.87L233.28,499.88L233.40,499.89L233.53,502.50L233.65,502.51L233.78,502.52L233.90,502.53L234.03,487.65L234.15,487.66L234.28,487.67L234.40,487.68L234.53,486.67L234.65,486.68L234.78,486.69L234.90,486.70L235.03,494.49L235.15,494.50L235.28,494.51L235.40,494.52L235.53,470.25L235.65,470.26L235.78,470.27L235.90,470.27L236.03,470.28L236.15,470.29L236.28,470.30L236.40,470.30L236.53,470.31L236.65,470.32L236.78,470.32L236.90,470.33L237.03,470.34L237.15,470.35L237.28,470.35L237.40,470.36L237.53,470.37L237.65,470.37L237.78,470.38L237.90,470.39L238.03,470.40L238.15,470.83L238.28,471.48L238.40,472.13L238.53,472.51L238.65,473.09L238.78,473.67L238.90,474.24L239.03,474.57L239.15,475.11L239.28,475.66L239.40,476.20L239.53,479.16L239.65,479.91L239.78,480.66L239.90,481.41L240.03,482.01L240.15,482.75L240.28,483.49L240.40,484.23L240.53,487.03L240.65,487.87L240.78,488.72L240.90,489.56L241.03,489.00L241.15,489.79L241.28,490.58L241.40,491.36L241.53,483.84L241.65,484.33L241.78,484.81L241.90,485.30L242.03,496.60L242.15,497.43L242.28,498.26L242.40,499.09L242.53,491.44L242.65,492.03L242.78,492.62L242.90,493.21L243.03,492.15L243.15,492.70L243.28,493.25L243.40,493.80L243.53,470.71L243.65,470.71L243.78,470.72L243.90,470.73L244.03,470.74L244.15,470.74L244.28,470.75L244.40,470.76L244.53,470.76L244.65,470.77L244.78,470.78L244.90,470.79L245.03,470.79L245.15,470.80L245.28,470.81L245.40,470.81L245.53,470.82L245.65,470.83L245.78,470.84L245.90,470.84L246.03,470.85L246.15,470.86L246.28,470.86L246.40,470.87L246.53,470.88L246.65,470.89L246.78,470.89L246.90,470.90L247.03,470.91L247.15,470.91L247.28,470.92L247.40,470.93L247.53,470.94L247.65,470.94L247.78,471.66L247.90,472.43L248.03,473.10L248.15,473.83L248.28,474.56L248.40,475.30L248.53,475.16L248.65,475.77L248.78,476.38L248.90,476.99L249.03,479.30L249.15,480.06L249.28,480.82L249.40,481.59L249.53,478.02L249.65,478.50L249.78,478.97L249.90,479.45L250.03,485.24L250.15,485.99L250.28,486.75L250.40,487.50L250.53,483.34L250.65,483.88L250.78,484.42L250.90,484.96L251.03,491.09L251.15,491.84L251.28,492.59L251.40,493.33L251.53,492.06L251.65,492.74L251.78,493.42L251.90,494.11L252.03,487.10L252.15,487.56L252.28,488.02L252.40,488.48L252.53,497.84L252.65,498.53L252.78,499.22L252.90,499.91L253.03,471.25L253.15,471.25L253.28,471.26L253.40,471.27L253.53,471.28L253.65,471.28L253.78,471.29L253.90,471.30L254.03,471.30L254.15,471.31L254.28,471.32L254.40,471.33L254.53,471.33L254.65,471.34L254.78,471.35L254.90,471.35L255.03,471.36L255.15,471.37L255.28,471.60L255.40,472.09L255.53,472.62L255.65,473.13L255.78,473.64L255.90,474.14L256.02,474.87L256.15,475.41L256.27,475.95L256.40,476.49L256.52,477.22L256.65,477.78L256.77,478.34L256.90,478.90L257.02,479.07L257.15,479.61L257.27,480.14L257.40,480.67L257.52,481.37L257.65,481.91L257.77,482.45L257.90,482.99L258.02,483.22L258.15,483.75L258.27,484.28L258.40,484.80L258.52,481.06L258.65,481.43L258.77,481.80L258.90,482.16L259.02,481.14L259.15,481.46L259.27,481.78L259.40,482.10L259.52,482.05L259.65,482.35L259.77,482.66L259.90,482.97L260.02,491.11L260.15,491.62L260.27,492.14L260.40,492.65L260.52,484.92L260.65,485.23L260.77,485.55L260.90,485.87L261.02,492.82L261.15,493.28L261.27,493.74L261.40,494.20L261.52,484.57L261.65,471.74L261.77,471.74L261.90,472.37L262.02,474.03L262.15,474.96L262.27,475.89L262.40,476.82L262.52,475.91L262.65,476.55L262.77,477.20L262.90,477.84L263.02,479.70L263.15,480.46L263.27,481.22L263.40,481.99L263.52,483.35L263.65,484.16L263.77,484.97L263.90,485.78L264.02,483.68L264.15,484.34L264.27,484.99L264.40,485.65L264.52,484.95L264.65,485.55L264.77,486.15L264.90,486.75L265.02,487.39L265.15,487.99L265.27,488.59L265.40,489.19L265.52,498.52L265.65,499.40L265.77,472.69L265.90,472.74L266.02,473.20L266.15,473.78L266.27,474.37L266.40,474.95L266.52,475.21L266.65,475.73L266.77,476.25L266.90,476.76L267.02,478.27L267.15,478.90L267.27,479.53L267.40,480.16L267.52,478.08L267.65,478.50L267.77,478.91L267.90,479.33L268.02,481.47L268.15,481.99L268.27,482.51L268.40,483.03L268.52,484.53L268.65,485.10L268.77,485.67L268.90,486.23L269.02,485.13L269.15,485.63L269.27,486.13L269.40,486.63L269.52,482.45L269.65,482.79L269.77,483.13L269.90,483.47L270.02,486.60L270.15,487.03L270.27,487.45L270.40,487.87L270.52,474.46L270.65,474.51L270.77,474.56L270.90,474.60L271.02,474.65L271.15,474.69L271.27,474.74L271.40,474.79L271.52,474.83L271.65,474.88L271.77,474.93L271.90,474.97L272.02,475.02L272.15,475.07L272.27,475.11L272.40,475.16L272.52,475.21L272.65,475.25L272.77,475.30L272.90,475.35L273.02,475.39L273.15,475.44L273.27,475.49L273.40,475.58L273.52,476.16L273.65,476.76L273.77,477.35L273.90,477.94L274.02,477.85L274.15,478.31L274.27,478.77L274.40,479.23L274.52,482.53L274.65,483.30L274.77,484.07L274.90,484.85L275.02,485.18L275.15,485.92L275.27,486.66L275.40,487.40L275.52,488.51L275.65,489.27L275.77,490.03L275.90,490.79L276.02,491.80L276.15,492.57L276.27,493.35L276.40,494.12L276.52,493.74L276.65,494.47L276.77,495.20L276.90,495.92L277.02,488.27L277.15,476.93L277.27,476.98L277.40,477.03L277.52,477.07L277.65,477.12L277.77,477.17L277.90,477.21L278.02,477.26L278.15,477.31L278.27,477.35L278.40,477.40L278.52,477.45L278.65,477.49L278.77,477.54L278.90,477.63L279.02,477.72L279.15,477.82L279.27,478.01L279.40,478.71L279.52,479.43L279.65,480.13L279.77,480.84L279.90,481.55L280.02,481.66L280.15,482.28L280.27,482.89L280.40,483.50L280.52,483.36L280.65,483.89L280.77,484.43L280.90,484.97L281.02,479.27L281.15,479.37L281.27,479.47L281.40,479.56L281.52,479.66L281.65,479.76L281.77,479.85L281.90,479.95L282.02,480.05L282.15,480.15L282.27,480.24L282.40,480.34L282.52,480.44L282.65,481.08L282.77,481.71L282.90,482.35L283.02,482.71L283.15,483.28L283.27,483.85L283.40,484.42L283.52,488.22L283.65,489.20L283.77,490.17L283.90,491.14L284.02,481.60L284.15,481.70L284.27,481.79L284.40,481.89L284.52,481.99L284.65,482.08L284.77,482.18L284.90,482.28L285.02,482.37L285.15,482.47L285.27,482.57L285.40,482.67L285.52,482.76L285.65,482.86L285.77,482.96L285.90,483.05L286.02,483.42L286.15,484.26L286.27,485.10L286.40,485.94L286.52,486.91L286.65,487.79L286.77,488.66L286.90,489.53L287.02,483.93L287.15,484.02L287.27,484.12L287.40,484.22L287.52,484.31L287.65,484.41L287.77,484.51L287.90,484.60L288.02,484.70L288.15,484.80L288.27,484.89L288.40,484.99L288.52,485.09L288.65,485.19L288.77,485.28L288.90,485.38L289.02,485.73L289.15,486.20L289.27,486.66L289.40,487.13L289.52,489.11L289.65,489.90L289.77,490.69L289.90,491.48L290.02,486.25L290.15,486.35L290.27,486.45L290.40,486.54L290.52,486.64L290.65,486.74L290.77,486.83L290.90,486.93L291.02,487.03L291.15,487.12L291.27,487.22L291.40,487.32L291.52,487.41L291.65,487.51L291.77,487.61L291.90,487.71L292.02,487.80L292.15,487.90L292.27,488.00L292.40,488.09L292.52,488.19L292.65,488.29L292.77,488.37L292.90,488.48L293.02,488.51L293.15,488.59L293.27,488.66L293.40,488.73L293.52,488.80L293.65,488.87L293.77,488.95L293.90,489.02L294.02,489.09L294.15,489.16L294.27,489.23L294.40,489.31L294.52,489.38L294.65,489.45L294.77,489.52L294.90,489.59L295.02,489.67L295.15,489.74L295.27,489.81L295.40,489.88L295.52,490.28L295.65,490.71L295.77,491.14L295.90,491.57L296.02,488.38L296.15,479.13L296.27,469.89L296.40,468.04L296.52,468.04L296.65,468.04L296.77,468.05L296.90,468.05L297.02,468.05L297.15,468.05L297.27,468.06L297.40,468.06L297.52,468.06L297.65,468.06L297.77,468.06L297.90,468.07L298.02,468.07L298.15,468.07L298.27,468.07L298.40,468.08L298.52,468.08L298.65,468.08L298.77,468.08L298.90,468.08L299.02,468.09L299.15,468.09L299.27,468.09L299.40,468.09L299.52,468.10L299.65,468.10L299.77,468.10L299.90,468.10L300.02,468.10L300.15,468.11L300.27,468.11L300.40,468.11L300.52,468.11L300.65,468.12L300.77,468.12L300.90,468.12L301.02,468.12L301.15,468.12L301.27,468.13L301.40,468.13L301.52,468.13L301.65,468.13L301.77,468.13L301.90,468.14L302.02,468.14L302.15,468.14L302.27,468.14L302.40,468.15L302.52,468.15L302.65,468.15L302.77,468.15L302.90,468.15L303.02,468.16L303.15,468.16L303.27,468.16L303.40,468.16L303.52,468.17L303.65,468.17L303.77,468.17L303.90,468.17L304.02,468.17L304.15,468.18L304.27,468.18L304.40,468.18L304.52,468.18L304.65,468.19L304.77,468.19L304.90,468.19L305.02,468.19L305.15,468.19L305.27,468.20L305.40,468.20L305.52,468.20L305.65,468.20L305.77,468.21L305.90,468.21L306.02,468.21L306.15,468.21L306.27,468.21L306.40,468.22L306.52,468.22L306.65,468.22L306.77,468.22L306.90,468.23L307.02,468.23L307.15,468.23L307.27,468.23L307.40,468.23L307.52,468.24L307.65,468.24L307.77,468.24L307.90,468.24L308.02,468.25L308.15,468.25L308.27,468.25L308.40,468.25L308.52,468.25L308.65,468.26L308.77,468.26L308.90,468.26L309.02,468.26L309.15,468.27L309.27,468.27L309.40,468.27L309.52,468.27L309.65,468.27L309.77,468.28L309.90,468.28L310.02,468.28L310.15,468.28L310.27,468.29L310.40,468.29L310.52,468.29L310.65,468.29L310.77,468.29L310.90,468.30L311.02,468.30L311.15,468.30L311.27,468.30L311.40,468.31L311.52,468.31L311.65,468.31L311.77,468.31L311.90,468.31L312.02,468.32L312.15,468.32L312.27,468.32L312.40,468.32L312.52,468.33L312.65,468.33L312.77,468.33L312.90,468.33L313.02,468.33L313.15,468.34L313.27,468.34L313.40,468.34L313.52,468.34L313.65,468.35L313.77,468.35L313.90,468.35L314.02,468.35L314.15,468.35L314.27,468.36L314.40,468.36L314.52,468.36L314.65,468.36L314.77,468.37L314.90,468.37L315.02,468.37L315.15,468.37L315.27,468.37L315.40,468.38L315.52,468.38L315.65,468.38L315.77,468.38L315.90,468.39L316.02,468.39L316.15,468.39L316.27,468.39L316.40,468.39L316.52,468.40L316.65,468.40L316.77,468.40L316.90,468.40L317.02,468.41L317.15,468.41L317.27,468.41L317.40,468.41L317.52,468.41L317.65,468.42L317.77,468.42L317.90,468.42L318.02,468.42L318.15,468.42L318.27,468.43L318.40,468.43L318.52,468.43L318.65,468.43L318.77,468.44L318.90,468.44L319.02,468.44L319.15,468.44L319.27,468.44L319.40,468.45L319.52,468.45L319.65,468.45L319.77,468.45L319.90,468.46L320.02,468.46L320.15,468.46L320.27,468.46L320.40,468.46L320.52,468.47L320.65,468.47L320.77,468.47L320.90,468.47L321.02,468.48L321.15,468.48L321.27,468.48L321.40,468.48L321.52,468.48L321.65,468.49L321.77,468.49L321.90,468.49L322.02,468.49L322.15,468.50L322.27,468.50L322.40,468.50L322.52,468.50L322.65,468.50L322.77,468.51L322.90,468.51L323.02,468.51L323.15,468.51L323.27,468.52L323.40,468.52L323.52,468.52L323.65,468.52L323.77,468.52L323.90,468.53L324.02,468.53L324.15,468.53L324.27,468.53L324.40,468.54L324.52,468.54L324.65,468.54L324.77,468.54L324.90,468.54L325.02,468.55L325.15,468.55L325.27,468.55L325.40,468.55L325.52,468.56L325.65,468.56L325.77,468.56L325.90,468.56L326.02,468.56L326.15,468.57L326.27,468.57L326.40,468.57L326.52,468.57L326.65,468.58L326.77,468.58L326.90,468.58L327.02,468.58L327.15,468.58L327.27,468.59L327.40,468.59L327.52,468.59L327.65,468.59L327.77,468.60L327.90,468.60L328.02,468.60L328.15,468.60L328.27,468.60L328.40,468.61L328.52,468.61L328.65,468.61L328.77,468.61L328.90,468.62L329.02,468.62L329.15,468.62L329.27,468.62L329.40,468.62L329.52,468.63L329.65,468.63L329.77,468.63L329.90,468.63L330.02,468.64L330.15,468.64L330.27,468.64L330.40,468.64L330.52,468.64L330.65,468.65L330.77,468.65L330.90,468.65L331.02,468.65L331.15,468.66L331.27,468.66L331.40,468.66L331.52,468.66L331.65,468.66L331.77,468.67L331.90,468.67L332.02,468.67L332.15,468.67L332.27,468.68L332.40,468.68L332.52,468.68L332.65,468.68L332.77,468.68L332.90,468.69L333.02,468.69L333.15,468.69L333.27,468.69L333.40,468.70L333.52,468.70L333.65,468.70L333.77,468.70L333.90,468.70L334.02,468.71L334.15,468.71L334.27,468.71L334.40,468.71L334.52,468.71L334.65,468.72L334.77,468.72L334.90,468.72L335.02,468.72L335.15,468.73L335.27,468.73L335.40,468.73L335.52,468.73L335.65,468.73L335.77,468.74L335.90,468.74L336.02,468.74L336.15,468.74L336.27,468.75L336.40,468.75L336.52,468.75L336.65,468.75L336.77,468.75L336.90,468.76L337.02,468.76L337.15,468.76L337.27,468.76L337.40,468.77L337.52,468.77L337.65,468.77L337.77,468.77L337.90,468.77L338.02,468.78L338.15,468.78L338.27,468.78L338.40,468.78L338.52,468.79L338.65,468.79L338.77,468.79L338.90,468.79L339.02,468.79L339.15,468.80L339.27,468.80L339.40,468.80L339.52,468.80L339.65,468.81L339.77,468.81L339.90,468.81L340.02,468.81L340.15,468.81L340.27,468.82L340.40,468.82L340.52,468.82L340.65,468.82L340.77,468.83L340.90,468.83L341.02,468.83L341.15,468.83L341.27,468.83L341.40,468.84L341.52,468.84L341.65,468.84L341.77,468.84L341.90,468.85L342.02,468.85L342.15,468.85L342.27,468.85L342.40,468.85L342.52,468.86L342.65,468.86L342.77,468.86L342.90,468.86L343.02,468.87L343.15,468.87L343.27,468.87L343.40,468.87L343.52,468.87L343.65,468.88L343.77,468.88L343.90,468.88L344.02,468.88L344.15,468.89L344.27,468.89L344.40,468.89L344.52,468.89L344.65,468.89L344.77,468.90L344.90,468.90L345.02,468.90L345.15,468.90L345.27,468.91L345.40,468.91L345.52,468.91L345.65,468.91L345.77,468.91L345.90,468.92L346.02,468.92L346.15,468.92L346.27,468.92L346.40,468.93L346.52,468.93L346.65,468.93L346.77,468.93L346.90,468.93L347.02,468.94L347.15,468.94L347.27,468.94L347.40,468.94L347.52,468.95L347.65,468.95L347.77,468.95L347.90,468.95L348.02,468.95L348.15,468.96L348.27,468.96L348.40,468.96L348.52,468.96L348.65,468.97L348.77,468.97L348.90,468.97L349.02,468.97L349.15,468.97L349.27,468.98L349.40,468.98L349.52,468.98L349.65,468.98L349.77,468.99L349.90,468.99L350.02,468.99L350.15,469.00L350.27,469.00L350.40,469.01L350.52,469.01L350.65,469.02L350.77,469.02L350.90,469.03L351.02,469.03L351.15,469.04L351.27,469.04L351.40,469.05L351.52,469.05L351.65,469.06L351.77,469.07L351.90,469.07L352.02,469.08L352.15,469.08L352.27,469.09L352.40,469.09L352.52,469.10L352.65,469.10L352.77,469.11L352.90,469.11L353.02,469.12L353.15,469.12L353.27,469.13L353.40,469.14L353.52,469.14L353.65,469.15L353.77,469.15L353.90,469.16L354.02,469.16L354.15,469.17L354.27,469.17L354.40,469.18L354.52,469.18L354.65,469.19L354.77,469.19L354.90,469.20L355.02,469.21L355.15,469.21L355.27,469.22L355.40,469.22L355.52,469.23L355.65,469.23L355.77,469.24L355.90,469.24L356.02,469.25L356.15,469.25L356.27,469.26L356.40,469.26L356.52,469.27L356.65,469.28L356.77,469.28L356.90,469.29L357.02,469.29L357.15,469.30L357.27,469.30L357.40,469.31L357.52,469.31L357.65,469.32L357.77,469.32L357.90,469.33L358.02,469.33L358.15,469.34L358.27,469.35L358.40,469.35L358.52,469.36L358.65,469.36L358.77,469.37L358.90,469.37L359.02,469.38L359.15,469.38L359.27,469.39L359.40,469.39L359.52,469.40L359.65,469.40L359.77,469.41L359.90,469.42L360.02,469.42L360.15,469.43L360.27,469.43L360.40,469.44L360.52,469.44L360.65,469.45L360.77,469.45L360.90,469.46L361.02,469.46L361.15,469.47L361.27,469.47L361.40,469.48L361.52,469.49L361.65,469.49L361.77,469.50L361.90,469.50L362.02,469.51L362.15,469.51L362.27,469.52L362.40,469.52L362.52,469.53L362.65,469.53L362.77,469.54L362.90,469.54L363.02,469.55L363.15,469.56L363.27,469.56L363.40,469.57L363.52,469.57L363.65,469.58L363.77,469.58L363.90,469.59L364.02,469.59L364.15,469.60L364.27,469.60L364.40,469.61L364.52,469.61L364.65,469.62L364.77,469.63L364.90,469.63L365.02,469.64L365.15,469.64L365.27,469.65L365.40,469.65L365.52,469.66L365.65,469.66L365.77,469.67L365.90,469.67L366.02,469.68L366.15,469.68L366.27,469.69L366.40,469.70L366.52,469.70L366.65,469.71L366.77,469.71L366.90,469.72L367.02,469.72L367.15,469.73L367.27,469.73L367.40,469.74L367.52,469.74L367.65,469.75L367.77,469.75L367.90,469.76L368.02,469.76L368.15,469.77L368.27,469.78L368.40,469.78L368.52,469.79L368.65,469.79L368.77,469.80L368.90,469.80L369.02,469.81L369.15,469.81L369.27,469.82L369.40,469.82L369.52,469.83L369.65,469.83L369.77,469.84L369.90,469.85L370.02,469.85L370.15,469.86L370.27,469.86L370.40,469.87L370.52,469.87L370.65,469.88L370.77,469.88L370.90,469.89L371.02,469.89L371.15,469.90L371.27,469.90L371.40,469.91L371.52,469.92L371.65,469.92L371.77,469.93L371.90,469.93L372.02,469.94L372.15,469.94L372.27,469.95L372.40,469.95L372.52,469.96L372.65,469.96L372.77,469.97L372.90,469.97L373.02,469.98L373.15,469.99L373.27,469.99L373.40,470.00L373.52,470.00L373.65,470.01L373.77,470.01L373.90,470.02L374.02,470.02L374.15,470.03L374.27,470.03L374.40,470.04L374.52,470.04L374.65,470.05L374.77,470.06L374.90,470.06L375.02,470.07L375.15,470.07L375.27,470.08L375.40,470.08L375.52,470.09L375.65,470.09L375.77,470.10L375.90,470.10L376.02,470.11L376.15,470.11L376.27,470.12L376.40,470.13L376.52,470.13L376.65,470.14L376.77,470.14L376.90,470.15L377.02,470.15L377.15,470.16L377.27,470.16L377.40,470.17L377.52,470.17L377.65,470.18L377.77,470.18L377.90,470.19L378.02,470.20L378.15,470.20L378.27,470.21L378.40,470.21L378.52,470.22L378.65,470.22L378.77,470.23L378.90,470.23L379.02,470.24L379.15,470.24L379.27,470.25L379.40,470.25L379.52,470.26L379.65,470.27L379.77,470.27L379.90,470.28L380.02,470.28L380.15,470.29L380.27,470.29L380.40,470.30L380.52,470.30L380.65,470.31L380.77,470.31L380.90,470.32L381.02,470.32L381.15,470.33L381.27,470.34L381.40,470.34L381.52,470.35L381.65,470.35L381.77,470.36L381.90,470.36L382.02,470.37L382.15,470.37L382.27,470.38L382.40,470.38L382.52,470.39L382.65,470.39L382.77,470.40L382.90,470.41L383.02,470.41L383.15,470.42L383.27,470.42L383.40,470.43L383.52,470.43L383.65,470.44L383.77,470.44L383.90,470.45L384.02,470.45L384.15,470.46L384.27,470.46L384.40,470.47L384.52,470.48L384.65,470.48L384.77,470.49L384.90,470.49L385.02,470.50L385.15,470.50L385.27,470.51L385.40,470.51L385.52,470.52L385.65,470.52L385.77,470.53L385.90,470.53L386.02,470.54L386.15,470.55L386.27,470.55L386.40,470.56L386.52,470.56L386.65,470.57L386.77,470.57L386.90,470.58L387.02,470.58L387.15,470.59L387.27,470.59L387.40,470.60L387.52,470.60L387.65,470.61L387.77,470.62L387.90,470.62L388.02,470.63L388.15,470.63L388.27,470.64L388.40,470.64L388.52,470.65L388.65,470.65L388.77,470.66L388.90,470.66L389.02,470.67L389.15,470.67L389.27,470.68L389.40,470.69L389.52,470.69L389.65,470.70L389.77,470.70L389.90,470.71L390.02,470.71L390.15,470.72L390.27,470.72L390.40,470.73L390.52,470.73L390.65,470.74L390.77,470.74L390.90,470.75L391.02,470.76L391.15,470.76L391.27,470.77L391.40,470.77L391.52,470.78L391.65,470.78L391.77,470.79L391.90,470.79L392.02,470.80L392.15,470.80L392.27,470.81L392.40,470.81L392.52,470.82L392.65,470.83L392.77,470.83L392.90,470.84L393.02,470.84L393.15,470.85L393.27,470.85L393.40,470.86L393.52,470.86L393.65,470.87L393.77,470.87L393.90,470.88L394.02,470.88L394.15,470.89L394.27,470.90L394.40,470.90L394.52,470.91L394.65,470.91L394.77,470.92L394.90,470.92L395.02,470.93L395.15,470.93L395.27,470.94L395.40,470.94L395.52,470.95L395.65,470.95L395.77,470.96L395.90,470.96L396.02,470.97L396.15,470.98L396.27,470.98L396.40,470.99L396.52,470.99L396.65,471.00L396.77,471.00L396.90,471.01L397.02,471.01L397.15,471.02L397.27,471.02L397.40,471.03L397.52,471.03L397.65,471.04L397.77,471.05L397.90,471.05L398.02,471.06L398.15,471.06L398.27,471.07L398.40,471.07L398.52,471.08L398.65,471.08L398.77,471.09L398.90,471.09L399.02,471.10L399.15,471.10L399.27,471.11L399.40,471.12L399.52,471.12L399.65,471.13L399.77,471.13L399.90,471.14L400.02,471.14L400.15,471.15L400.27,471.15L400.40,471.16L400.52,471.16L400.65,471.17L400.77,471.17L400.90,471.18L401.02,471.19L401.15,471.19L401.27,471.20L401.40,471.20L401.52,471.21L401.65,471.21L401.77,471.22L401.90,471.22L402.02,471.23L402.15,471.23L402.27,471.24L402.40,471.24L402.52,471.25L402.65,471.26L402.77,471.26L402.90,471.27L403.02,471.27L403.15,471.28L403.27,471.28L403.40,471.29L403.52,471.29L403.65,471.30L403.77,471.30L403.90,471.31L404.02,471.31L404.15,471.32L404.27,471.33L404.40,471.33L404.52,471.34L404.65,471.34L404.77,471.35L404.90,471.35L405.02,471.36L405.15,471.36L405.27,471.37L405.40,471.37L405.52,471.38L405.65,471.38L405.77,471.39L405.90,471.40L406.02,471.40L406.15,471.41L406.27,471.41L406.40,471.42L406.52,471.42L406.65,471.43L406.77,471.43L406.90,471.44L407.02,471.44L407.15,471.45L407.27,471.45L407.40,471.46L407.52,471.47L407.65,471.47L407.77,471.48L407.90,471.48L408.02,471.49L408.15,471.49L408.27,471.50L408.40,471.50L408.52,471.51L408.65,471.51L408.77,471.52L408.90,471.52L409.02,471.53L409.15,471.54L409.27,471.54L409.40,471.55L409.52,471.55L409.65,471.56L409.77,471.56L409.90,471.57L410.02,471.57L410.15,471.58L410.27,471.58L410.40,471.59L410.52,471.59L410.65,471.60L410.77,471.61L410.90,471.61L411.02,471.62L411.15,471.62L411.27,471.63L411.40,471.63L411.52,471.64L411.65,471.64L411.77,471.65L411.90,471.65L412.02,471.66L412.15,471.66L412.27,471.67L412.40,471.68L412.52,471.68L412.65,471.69L412.77,471.69L412.90,471.70L413.02,471.70L413.15,471.71L413.27,471.71L413.40,471.72L413.52,471.72L413.65,471.73L413.77,471.73L413.90,471.74L414.02,471.75L414.15,471.75L414.27,471.76L414.40,471.76L414.52,471.77L414.65,471.77L414.77,471.78L414.90,471.78L415.02,471.79L415.15,471.79L415.27,471.80L415.40,471.80L415.52,471.81L415.65,471.82L415.77,471.82L415.90,471.83L416.02,471.83L416.15,471.84L416.27,471.84L416.40,471.85L416.52,471.85L416.65,471.86L416.77,471.86L416.90,471.87L417.02,471.87L417.15,471.88L417.27,471.89L417.40,471.89L417.52,471.90L417.65,471.90L417.77,471.91L417.90,471.91L418.02,471.92L418.15,471.92L418.27,471.93L418.40,471.93L418.52,471.94L418.65,471.94L418.77,471.95L418.90,471.96L419.02,471.96L419.15,471.97L419.27,471.97L419.40,471.98L419.52,471.98L419.65,471.99L419.77,471.99L419.90,472.00L420.02,472.00L420.15,472.01L420.27,472.01L420.40,472.02L420.52,472.03L420.65,472.03L420.77,472.04L420.90,472.04L421.02,472.05L421.15,472.05L421.27,472.06L421.40,472.06L421.52,472.07L421.65,472.07L421.77,472.08L421.90,472.08L422.02,472.09L422.15,472.10L422.27,472.10L422.40,472.11L422.52,472.11L422.65,472.12L422.77,472.12L422.90,472.13L423.02,472.13L423.15,472.14L423.27,472.14L423.40,472.15L423.52,472.15L423.65,472.16L423.77,472.16L423.90,472.17L424.02,472.18L424.15,472.18L424.27,472.19L424.40,472.19L424.52,472.20L424.65,472.20L424.77,472.21L424.90,472.21L425.02,472.22L425.15,472.22L425.27,472.23L425.40,472.23L425.52,472.24L425.65,472.25L425.77,472.25L425.90,472.26L426.02,472.26L426.15,472.27L426.27,472.27L426.40,472.28L426.52,472.28L426.65,472.29L426.77,472.29L426.90,472.30L427.02,472.30L427.15,472.31L427.27,472.32L427.40,472.32L427.52,472.33L427.65,472.33L427.77,472.34L427.90,472.34L428.02,472.35L428.15,472.35L428.27,472.36L428.40,472.36L428.52,472.37L428.65,472.37L428.77,472.38L428.90,472.39L429.02,472.39L429.15,472.40L429.27,472.40L429.40,472.41L429.52,472.41L429.65,472.42L429.77,472.42L429.90,472.43L430.02,472.43L430.15,472.44L430.27,472.44L430.40,472.45L430.52,472.46L430.65,472.46L430.77,472.47L430.90,472.47L431.02,472.48L431.15,472.49L431.27,472.50L431.40,472.52L431.52,472.53L431.65,472.54L431.77,472.55L431.90,472.57L432.02,472.58L432.15,472.59L432.27,472.61L432.40,472.62L432.52,472.63L432.65,472.64L432.77,472.66L432.90,472.67L433.02,472.68L433.15,472.69L433.27,472.71L433.40,472.72L433.52,472.73L433.65,472.74L433.77,472.76L433.90,472.77L434.02,472.78L434.15,472.79L434.27,472.81L434.40,472.82L434.52,472.83L434.65,472.85L434.77,472.86L434.90,472.87L435.02,472.88L435.15,472.90L435.27,472.91L435.40,472.92L435.52,472.93L435.65,472.95L435.77,472.96L435.90,472.97L436.02,472.98L436.15,473.00L436.27,473.01L436.40,473.02L436.52,473.04L436.65,473.05L436.77,473.06L436.90,473.07L437.02,473.09L437.15,473.10L437.27,473.11L437.40,473.12L437.52,473.14L437.65,473.15L437.77,473.16L437.90,473.17L438.02,473.19L438.15,473.20L438.27,473.21L438.40,473.23L438.52,473.24L438.65,473.25L438.77,473.26L438.90,473.28L439.02,473.29L439.15,473.30L439.27,473.31L439.40,473.33L439.52,473.34L439.65,473.35L439.77,473.36L439.90,473.38L440.02,473.39L440.15,473.40L440.27,473.42L440.40,473.43L440.52,473.44L440.65,473.45L440.77,473.47L440.90,473.48L441.02,473.49L441.15,473.50L441.27,473.52L441.40,473.53L441.52,473.54L441.65,473.55L441.77,473.57L441.90,473.58L442.02,473.59L442.15,473.60L442.27,473.62L442.40,473.63L442.52,473.64L442.65,473.66L442.77,473.67L442.90,473.68L443.02,473.69L443.15,473.71L443.27,473.72L443.40,473.73L443.52,473.74L443.65,473.76L443.77,473.77L443.90,473.78L444.02,473.79L444.15,473.81L444.27,473.82L444.40,473.83L444.52,473.85L444.65,473.86L444.77,473.87L444.90,473.88L445.02,473.90L445.15,473.91L445.27,473.92L445.40,473.93L445.52,473.95L445.65,473.96L445.77,473.97L445.90,473.98L446.02,474.00L446.15,474.01L446.27,474.02L446.40,474.04L446.52,474.05L446.65,474.06L446.77,474.07L446.90,474.09L447.02,474.10L447.15,474.11L447.27,474.12L447.40,474.14L447.52,474.15L447.65,474.16L447.77,474.17L447.90,474.19L448.02,474.20L448.15,474.21L448.27,474.23L448.40,474.24L448.52,474.25L448.65,474.26L448.77,474.28L448.90,474.29L449.02,474.30L449.15,474.31L449.27,474.33L449.40,474.34L449.52,474.35L449.65,474.36L449.77,474.38L449.90,474.39L450.02,474.40L450.15,474.41L450.27,474.43L450.40,474.44L450.52,474.45L450.65,474.47L450.77,474.48L450.90,474.49L451.02,474.50L451.15,474.52L451.27,474.53L451.40,474.54L451.52,474.55L451.65,474.57L451.77,474.58L451.90,474.59L452.02,474.60L452.15,474.62L452.27,474.63L452.40,474.64L452.52,474.66L452.65,474.67L452.77,474.68L452.90,474.69L453.02,474.71L453.15,474.72L453.27,474.73L453.40,474.74L453.52,474.76L453.65,474.77L453.77,474.78L453.90,474.79L454.02,474.81L454.15,474.82L454.27,474.83L454.40,474.85L454.52,474.86L454.65,474.87L454.77,474.88L454.90,474.90L455.02,474.91L455.15,474.92L455.27,474.93L455.40,474.95L455.52,474.96L455.65,474.97L455.77,474.98L455.90,475.00L456.02,475.01L456.15,475.02L456.27,475.04L456.40,475.05L456.52,475.06L456.65,475.07L456.77,475.09L456.90,475.10L457.02,475.11L457.15,475.12L457.27,475.14L457.40,475.15L457.52,475.16L457.65,475.17L457.77,475.19L457.90,475.20L458.02,475.21L458.15,475.23L458.27,475.24L458.40,475.25L458.52,475.26L458.65,475.28L458.77,475.29L458.90,475.30L459.02,475.31L459.15,475.33L459.27,475.34L459.40,475.35L459.52,475.36L459.65,475.38L459.77,475.39L459.90,475.40L460.02,475.41L460.15,475.43L460.27,475.44L460.40,475.45L460.52,475.47L460.65,475.48L460.77,475.49L460.90,475.50L461.02,475.52L461.15,475.53L461.27,475.54L461.40,475.55L461.52,475.57L461.65,475.58L461.77,475.59L461.90,475.60L462.02,475.62L462.15,475.63L462.27,475.64L462.40,475.66L462.52,475.67L462.65,475.68L462.77,475.69L462.90,475.71L463.02,475.72L463.15,475.73L463.27,475.74L463.40,475.76L463.52,475.77L463.65,475.78L463.77,475.79L463.90,475.81L464.02,475.82L464.15,475.83L464.27,475.85L464.40,475.86L464.52,475.87L464.65,475.88L464.77,475.90L464.90,475.91L465.02,475.92L465.15,475.93L465.27,475.95L465.40,475.96L465.52,475.97L465.65,475.98L465.77,476.00L465.90,476.01L466.02,476.02L466.15,476.04L466.27,476.05L466.40,476.06L466.52,476.07L466.65,476.09L466.77,476.10L466.90,476.11L467.02,476.12L467.15,476.14L467.27,476.15L467.40,476.16L467.52,476.17L467.65,476.19L467.77,476.20L467.90,476.21L468.02,476.22L468.15,476.24L468.27,476.25L468.40,476.26L468.52,476.28L468.65,476.29L468.77,476.30L468.90,476.31L469.02,476.33L469.15,476.34L469.27,476.35L469.40,476.36L469.52,476.38L469.65,476.39L469.77,476.40L469.90,476.41L470.02,476.43L470.15,476.44L470.27,476.45L470.40,476.47L470.52,476.48L470.65,476.49L470.77,476.50L470.90,476.52L471.02,476.53L471.15,476.54L471.27,476.55L471.40,476.57L471.52,476.58L471.65,476.59L471.77,476.62L471.90,476.67L472.02,476.71L472.15,476.75L472.27,476.79L472.40,476.84L472.52,476.88L472.65,476.92L472.77,476.97L472.90,477.01L473.02,477.05L473.15,477.10L473.27,477.14L473.40,477.18L473.52,477.22L473.65,477.27L473.77,477.31L473.90,477.35L474.02,477.40L474.15,477.44L474.27,477.48L474.40,477.53L474.52,477.57L474.65,477.61L474.77,477.65L474.90,477.70L475.02,477.74L475.15,477.78L475.27,477.83L475.40,477.87L475.52,477.91L475.65,477.95L475.77,478.00L475.90,478.04L476.02,478.08L476.15,478.13L476.27,478.17L476.40,478.21L476.52,478.26L476.65,478.30L476.77,478.34L476.90,478.38L477.02,478.43L477.15,478.47L477.27,478.51L477.40,478.56L477.52,478.60L477.65,478.64L477.77,478.69L477.90,478.73L478.02,478.77L478.15,478.81L478.27,478.86L478.40,478.90L478.52,478.94L478.65,478.99L478.77,479.03L478.90,479.07L479.02,479.11L479.15,479.16L479.27,479.20L479.40,479.24L479.52,479.29L479.65,479.33L479.77,479.37L479.90,479.42L480.02,479.47L480.15,479.58L480.27,479.68L480.40,479.79L480.52,479.89L480.65,480.00L480.77,480.11L480.90,480.21L481.02,480.32L481.15,480.42L481.27,480.53L481.40,480.63L481.52,480.74L481.65,480.84L481.77,480.95L481.90,481.06L482.02,481.16L482.15,481.27L482.27,481.37L482.40,481.48L482.52,481.58L482.65,481.69L482.77,481.80L482.90,481.90L483.02,482.01L483.15,482.11L483.27,482.22L483.40,482.32L483.52,482.43L483.65,482.54L483.77,482.64L483.90,482.75L484.02,482.85L484.15,482.96L484.27,483.06L484.40,483.17L484.52,483.28L484.65,483.38L484.77,483.49L484.90,483.59L485.02,483.70L485.15,483.80L485.27,483.91L485.40,484.01L485.52,484.12L485.65,484.23L485.77,484.33L485.90,484.44L486.02,484.57L486.15,484.79L486.27,485.01L486.40,485.23L486.52,485.45L486.65,485.68L486.77,485.90L486.90,486.12L487.02,486.34L487.15,486.56L487.27,486.79L487.40,487.01L487.52,487.23L487.65,487.45L487.77,487.67L487.90,487.89L488.02,488.12L488.15,488.34L488.27,488.56L488.40,488.78L488.40,463.60Z" fill="#4a6286"/>
<rect x="61.60" y="426.40" width="9.30" height="43.60" fill="none" stroke="#a3a3a3" stroke-width="1.1" />
<line x1="64.40" y1="396.40" x2="64.40" y2="527.40" stroke="#231f20" stroke-width="1.2" />
<line x1="63.80" y1="527.10" x2="492.40" y2="527.10" stroke="#231f20" stroke-width="1.2" />
<line x1="64.40" y1="463.60" x2="493.60" y2="463.60" stroke="#222" stroke-width="1.0" />
<line x1="60.40" y1="399.70" x2="64.40" y2="399.70" stroke="#231f20" stroke-width="1.0" />
<text x="57.00" y="402.50" font-size="7.6" text-anchor="end" fill="#231f20" textLength="11.10" lengthAdjust="spacingAndGlyphs" >100</text>
<line x1="60.40" y1="432.00" x2="64.40" y2="432.00" stroke="#231f20" stroke-width="1.0" />
<text x="57.00" y="434.80" font-size="7.6" text-anchor="end" fill="#231f20" textLength="7.40" lengthAdjust="spacingAndGlyphs" >50</text>
<line x1="60.40" y1="463.80" x2="64.40" y2="463.80" stroke="#231f20" stroke-width="1.0" />
<text x="57.00" y="466.60" font-size="7.6" text-anchor="end" fill="#231f20" textLength="3.70" lengthAdjust="spacingAndGlyphs" >0</text>
<line x1="60.40" y1="495.50" x2="64.40" y2="495.50" stroke="#231f20" stroke-width="1.0" />
<text x="57.00" y="498.30" font-size="7.6" text-anchor="end" fill="#231f20" textLength="7.40" lengthAdjust="spacingAndGlyphs" >50</text>
<line x1="60.40" y1="527.10" x2="64.40" y2="527.10" stroke="#231f20" stroke-width="1.0" />
<text x="57.00" y="529.90" font-size="7.6" text-anchor="end" fill="#231f20" textLength="11.10" lengthAdjust="spacingAndGlyphs" >100</text>
<text x="25.00" y="462.40" font-size="10.2" text-anchor="middle" fill="#231f20" textLength="58.00" lengthAdjust="spacingAndGlyphs" transform="rotate(-90 25.00 462.40)" >Frequency of</text>
<text x="37.70" y="462.40" font-size="10.2" text-anchor="middle" fill="#231f20" textLength="106.00" lengthAdjust="spacingAndGlyphs" transform="rotate(-90 37.70 462.40)" >positive ligandomes [%]</text>
<text x="215.90" y="537.20" font-size="7.6" text-anchor="start" fill="#231f20" textLength="126.00" lengthAdjust="spacingAndGlyphs" >HLA class II source proteins (n = 1 782)</text>
<rect x="391.10" y="501.90" width="7.80" height="6.90" fill="#a13848" />
<rect x="391.10" y="514.40" width="7.80" height="6.60" fill="#4a6286" />
<text x="402.40" y="507.60" font-size="6.2" text-anchor="start" fill="#231f20" textLength="35.30" lengthAdjust="spacingAndGlyphs" >CML (n = 20)</text>
<text x="402.40" y="520.30" font-size="6.2" text-anchor="start" fill="#231f20" textLength="84.20" lengthAdjust="spacingAndGlyphs" >hematological benign (n = 88)</text>
<rect x="345.4" y="394.6" width="50.4" height="63.9" fill="#fff" stroke="#8c8c8c" stroke-width="1.2" stroke-dasharray="3.2 2.3"/>
<path d="M361.2,452.6 L361.2,408 L366,408 L366,416.9 L368.5,416.9 L368.5,425.7 L370,425.7 L370,434.2 L387,434.2 L387,452.6 Z" fill="#a13848"/>
<line x1="361.20" y1="399.20" x2="361.20" y2="453.00" stroke="#231f20" stroke-width="0.9" />
<line x1="360.80" y1="452.60" x2="387.00" y2="452.60" stroke="#231f20" stroke-width="1.0" />
<line x1="357.00" y1="408.00" x2="361.20" y2="408.00" stroke="#231f20" stroke-width="0.9" />
<text x="355.40" y="410.20" font-size="6.4" text-anchor="end" fill="#231f20" textLength="6.60" lengthAdjust="spacingAndGlyphs" >25</text>
<line x1="357.00" y1="452.60" x2="361.20" y2="452.60" stroke="#231f20" stroke-width="0.9" />
<text x="355.40" y="454.80" font-size="6.4" text-anchor="end" fill="#231f20" textLength="3.30" lengthAdjust="spacingAndGlyphs" >0</text>
<polygon points="191.9,570.4 334.7,553.5 334.7,670.8 191.9,626.5" fill="#cac5c8"/>
<line x1="191.90" y1="570.40" x2="334.70" y2="553.50" stroke="#999" stroke-width="1.0" stroke-dasharray="3.2 2.3"/>
<line x1="191.90" y1="626.50" x2="334.70" y2="670.80" stroke="#999" stroke-width="1.0" stroke-dasharray="3.2 2.3"/>
<path d="M76.8,622.7 L76.8,613.5 L78.5,613.5 L78.5,586.9 L93,586.9 L93,622.7 Z" fill="#a13848"/>
<path d="M172.9,622.7 L172.9,587.7 L173.9,587.7 L173.9,578 L185,578 L185,587.7 L187.1,587.7 L187.1,622.7 Z" fill="#a13848"/>
<rect x="209.20" y="613.70" width="23.60" height="9.00" fill="#a13848" />
<rect x="274.00" y="613.70" width="12.00" height="9.00" fill="#a13848" />
<path d="M76.8,622.7 L76.8,634 L78.5,634 L78.5,676.5 L93,676.5 L93,622.7 Z" fill="#4a6286"/>
<path d="M119.3,622.7 L119.3,634 L121.8,634 L121.8,644.7 L140.9,644.7 L140.9,622.7 Z" fill="#4a6286"/>
<rect x="216.80" y="622.70" width="19.40" height="21.40" fill="#4a6286" />
<rect x="168.40" y="570.40" width="23.50" height="56.10" fill="none" stroke="#8f8f8f" stroke-width="1.0" />
<line x1="64.60" y1="564.30" x2="64.60" y2="680.80" stroke="#231f20" stroke-width="1.2" />
<line x1="64.00" y1="680.20" x2="309.20" y2="680.20" stroke="#231f20" stroke-width="1.2" />
<line x1="64.60" y1="622.70" x2="309.60" y2="622.70" stroke="#222" stroke-width="1.0" />
<line x1="60.60" y1="574.20" x2="64.60" y2="574.20" stroke="#231f20" stroke-width="1.0" />
<text x="57.20" y="577.10" font-size="7.7" text-anchor="end" fill="#231f20" textLength="7.60" lengthAdjust="spacingAndGlyphs" >50</text>
<line x1="60.60" y1="598.50" x2="64.60" y2="598.50" stroke="#231f20" stroke-width="1.0" />
<text x="57.20" y="601.40" font-size="7.7" text-anchor="end" fill="#231f20" textLength="7.60" lengthAdjust="spacingAndGlyphs" >25</text>
<line x1="60.60" y1="622.50" x2="64.60" y2="622.50" stroke="#231f20" stroke-width="1.0" />
<text x="57.20" y="625.40" font-size="7.7" text-anchor="end" fill="#231f20" textLength="3.80" lengthAdjust="spacingAndGlyphs" >0</text>
<line x1="60.60" y1="646.90" x2="64.60" y2="646.90" stroke="#231f20" stroke-width="1.0" />
<text x="57.20" y="649.80" font-size="7.7" text-anchor="end" fill="#231f20" textLength="7.60" lengthAdjust="spacingAndGlyphs" >25</text>
<line x1="60.60" y1="670.50" x2="64.60" y2="670.50" stroke="#231f20" stroke-width="1.0" />
<text x="57.20" y="673.40" font-size="7.7" text-anchor="end" fill="#231f20" textLength="7.60" lengthAdjust="spacingAndGlyphs" >50</text>
<line x1="119.25" y1="680.20" x2="119.25" y2="684.00" stroke="#231f20" stroke-width="1.0" />
<text x="119.25" y="694.50" font-size="7.4" text-anchor="middle" fill="#231f20" textLength="6.80" lengthAdjust="spacingAndGlyphs" >50</text>
<line x1="174.50" y1="680.20" x2="174.50" y2="684.00" stroke="#231f20" stroke-width="1.0" />
<text x="174.50" y="694.50" font-size="7.4" text-anchor="middle" fill="#231f20" textLength="10.20" lengthAdjust="spacingAndGlyphs" >100</text>
<line x1="229.75" y1="680.20" x2="229.75" y2="684.00" stroke="#231f20" stroke-width="1.0" />
<text x="229.75" y="694.50" font-size="7.4" text-anchor="middle" fill="#231f20" textLength="10.20" lengthAdjust="spacingAndGlyphs" >150</text>
<line x1="285.00" y1="680.20" x2="285.00" y2="684.00" stroke="#231f20" stroke-width="1.0" />
<text x="285.00" y="694.50" font-size="7.4" text-anchor="middle" fill="#231f20" textLength="10.20" lengthAdjust="spacingAndGlyphs" >200</text>
<text x="187.20" y="709.50" font-size="10.4" text-anchor="middle" fill="#231f20" textLength="82.00" lengthAdjust="spacingAndGlyphs" >Sequence position</text>
<text x="42.20" y="625.60" font-size="10.2" text-anchor="middle" fill="#231f20" textLength="86.60" lengthAdjust="spacingAndGlyphs" transform="rotate(-90 42.20 625.60)" >Frequency of aa [%]</text>
<rect x="177.00" y="655.80" width="7.30" height="6.90" fill="#a13848" />
<rect x="177.00" y="668.50" width="7.30" height="6.90" fill="#4a6286" />
<text x="188.00" y="661.50" font-size="6.2" text-anchor="start" fill="#231f20" textLength="18.90" lengthAdjust="spacingAndGlyphs" >CML (n</text>
<text x="207.40" y="663.60" font-size="4.2" text-anchor="start" fill="#231f20" textLength="9.90" lengthAdjust="spacingAndGlyphs" >pep</text>
<text x="218.90" y="661.50" font-size="6.2" text-anchor="start" fill="#231f20" textLength="13.40" lengthAdjust="spacingAndGlyphs" >= 11)</text>
<text x="188.00" y="674.20" font-size="6.2" text-anchor="start" fill="#231f20" textLength="63.90" lengthAdjust="spacingAndGlyphs" >hematological benign (n</text>
<text x="252.60" y="676.30" font-size="4.2" text-anchor="start" fill="#231f20" textLength="9.70" lengthAdjust="spacingAndGlyphs" >pep</text>
<text x="264.20" y="674.20" font-size="6.2" text-anchor="start" fill="#231f20" textLength="13.10" lengthAdjust="spacingAndGlyphs" >= 9)</text>
<rect x="334.7" y="553.5" width="126" height="117.7" fill="#fff" stroke="#8c8c8c" stroke-width="1.2" stroke-dasharray="3.2 2.3"/>
<path d="M375.8,649.6 L375.8,597.2 L380.4,597.2 L380.4,584.5 L421.2,584.5 L421.2,597.2 L430.5,597.2 L430.5,649.6 Z" fill="#a13848"/>
<line x1="356.20" y1="563.80" x2="356.20" y2="650.20" stroke="#231f20" stroke-width="1.0" />
<line x1="355.70" y1="649.60" x2="454.70" y2="649.60" stroke="#231f20" stroke-width="1.0" />
<line x1="351.80" y1="578.50" x2="356.20" y2="578.50" stroke="#231f20" stroke-width="0.9" />
<text x="349.60" y="580.80" font-size="6.6" text-anchor="end" fill="#231f20" textLength="7.20" lengthAdjust="spacingAndGlyphs" >50</text>
<line x1="351.80" y1="614.30" x2="356.20" y2="614.30" stroke="#231f20" stroke-width="0.9" />
<text x="349.60" y="616.60" font-size="6.6" text-anchor="end" fill="#231f20" textLength="7.20" lengthAdjust="spacingAndGlyphs" >25</text>
<line x1="351.80" y1="649.60" x2="356.20" y2="649.60" stroke="#231f20" stroke-width="0.9" />
<text x="349.60" y="651.90" font-size="6.6" text-anchor="end" fill="#231f20" textLength="3.60" lengthAdjust="spacingAndGlyphs" >0</text>
<line x1="356.60" y1="649.60" x2="356.60" y2="652.60" stroke="#231f20" stroke-width="0.8" />
<text x="356.60" y="662.50" font-size="6.0" text-anchor="middle" fill="#231f20" >F</text>
<line x1="361.06" y1="649.60" x2="361.06" y2="652.60" stroke="#231f20" stroke-width="0.8" />
<text x="361.06" y="662.50" font-size="6.0" text-anchor="middle" fill="#231f20" >L</text>
<line x1="365.52" y1="649.60" x2="365.52" y2="652.60" stroke="#231f20" stroke-width="0.8" />
<text x="365.52" y="662.50" font-size="6.0" text-anchor="middle" fill="#231f20" >L</text>
<line x1="369.98" y1="649.60" x2="369.98" y2="652.60" stroke="#231f20" stroke-width="0.8" />
<text x="369.98" y="662.50" font-size="6.0" text-anchor="middle" fill="#231f20" >L</text>
<line x1="374.44" y1="649.60" x2="374.44" y2="652.60" stroke="#231f20" stroke-width="0.8" />
<text x="374.44" y="662.50" font-size="6.0" text-anchor="middle" fill="#231f20" >F</text>
<line x1="378.90" y1="649.60" x2="378.90" y2="652.60" stroke="#231f20" stroke-width="0.8" />
<text x="378.90" y="662.50" font-size="6.0" text-anchor="middle" fill="#231f20" >D</text>
<line x1="383.36" y1="649.60" x2="383.36" y2="652.60" stroke="#231f20" stroke-width="0.8" />
<text x="383.36" y="662.50" font-size="6.0" text-anchor="middle" fill="#231f20" >L</text>
<line x1="387.82" y1="649.60" x2="387.82" y2="652.60" stroke="#231f20" stroke-width="0.8" />
<text x="387.82" y="662.50" font-size="6.0" text-anchor="middle" fill="#231f20" >T</text>
<line x1="392.28" y1="649.60" x2="392.28" y2="652.60" stroke="#231f20" stroke-width="0.8" />
<text x="392.28" y="662.50" font-size="6.0" text-anchor="middle" fill="#231f20" >N</text>
<line x1="396.74" y1="649.60" x2="396.74" y2="652.60" stroke="#231f20" stroke-width="0.8" />
<text x="396.74" y="662.50" font-size="6.0" text-anchor="middle" fill="#231f20" >E</text>
<line x1="401.20" y1="649.60" x2="401.20" y2="652.60" stroke="#231f20" stroke-width="0.8" />
<text x="401.20" y="662.50" font-size="6.0" text-anchor="middle" fill="#231f20" >Q</text>
<line x1="405.66" y1="649.60" x2="405.66" y2="652.60" stroke="#231f20" stroke-width="0.8" />
<text x="405.66" y="662.50" font-size="6.0" text-anchor="middle" fill="#231f20" >S</text>
<line x1="410.12" y1="649.60" x2="410.12" y2="652.60" stroke="#231f20" stroke-width="0.8" />
<text x="410.12" y="662.50" font-size="6.0" text-anchor="middle" fill="#231f20" >F</text>
<line x1="414.58" y1="649.60" x2="414.58" y2="652.60" stroke="#231f20" stroke-width="0.8" />
<text x="414.58" y="662.50" font-size="6.0" text-anchor="middle" fill="#231f20" >L</text>
<line x1="419.04" y1="649.60" x2="419.04" y2="652.60" stroke="#231f20" stroke-width="0.8" />
<text x="419.04" y="662.50" font-size="6.0" text-anchor="middle" fill="#231f20" >N</text>
<line x1="423.50" y1="649.60" x2="423.50" y2="652.60" stroke="#231f20" stroke-width="0.8" />
<text x="423.50" y="662.50" font-size="6.0" text-anchor="middle" fill="#231f20" >V</text>
<line x1="427.96" y1="649.60" x2="427.96" y2="652.60" stroke="#231f20" stroke-width="0.8" />
<text x="427.96" y="662.50" font-size="6.0" text-anchor="middle" fill="#231f20" >R</text>
<line x1="432.42" y1="649.60" x2="432.42" y2="652.60" stroke="#231f20" stroke-width="0.8" />
<text x="432.42" y="662.50" font-size="6.0" text-anchor="middle" fill="#231f20" >N</text>
<line x1="436.88" y1="649.60" x2="436.88" y2="652.60" stroke="#231f20" stroke-width="0.8" />
<text x="436.88" y="662.50" font-size="6.0" text-anchor="middle" fill="#231f20" >W</text>
<line x1="441.34" y1="649.60" x2="441.34" y2="652.60" stroke="#231f20" stroke-width="0.8" />
<text x="441.34" y="662.50" font-size="6.0" text-anchor="middle" fill="#231f20" >I</text>
<line x1="445.80" y1="649.60" x2="445.80" y2="652.60" stroke="#231f20" stroke-width="0.8" />
<text x="445.80" y="662.50" font-size="6.0" text-anchor="middle" fill="#231f20" >S</text>
<line x1="64.40" y1="735.40" x2="64.40" y2="832.10" stroke="#231f20" stroke-width="1.2" />
<line x1="63.80" y1="831.50" x2="463.50" y2="831.50" stroke="#231f20" stroke-width="1.2" />
<line x1="60.40" y1="743.70" x2="64.40" y2="743.70" stroke="#231f20" stroke-width="1.0" />
<text x="57.10" y="746.70" font-size="7.7" text-anchor="end" fill="#231f20" textLength="7.60" lengthAdjust="spacingAndGlyphs" >20</text>
<line x1="60.40" y1="765.80" x2="64.40" y2="765.80" stroke="#231f20" stroke-width="1.0" />
<text x="57.10" y="768.80" font-size="7.7" text-anchor="end" fill="#231f20" textLength="7.60" lengthAdjust="spacingAndGlyphs" >15</text>
<line x1="60.40" y1="787.70" x2="64.40" y2="787.70" stroke="#231f20" stroke-width="1.0" />
<text x="57.10" y="790.70" font-size="7.7" text-anchor="end" fill="#231f20" textLength="7.60" lengthAdjust="spacingAndGlyphs" >10</text>
<line x1="60.40" y1="809.80" x2="64.40" y2="809.80" stroke="#231f20" stroke-width="1.0" />
<text x="57.10" y="812.80" font-size="7.7" text-anchor="end" fill="#231f20" textLength="3.80" lengthAdjust="spacingAndGlyphs" >5</text>
<line x1="60.40" y1="831.50" x2="64.40" y2="831.50" stroke="#231f20" stroke-width="1.0" />
<text x="57.10" y="834.50" font-size="7.7" text-anchor="end" fill="#231f20" textLength="3.80" lengthAdjust="spacingAndGlyphs" >0</text>
<text x="41.50" y="783.50" font-size="10.2" text-anchor="middle" fill="#231f20" textLength="64.00" lengthAdjust="spacingAndGlyphs" transform="rotate(-90 41.50 783.50)" >Frequency [%]</text>
<text x="262.90" y="857.30" font-size="9.8" text-anchor="middle" fill="#231f20" textLength="176.60" lengthAdjust="spacingAndGlyphs" >Peptide length [number of amino acids]</text>
<rect x="69.00" y="818.71" width="2.20" height="12.79" fill="#9f2a3b" />
<rect x="72.33" y="809.60" width="2.20" height="21.90" fill="#9f2a3b" />
<rect x="75.66" y="796.90" width="2.20" height="34.60" fill="#9f2a3b" />
<rect x="78.99" y="792.30" width="2.20" height="39.20" fill="#9f2a3b" />
<rect x="82.32" y="792.30" width="2.20" height="39.20" fill="#9f2a3b" />
<rect x="85.65" y="791.77" width="2.20" height="39.73" fill="#9f2a3b" />
<rect x="88.98" y="788.71" width="2.20" height="42.79" fill="#9f2a3b" />
<rect x="92.31" y="787.70" width="2.20" height="43.80" fill="#9f2a3b" />
<rect x="95.64" y="794.09" width="2.20" height="37.41" fill="#9f2a3b" />
<rect x="98.97" y="803.12" width="2.20" height="28.38" fill="#9f2a3b" />
<rect x="102.30" y="808.90" width="2.20" height="22.60" fill="#9f2a3b" />
<rect x="105.63" y="814.94" width="2.20" height="16.56" fill="#9f2a3b" />
<rect x="108.96" y="814.94" width="2.20" height="16.56" fill="#9f2a3b" />
<rect x="112.29" y="820.33" width="2.20" height="11.17" fill="#9f2a3b" />
<rect x="115.62" y="823.00" width="2.20" height="8.50" fill="#9f2a3b" />
<rect x="118.95" y="825.06" width="2.20" height="6.44" fill="#9f2a3b" />
<rect x="122.28" y="823.70" width="2.20" height="7.80" fill="#9f2a3b" />
<rect x="125.61" y="824.10" width="2.20" height="7.40" fill="#9f2a3b" />
<text x="86.70" y="741.60" font-size="7.0" text-anchor="start" fill="#231f20" textLength="15.10" lengthAdjust="spacingAndGlyphs" >CML</text>
<text x="70.10" y="842.80" font-size="7.5" text-anchor="middle" fill="#231f20" textLength="3.50" lengthAdjust="spacingAndGlyphs" >8</text>
<text x="83.42" y="842.80" font-size="7.5" text-anchor="middle" fill="#231f20" textLength="7.00" lengthAdjust="spacingAndGlyphs" >12</text>
<text x="96.74" y="842.80" font-size="7.5" text-anchor="middle" fill="#231f20" textLength="7.00" lengthAdjust="spacingAndGlyphs" >16</text>
<text x="110.06" y="842.80" font-size="7.5" text-anchor="middle" fill="#231f20" textLength="7.00" lengthAdjust="spacingAndGlyphs" >20</text>
<text x="123.38" y="842.80" font-size="7.5" text-anchor="middle" fill="#231f20" textLength="7.00" lengthAdjust="spacingAndGlyphs" >24</text>
<rect x="135.10" y="815.08" width="2.20" height="16.43" fill="#b9cce3" />
<rect x="138.43" y="802.59" width="2.20" height="28.91" fill="#b9cce3" />
<rect x="141.76" y="800.40" width="2.20" height="31.10" fill="#b9cce3" />
<rect x="145.09" y="798.21" width="2.20" height="33.29" fill="#b9cce3" />
<rect x="148.42" y="799.09" width="2.20" height="32.41" fill="#b9cce3" />
<rect x="151.75" y="799.09" width="2.20" height="32.41" fill="#b9cce3" />
<rect x="155.08" y="799.75" width="2.20" height="31.75" fill="#b9cce3" />
<rect x="158.41" y="799.09" width="2.20" height="32.41" fill="#b9cce3" />
<rect x="161.74" y="802.59" width="2.20" height="28.91" fill="#b9cce3" />
<rect x="165.07" y="807.41" width="2.20" height="24.09" fill="#b9cce3" />
<rect x="168.40" y="806.53" width="2.20" height="24.97" fill="#b9cce3" />
<rect x="171.73" y="810.04" width="2.20" height="21.46" fill="#b9cce3" />
<rect x="175.06" y="810.04" width="2.20" height="21.46" fill="#b9cce3" />
<rect x="178.39" y="814.42" width="2.20" height="17.08" fill="#b9cce3" />
<rect x="181.72" y="816.61" width="2.20" height="14.89" fill="#b9cce3" />
<rect x="185.05" y="817.92" width="2.20" height="13.58" fill="#b9cce3" />
<rect x="188.38" y="817.05" width="2.20" height="14.45" fill="#b9cce3" />
<rect x="191.71" y="818.58" width="2.20" height="12.92" fill="#b9cce3" />
<text x="140.80" y="741.60" font-size="7.0" text-anchor="start" fill="#231f20" textLength="43.90" lengthAdjust="spacingAndGlyphs" >Granulocytes</text>
<text x="136.20" y="842.80" font-size="7.5" text-anchor="middle" fill="#231f20" textLength="3.50" lengthAdjust="spacingAndGlyphs" >8</text>
<text x="149.52" y="842.80" font-size="7.5" text-anchor="middle" fill="#231f20" textLength="7.00" lengthAdjust="spacingAndGlyphs" >12</text>
<text x="162.84" y="842.80" font-size="7.5" text-anchor="middle" fill="#231f20" textLength="7.00" lengthAdjust="spacingAndGlyphs" >16</text>
<text x="176.16" y="842.80" font-size="7.5" text-anchor="middle" fill="#231f20" textLength="7.00" lengthAdjust="spacingAndGlyphs" >20</text>
<text x="189.48" y="842.80" font-size="7.5" text-anchor="middle" fill="#231f20" textLength="7.00" lengthAdjust="spacingAndGlyphs" >24</text>
<rect x="201.20" y="828.00" width="2.20" height="3.50" fill="#4f8bc7" />
<rect x="204.53" y="822.08" width="2.20" height="9.42" fill="#4f8bc7" />
<rect x="207.86" y="821.43" width="2.20" height="10.07" fill="#4f8bc7" />
<rect x="211.19" y="820.11" width="2.20" height="11.39" fill="#4f8bc7" />
<rect x="214.52" y="811.79" width="2.20" height="19.71" fill="#4f8bc7" />
<rect x="217.85" y="794.27" width="2.20" height="37.23" fill="#4f8bc7" />
<rect x="221.18" y="768.43" width="2.20" height="63.07" fill="#4f8bc7" />
<rect x="224.51" y="758.35" width="2.20" height="73.15" fill="#4f8bc7" />
<rect x="227.84" y="771.93" width="2.20" height="59.57" fill="#4f8bc7" />
<rect x="231.17" y="791.64" width="2.20" height="39.86" fill="#4f8bc7" />
<rect x="234.50" y="806.53" width="2.20" height="24.97" fill="#4f8bc7" />
<rect x="237.83" y="815.73" width="2.20" height="15.77" fill="#4f8bc7" />
<rect x="241.16" y="817.05" width="2.20" height="14.45" fill="#4f8bc7" />
<rect x="244.49" y="819.24" width="2.20" height="12.26" fill="#4f8bc7" />
<rect x="247.82" y="821.86" width="2.20" height="9.64" fill="#4f8bc7" />
<rect x="251.15" y="822.08" width="2.20" height="9.42" fill="#4f8bc7" />
<rect x="254.48" y="822.08" width="2.20" height="9.42" fill="#4f8bc7" />
<rect x="257.81" y="822.74" width="2.20" height="8.76" fill="#4f8bc7" />
<text x="221.50" y="741.60" font-size="7.0" text-anchor="start" fill="#231f20" textLength="22.40" lengthAdjust="spacingAndGlyphs" >PBMCs</text>
<text x="202.30" y="842.80" font-size="7.5" text-anchor="middle" fill="#231f20" textLength="3.50" lengthAdjust="spacingAndGlyphs" >8</text>
<text x="215.62" y="842.80" font-size="7.5" text-anchor="middle" fill="#231f20" textLength="7.00" lengthAdjust="spacingAndGlyphs" >12</text>
<text x="228.94" y="842.80" font-size="7.5" text-anchor="middle" fill="#231f20" textLength="7.00" lengthAdjust="spacingAndGlyphs" >16</text>
<text x="242.26" y="842.80" font-size="7.5" text-anchor="middle" fill="#231f20" textLength="7.00" lengthAdjust="spacingAndGlyphs" >20</text>
<text x="255.58" y="842.80" font-size="7.5" text-anchor="middle" fill="#231f20" textLength="7.00" lengthAdjust="spacingAndGlyphs" >24</text>
<rect x="267.30" y="830.62" width="2.20" height="0.88" fill="#9ea3c6" />
<rect x="270.63" y="826.24" width="2.20" height="5.26" fill="#9ea3c6" />
<rect x="273.96" y="828.00" width="2.20" height="3.50" fill="#9ea3c6" />
<rect x="277.29" y="824.05" width="2.20" height="7.45" fill="#9ea3c6" />
<rect x="280.62" y="817.92" width="2.20" height="13.58" fill="#9ea3c6" />
<rect x="283.95" y="791.64" width="2.20" height="39.86" fill="#9ea3c6" />
<rect x="287.28" y="759.23" width="2.20" height="72.27" fill="#9ea3c6" />
<rect x="290.61" y="746.53" width="2.20" height="84.97" fill="#9ea3c6" />
<rect x="293.94" y="760.54" width="2.20" height="70.96" fill="#9ea3c6" />
<rect x="297.27" y="785.73" width="2.20" height="45.77" fill="#9ea3c6" />
<rect x="300.60" y="803.91" width="2.20" height="27.59" fill="#9ea3c6" />
<rect x="303.93" y="814.42" width="2.20" height="17.08" fill="#9ea3c6" />
<rect x="307.26" y="819.89" width="2.20" height="11.61" fill="#9ea3c6" />
<rect x="310.59" y="822.08" width="2.20" height="9.42" fill="#9ea3c6" />
<rect x="313.92" y="825.81" width="2.20" height="5.69" fill="#9ea3c6" />
<rect x="317.25" y="825.81" width="2.20" height="5.69" fill="#9ea3c6" />
<rect x="320.58" y="827.12" width="2.20" height="4.38" fill="#9ea3c6" />
<rect x="323.91" y="826.68" width="2.20" height="4.82" fill="#9ea3c6" />
<text x="288.70" y="741.60" font-size="7.0" text-anchor="start" fill="#231f20" textLength="21.00" lengthAdjust="spacingAndGlyphs" >B cells</text>
<text x="268.40" y="842.80" font-size="7.5" text-anchor="middle" fill="#231f20" textLength="3.50" lengthAdjust="spacingAndGlyphs" >8</text>
<text x="281.72" y="842.80" font-size="7.5" text-anchor="middle" fill="#231f20" textLength="7.00" lengthAdjust="spacingAndGlyphs" >12</text>
<text x="295.04" y="842.80" font-size="7.5" text-anchor="middle" fill="#231f20" textLength="7.00" lengthAdjust="spacingAndGlyphs" >16</text>
<text x="308.36" y="842.80" font-size="7.5" text-anchor="middle" fill="#231f20" textLength="7.00" lengthAdjust="spacingAndGlyphs" >20</text>
<text x="321.68" y="842.80" font-size="7.5" text-anchor="middle" fill="#231f20" textLength="7.00" lengthAdjust="spacingAndGlyphs" >24</text>
<rect x="333.40" y="825.37" width="2.20" height="6.13" fill="#5d6c98" />
<rect x="336.73" y="820.77" width="2.20" height="10.73" fill="#5d6c98" />
<rect x="340.06" y="815.08" width="2.20" height="16.43" fill="#5d6c98" />
<rect x="343.39" y="811.79" width="2.20" height="19.71" fill="#5d6c98" />
<rect x="346.72" y="807.85" width="2.20" height="23.65" fill="#5d6c98" />
<rect x="350.05" y="804.56" width="2.20" height="26.94" fill="#5d6c98" />
<rect x="353.38" y="799.09" width="2.20" height="32.41" fill="#5d6c98" />
<rect x="356.71" y="789.89" width="2.20" height="41.61" fill="#5d6c98" />
<rect x="360.04" y="788.14" width="2.20" height="43.36" fill="#5d6c98" />
<rect x="363.37" y="791.64" width="2.20" height="39.86" fill="#5d6c98" />
<rect x="366.70" y="799.09" width="2.20" height="32.41" fill="#5d6c98" />
<rect x="370.03" y="806.10" width="2.20" height="25.40" fill="#5d6c98" />
<rect x="373.36" y="806.97" width="2.20" height="24.53" fill="#5d6c98" />
<rect x="376.69" y="809.16" width="2.20" height="22.34" fill="#5d6c98" />
<rect x="380.02" y="813.10" width="2.20" height="18.40" fill="#5d6c98" />
<rect x="383.35" y="813.98" width="2.20" height="17.52" fill="#5d6c98" />
<rect x="386.68" y="816.61" width="2.20" height="14.89" fill="#5d6c98" />
<rect x="390.01" y="816.61" width="2.20" height="14.89" fill="#5d6c98" />
<text x="357.00" y="741.60" font-size="7.0" text-anchor="start" fill="#231f20" textLength="10.90" lengthAdjust="spacingAndGlyphs" >BM</text>
<text x="334.50" y="842.80" font-size="7.5" text-anchor="middle" fill="#231f20" textLength="3.50" lengthAdjust="spacingAndGlyphs" >8</text>
<text x="347.82" y="842.80" font-size="7.5" text-anchor="middle" fill="#231f20" textLength="7.00" lengthAdjust="spacingAndGlyphs" >12</text>
<text x="361.14" y="842.80" font-size="7.5" text-anchor="middle" fill="#231f20" textLength="7.00" lengthAdjust="spacingAndGlyphs" >16</text>
<text x="374.46" y="842.80" font-size="7.5" text-anchor="middle" fill="#231f20" textLength="7.00" lengthAdjust="spacingAndGlyphs" >20</text>
<text x="387.78" y="842.80" font-size="7.5" text-anchor="middle" fill="#231f20" textLength="7.00" lengthAdjust="spacingAndGlyphs" >24</text>
<rect x="402.83" y="829.31" width="2.20" height="2.19" fill="#3c5884" />
<rect x="406.16" y="830.19" width="2.20" height="1.31" fill="#3c5884" />
<rect x="409.49" y="828.87" width="2.20" height="2.63" fill="#3c5884" />
<rect x="412.82" y="823.40" width="2.20" height="8.10" fill="#3c5884" />
<rect x="416.15" y="808.29" width="2.20" height="23.21" fill="#3c5884" />
<rect x="419.48" y="783.76" width="2.20" height="47.74" fill="#3c5884" />
<rect x="422.81" y="759.67" width="2.20" height="71.83" fill="#3c5884" />
<rect x="426.14" y="757.92" width="2.20" height="73.58" fill="#3c5884" />
<rect x="429.47" y="769.30" width="2.20" height="62.20" fill="#3c5884" />
<rect x="432.80" y="787.70" width="2.20" height="43.80" fill="#3c5884" />
<rect x="436.13" y="803.03" width="2.20" height="28.47" fill="#3c5884" />
<rect x="439.46" y="810.91" width="2.20" height="20.59" fill="#3c5884" />
<rect x="442.79" y="817.26" width="2.20" height="14.23" fill="#3c5884" />
<rect x="446.12" y="820.55" width="2.20" height="10.95" fill="#3c5884" />
<rect x="449.45" y="823.40" width="2.20" height="8.10" fill="#3c5884" />
<rect x="452.78" y="824.49" width="2.20" height="7.01" fill="#3c5884" />
<rect x="456.11" y="825.37" width="2.20" height="6.13" fill="#3c5884" />
<text x="421.70" y="741.60" font-size="7.0" text-anchor="start" fill="#231f20" textLength="17.00" lengthAdjust="spacingAndGlyphs" >HPCs</text>
<text x="400.60" y="842.80" font-size="7.5" text-anchor="middle" fill="#231f20" textLength="3.50" lengthAdjust="spacingAndGlyphs" >8</text>
<text x="413.92" y="842.80" font-size="7.5" text-anchor="middle" fill="#231f20" textLength="7.00" lengthAdjust="spacingAndGlyphs" >12</text>
<text x="427.24" y="842.80" font-size="7.5" text-anchor="middle" fill="#231f20" textLength="7.00" lengthAdjust="spacingAndGlyphs" >16</text>
<text x="440.56" y="842.80" font-size="7.5" text-anchor="middle" fill="#231f20" textLength="7.00" lengthAdjust="spacingAndGlyphs" >20</text>
<text x="453.88" y="842.80" font-size="7.5" text-anchor="middle" fill="#231f20" textLength="7.00" lengthAdjust="spacingAndGlyphs" >24</text>
<rect x="0.00" y="0.00" width="520.00" height="1.50" fill="#666" />
<rect x="0.00" y="0.00" width="1.20" height="869.00" fill="#111" />
<rect x="518.20" y="0.00" width="1.80" height="869.00" fill="#5c5c5c" />
<rect x="0.00" y="867.00" width="520.00" height="2.00" fill="#5c5c5c" />
</svg>
</body></html>
